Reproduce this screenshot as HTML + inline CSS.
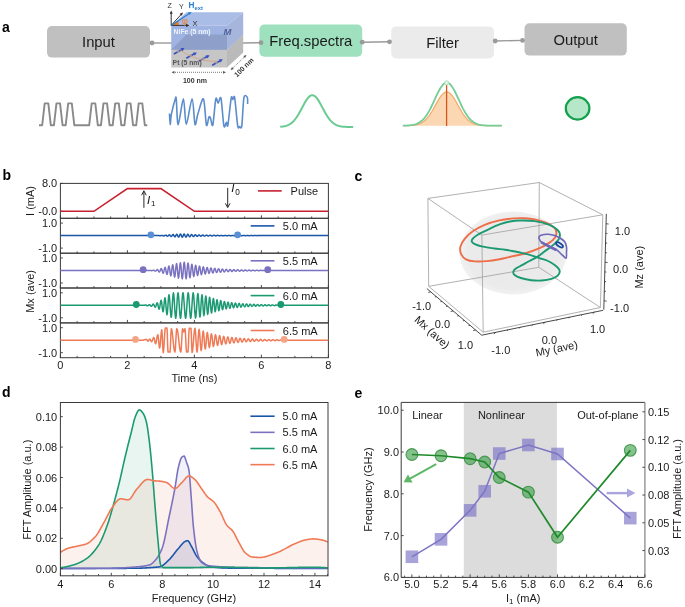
<!DOCTYPE html>
<html><head><meta charset="utf-8"><style>
html,body{margin:0;padding:0;background:#fff;}
svg{display:block;will-change:transform;}
text{font-family:"Liberation Sans", sans-serif;}
</style></head><body>
<svg width="685" height="607" viewBox="0 0 685 607" font-family="Liberation Sans, sans-serif">
<rect width="685" height="607" fill="#fff"/>
<text x="2" y="31.6" font-size="14" text-anchor="start" fill="#000" font-weight="bold" font-style="normal" >a</text>
<text x="2.4" y="180.4" font-size="14" text-anchor="start" fill="#000" font-weight="bold" font-style="normal" >b</text>
<text x="354.4" y="180.6" font-size="14" text-anchor="start" fill="#000" font-weight="bold" font-style="normal" >c</text>
<text x="2" y="397.4" font-size="14" text-anchor="start" fill="#000" font-weight="bold" font-style="normal" >d</text>
<text x="354.4" y="397.6" font-size="14" text-anchor="start" fill="#000" font-weight="bold" font-style="normal" >e</text>
<rect x="47" y="26" width="103" height="31.6" rx="5" ry="5" fill="#c0c0c0"/>
<text x="98.5" y="47.3" font-size="14.8" text-anchor="middle" fill="#1a1a1a" font-weight="normal" font-style="normal" >Input</text>
<rect x="259.4" y="24.5" width="102.8" height="32.2" rx="5" ry="5" fill="#9fe0bf"/>
<text x="310.8" y="46.1" font-size="14.8" text-anchor="middle" fill="#1a1a1a" font-weight="normal" font-style="normal" >Freq.spectra</text>
<rect x="391.2" y="26.4" width="102.8" height="32" rx="5" ry="5" fill="#ebebeb"/>
<text x="442.6" y="47.9" font-size="14.8" text-anchor="middle" fill="#1a1a1a" font-weight="normal" font-style="normal" >Filter</text>
<rect x="524.5" y="23.3" width="102.3" height="32.3" rx="5" ry="5" fill="#c0c0c0"/>
<text x="575.65" y="44.95" font-size="14.8" text-anchor="middle" fill="#1a1a1a" font-weight="normal" font-style="normal" >Output</text>
<g stroke="#9a9a9a" stroke-width="1.4" fill="none">
<line x1="152" y1="43" x2="172" y2="43"/>
<line x1="243" y1="43" x2="261" y2="42.7"/>
<line x1="362.2" y1="42.2" x2="389.5" y2="41.8"/>
<line x1="495.2" y1="41" x2="522.5" y2="40.4"/>
</g>
<circle cx="152" cy="43" r="2.4" fill="#9a9a9a"/>
<circle cx="261" cy="42.7" r="2.4" fill="#9a9a9a"/>
<circle cx="362.2" cy="42.2" r="2.4" fill="#9a9a9a"/>
<circle cx="389.5" cy="41.8" r="2.4" fill="#9a9a9a"/>
<circle cx="495.2" cy="41" r="2.4" fill="#9a9a9a"/>
<circle cx="522.5" cy="40.4" r="2.4" fill="#9a9a9a"/>
<g>
<polygon points="171.2,49.7 186.5,34.5 243.2,34.5 227,49.7" fill="#b9b9b9"/>
<polygon points="171.2,49.7 227,49.7 227,67.4 171.2,67.4" fill="#c6c6c6"/>
<polygon points="227,49.7 243.2,34.5 243.2,52.5 227,67.4" fill="#bababa"/>
<polygon points="171.2,25.4 186.5,12.3 243.2,12.3 227,25.4" fill="#aabde6"/>
<polygon points="171.2,25.4 227,25.4 227,49.7 171.2,49.7" fill="#9fb4e2"/>
<polygon points="171.2,49.7 186.5,34.5 227,34.5 227,49.7" fill="#8e9fca"/>
<polygon points="227,25.4 243.2,12.3 243.2,34.5 227,49.7" fill="#a6b5dc"/>
</g>
<line x1="173.84" y1="54.03" x2="181.96" y2="49.49" stroke="#3a50c0" stroke-width="1.7"/>
<polygon points="184.49,48.08 182.45,51.39 180.59,48.08" fill="#3a50c0"/>
<circle cx="178.3" cy="51.5" r="1.3" fill="#9a9aa8"/>
<line x1="186.24" y1="58.33" x2="194.36" y2="53.79" stroke="#3a50c0" stroke-width="1.7"/>
<polygon points="196.89,52.38 194.85,55.69 192.99,52.38" fill="#3a50c0"/>
<circle cx="190.7" cy="55.8" r="1.3" fill="#9a9aa8"/>
<line x1="198.94" y1="61.13" x2="207.06" y2="56.59" stroke="#3a50c0" stroke-width="1.7"/>
<polygon points="209.59,55.18 207.55,58.49 205.69,55.18" fill="#3a50c0"/>
<circle cx="203.4" cy="58.6" r="1.3" fill="#9a9aa8"/>
<line x1="212.14" y1="65.23" x2="220.26" y2="60.69" stroke="#3a50c0" stroke-width="1.7"/>
<polygon points="222.79,59.28 220.75,62.59 218.89,59.28" fill="#3a50c0"/>
<circle cx="216.6" cy="62.7" r="1.3" fill="#9a9aa8"/>
<path d="M179.2,48.9 Q189,57.5 205.5,60.6 Q211,61.4 216.4,61.3" stroke="#d99a6a" stroke-width="0.7" fill="none"/>
<text x="173.6" y="34.4" font-size="6.8" text-anchor="start" fill="#eef2fb" font-weight="bold" font-style="normal" >NiFe (5 nm)</text>
<text x="223.5" y="35.2" font-size="9.5" text-anchor="start" fill="#52639a" font-weight="bold" font-style="italic" >M</text>
<text x="172.6" y="65.4" font-size="6.8" text-anchor="start" fill="#555" font-weight="bold" font-style="normal" >Pt (5 nm)</text>
<polygon points="171.2,25.4 178.6,25.4 178.6,20.6" fill="#f07a20"/>
<g stroke="#333" stroke-width="1" fill="none">
<line x1="171.2" y1="25.4" x2="171.2" y2="12"/>
<line x1="171.2" y1="25.4" x2="188" y2="25.4"/>
<line x1="171.2" y1="25.4" x2="182" y2="13.5"/>
</g>
<polygon points="171.2,10.6 169.7,13.8 172.7,13.8" fill="#333"/>
<polygon points="189.5,25.4 186,23.8 186,27" fill="#333"/>
<polygon points="183,12.5 179.5,13.7 181.8,15.8" fill="#333"/>
<line x1="171.2" y1="25.4" x2="190" y2="13" stroke="#2a7fd4" stroke-width="1.2"/>
<polygon points="191.7,12 187.8,12.6 189.4,15" fill="#2a7fd4"/>
<text x="181.8" y="23.8" font-size="9.5" text-anchor="start" fill="#f07a20" font-weight="normal" font-style="normal" >φ</text>
<text x="192.4" y="26.2" font-size="7.5" text-anchor="start" fill="#333" font-weight="normal" font-style="normal" >X</text>
<text x="167.5" y="8.1" font-size="7" text-anchor="start" fill="#333" font-weight="normal" font-style="normal" >Z</text>
<text x="179.1" y="8.9" font-size="7" text-anchor="start" fill="#333" font-weight="normal" font-style="normal" >Y</text>
<text x="188.6" y="8.1" font-size="8.2" fill="#2a7fd4" font-weight="bold">H<tspan font-size="5.8" dy="1.6">ext</tspan></text>
<line x1="173" y1="72.3" x2="224.5" y2="72.3" stroke="#555" stroke-width="0.8" stroke-dasharray="1,1"/>
<polygon points="171.5,72.3 174.5,70.9 174.5,73.7" fill="#555"/>
<polygon points="226,72.3 223,70.9 223,73.7" fill="#555"/>
<text x="195" y="82.5" font-size="7" text-anchor="middle" fill="#333" font-weight="bold" font-style="normal" >100 nm</text>
<line x1="231.5" y1="69.2" x2="245.5" y2="56" stroke="#555" stroke-width="0.8" stroke-dasharray="1,1"/>
<polygon points="230.6,70 232,67 233.8,69" fill="#555"/>
<polygon points="246.5,55 245,58 243.3,56" fill="#555"/>
<text x="0" y="0" font-size="7" fill="#333" font-weight="bold" text-anchor="middle" transform="translate(245.5,69.1) rotate(-44.5)">100 nm</text>
<path d="M39,125.2 L42.2,125.2 L44.7,103.4 L48.3,103.4 L50.8,125.2 L53.95,125.2 L56.45,103.4 L60.05,103.4 L62.55,125.2 L65.7,125.2 L68.2,103.4 L71.8,103.4 L74.3,125.2 L89.2,125.2 L91.7,103.4 L95.3,103.4 L97.8,125.2 L100.95,125.2 L103.45,103.4 L107.05,103.4 L109.55,125.2 L112.7,125.2 L115.2,103.4 L118.8,103.4 L121.3,125.2 L124.45,125.2 L126.95,103.4 L130.55,103.4 L133.05,125.2 L136.2,125.2 L138.7,103.4 L142.3,103.4 L144.8,125.2 L147.3,125.2" stroke="#8a8a8a" stroke-width="1.9" fill="none" stroke-linejoin="round"/>
<path d="M169.5,113.5 C169.6,115.14 169.91,124.3 170.2,124.4 C170.48,124.51 170.63,118.03 171.4,114.2 C172.17,110.38 174.56,101.09 175.3,98.9 C176.04,96.71 175.87,95.73 176.3,99.6 C176.74,103.47 177.13,124.81 178.2,124.7 C179.26,124.59 182.19,98.95 183.4,98.9 C184.62,98.86 185,124.4 186.3,124.4 C187.61,124.4 190.79,98.9 192.1,98.9 C193.41,98.9 194.12,122.21 195,124.4 C195.88,126.59 196.72,117.33 198,113.5 C199.28,109.67 202.24,97.16 203.5,98.9 C204.76,100.64 205.59,122.37 206.4,125.1 C207.21,127.83 208.3,118.19 208.9,117.1 C209.5,116 209.81,116.6 210.4,117.8 C210.99,119 211.99,127.93 212.8,125.1 C213.61,122.27 215.01,102.19 215.8,98.9 C216.59,95.62 217.32,103.28 218.1,103.2 C218.88,103.12 220.13,95 221,98.4 C221.87,101.81 223.09,122.33 223.9,125.9 C224.71,129.47 225.8,122.32 226.4,122.2 C227,122.08 227.18,128.72 227.9,125.1 C228.62,121.48 230.45,101.92 231.2,98.1 C231.95,94.27 232.38,99.64 232.9,99.6 C233.43,99.55 233.98,93.85 234.7,97.8 C235.42,101.75 236.96,121.58 237.7,125.9 C238.44,130.22 238.98,126.6 239.6,126.6 C240.22,126.6 241.16,130.22 241.8,125.9 C242.45,121.58 243.08,102.08 243.9,97.8 C244.72,93.52 246.75,96.47 247.3,97.4 C247.86,98.33 247.56,103.01 247.6,104" stroke="#5b8ccb" stroke-width="1.6" fill="none" stroke-linejoin="round"/>
<path d="M280.2,126.78 L281.12,126.7 L282.05,126.61 L282.97,126.49 L283.9,126.34 L284.82,126.16 L285.74,125.93 L286.67,125.65 L287.59,125.31 L288.52,124.9 L289.44,124.42 L290.36,123.85 L291.29,123.19 L292.21,122.43 L293.14,121.56 L294.06,120.57 L294.98,119.47 L295.91,118.26 L296.83,116.93 L297.76,115.49 L298.68,113.96 L299.61,112.34 L300.53,110.66 L301.45,108.93 L302.38,107.19 L303.3,105.45 L304.23,103.75 L305.15,102.13 L306.07,100.61 L307,99.22 L307.92,98 L308.85,96.97 L309.77,96.16 L310.69,95.59 L311.62,95.27 L312.54,95.21 L313.47,95.41 L314.39,95.86 L315.31,96.56 L316.24,97.48 L317.16,98.62 L318.09,99.93 L319.01,101.39 L319.93,102.97 L320.86,104.64 L321.78,106.36 L322.71,108.1 L323.63,109.84 L324.55,111.55 L325.48,113.2 L326.4,114.77 L327.33,116.26 L328.25,117.64 L329.17,118.91 L330.1,120.06 L331.02,121.1 L331.95,122.03 L332.87,122.84 L333.79,123.55 L334.72,124.16 L335.64,124.68 L336.57,125.12 L337.49,125.49 L338.42,125.8 L339.34,126.05 L340.26,126.26 L341.19,126.42 L342.11,126.56 L343.04,126.66 L343.96,126.74 L344.88,126.81 L345.81,126.86 L346.73,126.89 L347.66,126.92 L348.58,126.94 L349.5,126.96 L350.43,126.97 L351.35,126.98 L352.28,126.99 L353.2,126.99" stroke="#6acb92" stroke-width="2" fill="none"/>
<path d="M402.9,125.68 L404.15,125.67 L405.4,125.66 L406.66,125.64 L407.91,125.61 L409.16,125.56 L410.41,125.51 L411.66,125.42 L412.92,125.31 L414.17,125.16 L415.42,124.97 L416.67,124.71 L417.92,124.38 L419.17,123.96 L420.43,123.44 L421.68,122.79 L422.93,122 L424.18,121.06 L425.43,119.95 L426.69,118.66 L427.94,117.18 L429.19,115.53 L430.44,113.69 L431.69,111.71 L432.95,109.59 L434.2,107.37 L435.45,105.11 L436.7,102.85 L437.95,100.65 L439.21,98.57 L440.46,96.68 L441.71,95.04 L442.96,93.7 L444.21,92.71 L445.46,92.1 L446.72,91.9 L447.97,92.11 L449.22,92.73 L450.47,93.73 L451.72,95.08 L452.98,96.73 L454.23,98.63 L455.48,100.71 L456.73,102.91 L457.98,105.17 L459.24,107.43 L460.49,109.64 L461.74,111.76 L462.99,113.74 L464.24,115.57 L465.49,117.22 L466.75,118.69 L468,119.98 L469.25,121.09 L470.5,122.02 L471.75,122.81 L473.01,123.45 L474.26,123.97 L475.51,124.39 L476.76,124.72 L478.01,124.97 L479.27,125.17 L480.52,125.32 L481.77,125.43 L483.02,125.51 L484.27,125.57 L485.53,125.61 L486.78,125.64 L488.03,125.66 L489.28,125.67 L490.53,125.68 L491.78,125.69 L493.04,125.69 L494.29,125.7 L495.54,125.7 L496.79,125.7 L498.04,125.7 L499.3,125.7 L500.55,125.7 L501.8,125.7 L501.8,125.7 L402.9,125.7 Z" fill="#fcd7b4" stroke="none"/>
<path d="M402.9,125.68 L404.15,125.67 L405.4,125.66 L406.66,125.64 L407.91,125.61 L409.16,125.56 L410.41,125.51 L411.66,125.42 L412.92,125.31 L414.17,125.16 L415.42,124.97 L416.67,124.71 L417.92,124.38 L419.17,123.96 L420.43,123.44 L421.68,122.79 L422.93,122 L424.18,121.06 L425.43,119.95 L426.69,118.66 L427.94,117.18 L429.19,115.53 L430.44,113.69 L431.69,111.71 L432.95,109.59 L434.2,107.37 L435.45,105.11 L436.7,102.85 L437.95,100.65 L439.21,98.57 L440.46,96.68 L441.71,95.04 L442.96,93.7 L444.21,92.71 L445.46,92.1 L446.72,91.9 L447.97,92.11 L449.22,92.73 L450.47,93.73 L451.72,95.08 L452.98,96.73 L454.23,98.63 L455.48,100.71 L456.73,102.91 L457.98,105.17 L459.24,107.43 L460.49,109.64 L461.74,111.76 L462.99,113.74 L464.24,115.57 L465.49,117.22 L466.75,118.69 L468,119.98 L469.25,121.09 L470.5,122.02 L471.75,122.81 L473.01,123.45 L474.26,123.97 L475.51,124.39 L476.76,124.72 L478.01,124.97 L479.27,125.17 L480.52,125.32 L481.77,125.43 L483.02,125.51 L484.27,125.57 L485.53,125.61 L486.78,125.64 L488.03,125.66 L489.28,125.67 L490.53,125.68 L491.78,125.69 L493.04,125.69 L494.29,125.7 L495.54,125.7 L496.79,125.7 L498.04,125.7 L499.3,125.7 L500.55,125.7 L501.8,125.7" stroke="#f2aa66" stroke-width="1.2" fill="none"/>
<path d="M402.9,125.64 L404.15,125.62 L405.4,125.58 L406.66,125.54 L407.91,125.47 L409.16,125.38 L410.41,125.25 L411.66,125.09 L412.92,124.88 L414.17,124.61 L415.42,124.26 L416.67,123.82 L417.92,123.27 L419.17,122.6 L420.43,121.78 L421.68,120.8 L422.93,119.64 L424.18,118.29 L425.43,116.74 L426.69,114.97 L427.94,113 L429.19,110.84 L430.44,108.49 L431.69,105.98 L432.95,103.35 L434.2,100.65 L435.45,97.93 L436.7,95.24 L437.95,92.65 L439.21,90.24 L440.46,88.06 L441.71,86.17 L442.96,84.64 L444.21,83.52 L445.46,82.83 L446.72,82.6 L447.97,82.84 L449.22,83.54 L450.47,84.68 L451.72,86.22 L452.98,88.11 L454.23,90.3 L455.48,92.72 L456.73,95.31 L457.98,98 L459.24,100.72 L460.49,103.42 L461.74,106.05 L462.99,108.55 L464.24,110.9 L465.49,113.06 L466.75,115.02 L468,116.78 L469.25,118.33 L470.5,119.67 L471.75,120.83 L473.01,121.8 L474.26,122.62 L475.51,123.29 L476.76,123.83 L478.01,124.27 L479.27,124.62 L480.52,124.89 L481.77,125.1 L483.02,125.26 L484.27,125.38 L485.53,125.47 L486.78,125.54 L488.03,125.59 L489.28,125.62 L490.53,125.65 L491.78,125.66 L493.04,125.68 L494.29,125.68 L495.54,125.69 L496.79,125.69 L498.04,125.7 L499.3,125.7 L500.55,125.7 L501.8,125.7" stroke="#74cc96" stroke-width="1.8" fill="none"/>
<line x1="446.6" y1="84" x2="446.6" y2="126" stroke="#d4561c" stroke-width="1.3"/>
<circle cx="446.7" cy="82.8" r="2.2" fill="#dff2e6" stroke="#9ad9b0" stroke-width="0.6"/>
<ellipse cx="577.6" cy="108.4" rx="11.8" ry="11.2" fill="#b5e7c8" stroke="#12a04c" stroke-width="2.2"/>
<rect x="60.4" y="183.4" width="268" height="34.9" fill="none" stroke="#3a3a3a" stroke-width="1"/>
<line x1="60.4" y1="218.3" x2="60.4" y2="215.3" stroke="#3a3a3a" stroke-width="0.9"/>
<line x1="77.15" y1="218.3" x2="77.15" y2="216.5" stroke="#3a3a3a" stroke-width="0.9"/>
<line x1="93.9" y1="218.3" x2="93.9" y2="216.5" stroke="#3a3a3a" stroke-width="0.9"/>
<line x1="110.65" y1="218.3" x2="110.65" y2="216.5" stroke="#3a3a3a" stroke-width="0.9"/>
<line x1="127.4" y1="218.3" x2="127.4" y2="215.3" stroke="#3a3a3a" stroke-width="0.9"/>
<line x1="144.15" y1="218.3" x2="144.15" y2="216.5" stroke="#3a3a3a" stroke-width="0.9"/>
<line x1="160.9" y1="218.3" x2="160.9" y2="216.5" stroke="#3a3a3a" stroke-width="0.9"/>
<line x1="177.65" y1="218.3" x2="177.65" y2="216.5" stroke="#3a3a3a" stroke-width="0.9"/>
<line x1="194.4" y1="218.3" x2="194.4" y2="215.3" stroke="#3a3a3a" stroke-width="0.9"/>
<line x1="211.15" y1="218.3" x2="211.15" y2="216.5" stroke="#3a3a3a" stroke-width="0.9"/>
<line x1="227.9" y1="218.3" x2="227.9" y2="216.5" stroke="#3a3a3a" stroke-width="0.9"/>
<line x1="244.65" y1="218.3" x2="244.65" y2="216.5" stroke="#3a3a3a" stroke-width="0.9"/>
<line x1="261.4" y1="218.3" x2="261.4" y2="215.3" stroke="#3a3a3a" stroke-width="0.9"/>
<line x1="278.15" y1="218.3" x2="278.15" y2="216.5" stroke="#3a3a3a" stroke-width="0.9"/>
<line x1="294.9" y1="218.3" x2="294.9" y2="216.5" stroke="#3a3a3a" stroke-width="0.9"/>
<line x1="311.65" y1="218.3" x2="311.65" y2="216.5" stroke="#3a3a3a" stroke-width="0.9"/>
<line x1="328.4" y1="218.3" x2="328.4" y2="215.3" stroke="#3a3a3a" stroke-width="0.9"/>
<rect x="60.4" y="218.3" width="268" height="34.9" fill="none" stroke="#3a3a3a" stroke-width="1"/>
<line x1="60.4" y1="253.2" x2="60.4" y2="250.2" stroke="#3a3a3a" stroke-width="0.9"/>
<line x1="77.15" y1="253.2" x2="77.15" y2="251.4" stroke="#3a3a3a" stroke-width="0.9"/>
<line x1="93.9" y1="253.2" x2="93.9" y2="251.4" stroke="#3a3a3a" stroke-width="0.9"/>
<line x1="110.65" y1="253.2" x2="110.65" y2="251.4" stroke="#3a3a3a" stroke-width="0.9"/>
<line x1="127.4" y1="253.2" x2="127.4" y2="250.2" stroke="#3a3a3a" stroke-width="0.9"/>
<line x1="144.15" y1="253.2" x2="144.15" y2="251.4" stroke="#3a3a3a" stroke-width="0.9"/>
<line x1="160.9" y1="253.2" x2="160.9" y2="251.4" stroke="#3a3a3a" stroke-width="0.9"/>
<line x1="177.65" y1="253.2" x2="177.65" y2="251.4" stroke="#3a3a3a" stroke-width="0.9"/>
<line x1="194.4" y1="253.2" x2="194.4" y2="250.2" stroke="#3a3a3a" stroke-width="0.9"/>
<line x1="211.15" y1="253.2" x2="211.15" y2="251.4" stroke="#3a3a3a" stroke-width="0.9"/>
<line x1="227.9" y1="253.2" x2="227.9" y2="251.4" stroke="#3a3a3a" stroke-width="0.9"/>
<line x1="244.65" y1="253.2" x2="244.65" y2="251.4" stroke="#3a3a3a" stroke-width="0.9"/>
<line x1="261.4" y1="253.2" x2="261.4" y2="250.2" stroke="#3a3a3a" stroke-width="0.9"/>
<line x1="278.15" y1="253.2" x2="278.15" y2="251.4" stroke="#3a3a3a" stroke-width="0.9"/>
<line x1="294.9" y1="253.2" x2="294.9" y2="251.4" stroke="#3a3a3a" stroke-width="0.9"/>
<line x1="311.65" y1="253.2" x2="311.65" y2="251.4" stroke="#3a3a3a" stroke-width="0.9"/>
<line x1="328.4" y1="253.2" x2="328.4" y2="250.2" stroke="#3a3a3a" stroke-width="0.9"/>
<rect x="60.4" y="253.2" width="268" height="34.8" fill="none" stroke="#3a3a3a" stroke-width="1"/>
<line x1="60.4" y1="288" x2="60.4" y2="285" stroke="#3a3a3a" stroke-width="0.9"/>
<line x1="77.15" y1="288" x2="77.15" y2="286.2" stroke="#3a3a3a" stroke-width="0.9"/>
<line x1="93.9" y1="288" x2="93.9" y2="286.2" stroke="#3a3a3a" stroke-width="0.9"/>
<line x1="110.65" y1="288" x2="110.65" y2="286.2" stroke="#3a3a3a" stroke-width="0.9"/>
<line x1="127.4" y1="288" x2="127.4" y2="285" stroke="#3a3a3a" stroke-width="0.9"/>
<line x1="144.15" y1="288" x2="144.15" y2="286.2" stroke="#3a3a3a" stroke-width="0.9"/>
<line x1="160.9" y1="288" x2="160.9" y2="286.2" stroke="#3a3a3a" stroke-width="0.9"/>
<line x1="177.65" y1="288" x2="177.65" y2="286.2" stroke="#3a3a3a" stroke-width="0.9"/>
<line x1="194.4" y1="288" x2="194.4" y2="285" stroke="#3a3a3a" stroke-width="0.9"/>
<line x1="211.15" y1="288" x2="211.15" y2="286.2" stroke="#3a3a3a" stroke-width="0.9"/>
<line x1="227.9" y1="288" x2="227.9" y2="286.2" stroke="#3a3a3a" stroke-width="0.9"/>
<line x1="244.65" y1="288" x2="244.65" y2="286.2" stroke="#3a3a3a" stroke-width="0.9"/>
<line x1="261.4" y1="288" x2="261.4" y2="285" stroke="#3a3a3a" stroke-width="0.9"/>
<line x1="278.15" y1="288" x2="278.15" y2="286.2" stroke="#3a3a3a" stroke-width="0.9"/>
<line x1="294.9" y1="288" x2="294.9" y2="286.2" stroke="#3a3a3a" stroke-width="0.9"/>
<line x1="311.65" y1="288" x2="311.65" y2="286.2" stroke="#3a3a3a" stroke-width="0.9"/>
<line x1="328.4" y1="288" x2="328.4" y2="285" stroke="#3a3a3a" stroke-width="0.9"/>
<rect x="60.4" y="288" width="268" height="34.9" fill="none" stroke="#3a3a3a" stroke-width="1"/>
<line x1="60.4" y1="322.9" x2="60.4" y2="319.9" stroke="#3a3a3a" stroke-width="0.9"/>
<line x1="77.15" y1="322.9" x2="77.15" y2="321.1" stroke="#3a3a3a" stroke-width="0.9"/>
<line x1="93.9" y1="322.9" x2="93.9" y2="321.1" stroke="#3a3a3a" stroke-width="0.9"/>
<line x1="110.65" y1="322.9" x2="110.65" y2="321.1" stroke="#3a3a3a" stroke-width="0.9"/>
<line x1="127.4" y1="322.9" x2="127.4" y2="319.9" stroke="#3a3a3a" stroke-width="0.9"/>
<line x1="144.15" y1="322.9" x2="144.15" y2="321.1" stroke="#3a3a3a" stroke-width="0.9"/>
<line x1="160.9" y1="322.9" x2="160.9" y2="321.1" stroke="#3a3a3a" stroke-width="0.9"/>
<line x1="177.65" y1="322.9" x2="177.65" y2="321.1" stroke="#3a3a3a" stroke-width="0.9"/>
<line x1="194.4" y1="322.9" x2="194.4" y2="319.9" stroke="#3a3a3a" stroke-width="0.9"/>
<line x1="211.15" y1="322.9" x2="211.15" y2="321.1" stroke="#3a3a3a" stroke-width="0.9"/>
<line x1="227.9" y1="322.9" x2="227.9" y2="321.1" stroke="#3a3a3a" stroke-width="0.9"/>
<line x1="244.65" y1="322.9" x2="244.65" y2="321.1" stroke="#3a3a3a" stroke-width="0.9"/>
<line x1="261.4" y1="322.9" x2="261.4" y2="319.9" stroke="#3a3a3a" stroke-width="0.9"/>
<line x1="278.15" y1="322.9" x2="278.15" y2="321.1" stroke="#3a3a3a" stroke-width="0.9"/>
<line x1="294.9" y1="322.9" x2="294.9" y2="321.1" stroke="#3a3a3a" stroke-width="0.9"/>
<line x1="311.65" y1="322.9" x2="311.65" y2="321.1" stroke="#3a3a3a" stroke-width="0.9"/>
<line x1="328.4" y1="322.9" x2="328.4" y2="319.9" stroke="#3a3a3a" stroke-width="0.9"/>
<rect x="60.4" y="322.9" width="268" height="34.8" fill="none" stroke="#3a3a3a" stroke-width="1"/>
<line x1="60.4" y1="357.7" x2="60.4" y2="354.7" stroke="#3a3a3a" stroke-width="0.9"/>
<line x1="77.15" y1="357.7" x2="77.15" y2="355.9" stroke="#3a3a3a" stroke-width="0.9"/>
<line x1="93.9" y1="357.7" x2="93.9" y2="355.9" stroke="#3a3a3a" stroke-width="0.9"/>
<line x1="110.65" y1="357.7" x2="110.65" y2="355.9" stroke="#3a3a3a" stroke-width="0.9"/>
<line x1="127.4" y1="357.7" x2="127.4" y2="354.7" stroke="#3a3a3a" stroke-width="0.9"/>
<line x1="144.15" y1="357.7" x2="144.15" y2="355.9" stroke="#3a3a3a" stroke-width="0.9"/>
<line x1="160.9" y1="357.7" x2="160.9" y2="355.9" stroke="#3a3a3a" stroke-width="0.9"/>
<line x1="177.65" y1="357.7" x2="177.65" y2="355.9" stroke="#3a3a3a" stroke-width="0.9"/>
<line x1="194.4" y1="357.7" x2="194.4" y2="354.7" stroke="#3a3a3a" stroke-width="0.9"/>
<line x1="211.15" y1="357.7" x2="211.15" y2="355.9" stroke="#3a3a3a" stroke-width="0.9"/>
<line x1="227.9" y1="357.7" x2="227.9" y2="355.9" stroke="#3a3a3a" stroke-width="0.9"/>
<line x1="244.65" y1="357.7" x2="244.65" y2="355.9" stroke="#3a3a3a" stroke-width="0.9"/>
<line x1="261.4" y1="357.7" x2="261.4" y2="354.7" stroke="#3a3a3a" stroke-width="0.9"/>
<line x1="278.15" y1="357.7" x2="278.15" y2="355.9" stroke="#3a3a3a" stroke-width="0.9"/>
<line x1="294.9" y1="357.7" x2="294.9" y2="355.9" stroke="#3a3a3a" stroke-width="0.9"/>
<line x1="311.65" y1="357.7" x2="311.65" y2="355.9" stroke="#3a3a3a" stroke-width="0.9"/>
<line x1="328.4" y1="357.7" x2="328.4" y2="354.7" stroke="#3a3a3a" stroke-width="0.9"/>
<line x1="60.4" y1="183.38" x2="62.9" y2="183.38" stroke="#3a3a3a" stroke-width="0.9"/>
<text x="57.2" y="187.38" font-size="11" text-anchor="end" fill="#1a1a1a" font-weight="normal" font-style="normal" >8.0</text>
<line x1="60.4" y1="211.3" x2="62.9" y2="211.3" stroke="#3a3a3a" stroke-width="0.9"/>
<text x="57.2" y="215.3" font-size="11" text-anchor="end" fill="#1a1a1a" font-weight="normal" font-style="normal" >-0.0</text>
<path d="M60.4,211.3 L93.9,211.3 L127.4,188.62 L160.9,188.62 L194.4,211.3 L328.4,211.3" stroke="#c8202e" stroke-width="1.6" fill="none"/>
<line x1="143.9" y1="207.8" x2="143.9" y2="192" stroke="#111" stroke-width="0.9"/>
<path d="M141.6,195.2 L143.9,190.8 L146.2,195.2" stroke="#111" stroke-width="0.9" fill="none"/>
<text x="147" y="204.4" font-size="11.5" fill="#111" font-style="italic">I<tspan font-size="8" font-style="normal" dx="0.8" dy="1.6">1</tspan></text>
<line x1="227.7" y1="187.8" x2="227.7" y2="206.5" stroke="#111" stroke-width="0.9"/>
<path d="M225.4,203.4 L227.7,207.6 L230,203.4" stroke="#111" stroke-width="0.9" fill="none"/>
<text x="231.2" y="192.2" font-size="11.5" fill="#111" font-style="italic">I<tspan font-size="8.2" font-style="normal" dx="0.9" dy="2.3">0</tspan></text>
<line x1="258" y1="190.9" x2="281.7" y2="190.9" stroke="#c8202e" stroke-width="1.6"/>
<text x="290.6" y="194.9" font-size="11" text-anchor="start" fill="#1a1a1a" font-weight="normal" font-style="normal" >Pulse</text>
<line x1="60.4" y1="223.1" x2="62.9" y2="223.1" stroke="#3a3a3a" stroke-width="0.9"/>
<text x="57.2" y="227.1" font-size="11" text-anchor="end" fill="#1a1a1a" font-weight="normal" font-style="normal" >1.0</text>
<line x1="60.4" y1="248.1" x2="62.9" y2="248.1" stroke="#3a3a3a" stroke-width="0.9"/>
<text x="57.2" y="252.1" font-size="11" text-anchor="end" fill="#1a1a1a" font-weight="normal" font-style="normal" >-1.0</text>
<path d="M60.4,235.6 L60.67,235.6 L60.94,235.6 L61.2,235.6 L61.47,235.6 L61.74,235.6 L62.01,235.6 L62.28,235.6 L62.54,235.6 L62.81,235.6 L63.08,235.6 L63.35,235.6 L63.62,235.6 L63.88,235.6 L64.15,235.6 L64.42,235.6 L64.69,235.6 L64.96,235.6 L65.22,235.6 L65.49,235.6 L65.76,235.6 L66.03,235.6 L66.3,235.6 L66.56,235.6 L66.83,235.6 L67.1,235.6 L67.37,235.6 L67.64,235.6 L67.9,235.6 L68.17,235.6 L68.44,235.6 L68.71,235.6 L68.98,235.6 L69.24,235.6 L69.51,235.6 L69.78,235.6 L70.05,235.6 L70.32,235.6 L70.58,235.6 L70.85,235.6 L71.12,235.6 L71.39,235.6 L71.66,235.6 L71.92,235.6 L72.19,235.6 L72.46,235.6 L72.73,235.6 L73,235.6 L73.26,235.6 L73.53,235.6 L73.8,235.6 L74.07,235.6 L74.34,235.6 L74.6,235.6 L74.87,235.6 L75.14,235.6 L75.41,235.6 L75.68,235.6 L75.94,235.6 L76.21,235.6 L76.48,235.6 L76.75,235.6 L77.02,235.6 L77.28,235.6 L77.55,235.6 L77.82,235.6 L78.09,235.6 L78.36,235.6 L78.62,235.6 L78.89,235.6 L79.16,235.6 L79.43,235.6 L79.7,235.6 L79.96,235.6 L80.23,235.6 L80.5,235.6 L80.77,235.6 L81.04,235.6 L81.3,235.6 L81.57,235.6 L81.84,235.6 L82.11,235.6 L82.38,235.6 L82.64,235.6 L82.91,235.6 L83.18,235.6 L83.45,235.6 L83.72,235.6 L83.98,235.6 L84.25,235.6 L84.52,235.6 L84.79,235.6 L85.06,235.6 L85.32,235.6 L85.59,235.6 L85.86,235.6 L86.13,235.6 L86.4,235.6 L86.66,235.6 L86.93,235.6 L87.2,235.6 L87.47,235.6 L87.74,235.6 L88,235.6 L88.27,235.6 L88.54,235.6 L88.81,235.6 L89.08,235.6 L89.34,235.6 L89.61,235.6 L89.88,235.6 L90.15,235.6 L90.42,235.6 L90.68,235.6 L90.95,235.6 L91.22,235.6 L91.49,235.6 L91.76,235.6 L92.02,235.6 L92.29,235.6 L92.56,235.6 L92.83,235.6 L93.1,235.6 L93.36,235.6 L93.63,235.6 L93.9,235.6 L94.17,235.6 L94.44,235.6 L94.7,235.6 L94.97,235.6 L95.24,235.6 L95.51,235.6 L95.78,235.6 L96.04,235.6 L96.31,235.6 L96.58,235.6 L96.85,235.6 L97.12,235.6 L97.38,235.6 L97.65,235.6 L97.92,235.6 L98.19,235.6 L98.46,235.6 L98.72,235.6 L98.99,235.6 L99.26,235.6 L99.53,235.6 L99.8,235.6 L100.06,235.6 L100.33,235.6 L100.6,235.6 L100.87,235.6 L101.14,235.6 L101.4,235.6 L101.67,235.6 L101.94,235.6 L102.21,235.6 L102.48,235.6 L102.74,235.6 L103.01,235.6 L103.28,235.6 L103.55,235.6 L103.82,235.6 L104.08,235.6 L104.35,235.6 L104.62,235.6 L104.89,235.6 L105.16,235.6 L105.42,235.6 L105.69,235.6 L105.96,235.6 L106.23,235.6 L106.5,235.6 L106.76,235.6 L107.03,235.6 L107.3,235.6 L107.57,235.6 L107.84,235.6 L108.1,235.6 L108.37,235.6 L108.64,235.6 L108.91,235.6 L109.18,235.6 L109.44,235.6 L109.71,235.6 L109.98,235.6 L110.25,235.6 L110.52,235.6 L110.78,235.6 L111.05,235.6 L111.32,235.6 L111.59,235.6 L111.86,235.6 L112.12,235.6 L112.39,235.6 L112.66,235.6 L112.93,235.6 L113.2,235.6 L113.46,235.6 L113.73,235.6 L114,235.6 L114.27,235.6 L114.54,235.6 L114.8,235.6 L115.07,235.6 L115.34,235.6 L115.61,235.6 L115.88,235.6 L116.14,235.6 L116.41,235.6 L116.68,235.6 L116.95,235.6 L117.22,235.6 L117.48,235.6 L117.75,235.6 L118.02,235.6 L118.29,235.6 L118.56,235.6 L118.82,235.6 L119.09,235.6 L119.36,235.6 L119.63,235.6 L119.9,235.6 L120.16,235.6 L120.43,235.6 L120.7,235.6 L120.97,235.6 L121.24,235.6 L121.5,235.6 L121.77,235.6 L122.04,235.6 L122.31,235.6 L122.58,235.6 L122.84,235.6 L123.11,235.6 L123.38,235.6 L123.65,235.6 L123.92,235.6 L124.18,235.6 L124.45,235.6 L124.72,235.6 L124.99,235.6 L125.26,235.6 L125.52,235.6 L125.79,235.6 L126.06,235.6 L126.33,235.6 L126.6,235.6 L126.86,235.6 L127.13,235.6 L127.4,235.6 L127.67,235.6 L127.94,235.6 L128.2,235.6 L128.47,235.6 L128.74,235.6 L129.01,235.6 L129.28,235.6 L129.54,235.6 L129.81,235.6 L130.08,235.6 L130.35,235.6 L130.62,235.6 L130.88,235.6 L131.15,235.6 L131.42,235.6 L131.69,235.6 L131.96,235.6 L132.22,235.6 L132.49,235.6 L132.76,235.6 L133.03,235.6 L133.3,235.6 L133.56,235.6 L133.83,235.6 L134.1,235.6 L134.37,235.6 L134.64,235.6 L134.9,235.6 L135.17,235.6 L135.44,235.6 L135.71,235.6 L135.98,235.6 L136.24,235.6 L136.51,235.6 L136.78,235.6 L137.05,235.6 L137.32,235.6 L137.58,235.6 L137.85,235.6 L138.12,235.6 L138.39,235.6 L138.66,235.6 L138.92,235.6 L139.19,235.6 L139.46,235.6 L139.73,235.6 L140,235.6 L140.26,235.6 L140.53,235.6 L140.8,235.6 L141.07,235.6 L141.34,235.6 L141.6,235.6 L141.87,235.6 L142.14,235.6 L142.41,235.6 L142.68,235.6 L142.94,235.6 L143.21,235.6 L143.48,235.6 L143.75,235.6 L144.02,235.6 L144.28,235.6 L144.55,235.6 L144.82,235.6 L145.09,235.6 L145.36,235.6 L145.62,235.6 L145.89,235.6 L146.16,235.6 L146.43,235.6 L146.7,235.6 L146.96,235.6 L147.23,235.6 L147.5,235.6 L147.77,235.6 L148.04,235.6 L148.3,235.6 L148.57,235.6 L148.84,235.6 L149.11,235.6 L149.38,235.6 L149.64,235.6 L149.91,235.6 L150.18,235.6 L150.45,235.6 L150.72,235.6 L150.98,235.6 L151.25,235.6 L151.52,235.6 L151.79,235.6 L152.06,235.6 L152.32,235.6 L152.59,235.6 L152.86,235.6 L153.13,235.6 L153.4,235.6 L153.66,235.6 L153.93,235.6 L154.2,235.6 L154.47,235.6 L154.74,235.6 L155,235.6 L155.27,235.6 L155.54,235.6 L155.81,235.6 L156.08,235.6 L156.34,235.6 L156.61,235.6 L156.88,235.6 L157.15,235.6 L157.42,235.59 L157.68,235.59 L157.95,235.58 L158.22,235.57 L158.49,235.57 L158.76,235.58 L159.02,235.6 L159.29,235.63 L159.56,235.66 L159.83,235.68 L160.1,235.7 L160.36,235.69 L160.63,235.65 L160.9,235.6 L161.17,235.53 L161.44,235.47 L161.7,235.42 L161.97,235.41 L162.24,235.44 L162.51,235.51 L162.78,235.61 L163.04,235.72 L163.31,235.82 L163.58,235.89 L163.85,235.91 L164.12,235.85 L164.38,235.74 L164.65,235.58 L164.92,235.41 L165.19,235.26 L165.46,235.17 L165.72,235.16 L165.99,235.25 L166.26,235.42 L166.53,235.64 L166.8,235.87 L167.06,236.07 L167.33,236.18 L167.6,236.18 L167.87,236.06 L168.14,235.83 L168.4,235.53 L168.67,235.23 L168.94,234.99 L169.21,234.86 L169.48,234.87 L169.74,235.04 L170.01,235.34 L170.28,235.71 L170.55,236.07 L170.82,236.36 L171.08,236.51 L171.35,236.47 L171.62,236.26 L171.89,235.89 L172.16,235.45 L172.42,235.02 L172.69,234.69 L172.96,234.53 L173.23,234.59 L173.5,234.86 L173.76,235.29 L174.03,235.8 L174.3,236.29 L174.57,236.66 L174.84,236.82 L175.1,236.73 L175.37,236.41 L175.64,235.92 L175.91,235.34 L176.18,234.8 L176.44,234.41 L176.71,234.25 L176.98,234.36 L177.25,234.73 L177.52,235.28 L177.78,235.92 L178.05,236.5 L178.32,236.91 L178.59,237.07 L178.86,236.92 L179.12,236.51 L179.39,235.9 L179.66,235.22 L179.93,234.61 L180.2,234.19 L180.46,234.05 L180.73,234.22 L181,234.68 L181.27,235.32 L181.54,236.03 L181.8,236.66 L182.07,237.08 L182.34,237.21 L182.61,237 L182.88,236.52 L183.14,235.84 L183.41,235.12 L183.68,234.49 L183.95,234.08 L184.22,234 L184.48,234.24 L184.75,234.75 L185.02,235.41 L185.29,236.09 L185.56,236.65 L185.82,236.99 L186.09,237.04 L186.36,236.81 L186.63,236.34 L186.9,235.74 L187.16,235.13 L187.43,234.63 L187.7,234.33 L187.97,234.3 L188.24,234.53 L188.5,234.96 L188.77,235.51 L189.04,236.06 L189.31,236.5 L189.58,236.75 L189.84,236.77 L190.11,236.55 L190.38,236.15 L190.65,235.66 L190.92,235.16 L191.18,234.77 L191.45,234.55 L191.72,234.55 L191.99,234.75 L192.26,235.12 L192.52,235.57 L192.79,236.02 L193.06,236.37 L193.33,236.55 L193.6,236.54 L193.86,236.35 L194.13,236.01 L194.4,235.6 L194.67,235.2 L194.94,234.89 L195.2,234.73 L195.47,234.75 L195.74,234.94 L196.01,235.25 L196.28,235.62 L196.54,235.98 L196.81,236.25 L197.08,236.39 L197.35,236.36 L197.62,236.19 L197.88,235.9 L198.15,235.56 L198.42,235.24 L198.69,235 L198.96,234.89 L199.22,234.92 L199.49,235.08 L199.76,235.35 L200.03,235.65 L200.3,235.94 L200.56,236.15 L200.83,236.25 L201.1,236.21 L201.37,236.06 L201.64,235.82 L201.9,235.54 L202.17,235.28 L202.44,235.1 L202.71,235.01 L202.98,235.05 L203.24,235.2 L203.51,235.42 L203.78,235.67 L204.05,235.9 L204.32,236.06 L204.58,236.13 L204.85,236.09 L205.12,235.95 L205.39,235.75 L205.66,235.52 L205.92,235.32 L206.19,235.18 L206.46,235.12 L206.73,235.16 L207,235.29 L207.26,235.47 L207.53,235.68 L207.8,235.86 L208.07,235.99 L208.34,236.03 L208.6,235.99 L208.87,235.87 L209.14,235.7 L209.41,235.52 L209.68,235.35 L209.94,235.24 L210.21,235.21 L210.48,235.25 L210.75,235.36 L211.02,235.52 L211.28,235.68 L211.55,235.83 L211.82,235.93 L212.09,235.95 L212.36,235.91 L212.62,235.81 L212.89,235.67 L213.16,235.52 L213.43,235.39 L213.7,235.3 L213.96,235.28 L214.23,235.32 L214.5,235.42 L214.77,235.55 L215.04,235.68 L215.3,235.8 L215.57,235.87 L215.84,235.89 L216.11,235.85 L216.38,235.76 L216.64,235.64 L216.91,235.52 L217.18,235.42 L217.45,235.35 L217.72,235.34 L217.98,235.38 L218.25,235.46 L218.52,235.57 L218.79,235.68 L219.06,235.77 L219.32,235.83 L219.59,235.83 L219.86,235.8 L220.13,235.72 L220.4,235.62 L220.66,235.52 L220.93,235.44 L221.2,235.39 L221.47,235.39 L221.74,235.43 L222,235.5 L222.27,235.58 L222.54,235.67 L222.81,235.75 L223.08,235.79 L223.34,235.79 L223.61,235.75 L223.88,235.69 L224.15,235.61 L224.42,235.53 L224.68,235.47 L224.95,235.43 L225.22,235.43 L225.49,235.46 L225.76,235.52 L226.02,235.6 L226.29,235.67 L226.56,235.72 L226.83,235.75 L227.1,235.75 L227.36,235.72 L227.63,235.67 L227.9,235.6 L228.17,235.54 L228.44,235.49 L228.7,235.46 L228.97,235.46 L229.24,235.49 L229.51,235.54 L229.78,235.6 L230.04,235.66 L230.31,235.71 L230.58,235.73 L230.85,235.72 L231.12,235.7 L231.38,235.65 L231.65,235.59 L231.92,235.54 L232.19,235.5 L232.46,235.48 L232.72,235.49 L232.99,235.52 L233.26,235.56 L233.53,235.61 L233.8,235.65 L234.06,235.69 L234.33,235.7 L234.6,235.7 L234.87,235.67 L235.14,235.63 L235.4,235.59 L235.67,235.55 L235.94,235.52 L236.21,235.5 L236.48,235.51 L236.74,235.53 L237.01,235.57 L237.28,235.61 L237.55,235.65 L237.82,235.68 L238.08,235.69 L238.35,235.68 L238.62,235.66 L238.89,235.62 L239.16,235.59 L239.42,235.55 L239.69,235.53 L239.96,235.52 L240.23,235.53 L240.5,235.55 L240.76,235.58 L241.03,235.61 L241.3,235.64 L241.57,235.66 L241.84,235.67 L242.1,235.66 L242.37,235.64 L242.64,235.62 L242.91,235.59 L243.18,235.56 L243.44,235.54 L243.71,235.54 L243.98,235.54 L244.25,235.56 L244.52,235.59 L244.78,235.61 L245.05,235.64 L245.32,235.65 L245.59,235.66 L245.86,235.65 L246.12,235.63 L246.39,235.61 L246.66,235.59 L246.93,235.57 L247.2,235.55 L247.46,235.55 L247.73,235.55 L248,235.57 L248.27,235.59 L248.54,235.61 L248.8,235.63 L249.07,235.64 L249.34,235.65 L249.61,235.64 L249.88,235.63 L250.14,235.61 L250.41,235.59 L250.68,235.57 L250.95,235.56 L251.22,235.56 L251.48,235.56 L251.75,235.58 L252.02,235.59 L252.29,235.61 L252.56,235.63 L252.82,235.64 L253.09,235.64 L253.36,235.63 L253.63,235.62 L253.9,235.6 L254.16,235.59 L254.43,235.57 L254.7,235.57 L254.97,235.57 L255.24,235.57 L255.5,235.58 L255.77,235.6 L256.04,235.61 L256.31,235.62 L256.58,235.63 L256.84,235.63 L257.11,235.63 L257.38,235.61 L257.65,235.6 L257.92,235.59 L258.18,235.58 L258.45,235.57 L258.72,235.57 L258.99,235.58 L259.26,235.59 L259.52,235.6 L259.79,235.61 L260.06,235.62 L260.33,235.63 L260.6,235.62 L260.86,235.62 L261.13,235.61 L261.4,235.6 L261.67,235.59 L261.94,235.58 L262.2,235.58 L262.47,235.58 L262.74,235.58 L263.01,235.59 L263.28,235.6 L263.54,235.61 L263.81,235.62 L264.08,235.62 L264.35,235.62 L264.62,235.62 L264.88,235.61 L265.15,235.6 L265.42,235.59 L265.69,235.58 L265.96,235.58 L266.22,235.58 L266.49,235.59 L266.76,235.59 L267.03,235.6 L267.3,235.61 L267.56,235.61 L267.83,235.62 L268.1,235.62 L268.37,235.61 L268.64,235.61 L268.9,235.6 L269.17,235.59 L269.44,235.59 L269.71,235.58 L269.98,235.59 L270.24,235.59 L270.51,235.6 L270.78,235.6 L271.05,235.61 L271.32,235.61 L271.58,235.61 L271.85,235.61 L272.12,235.61 L272.39,235.6 L272.66,235.6 L272.92,235.59 L273.19,235.59 L273.46,235.59 L273.73,235.59 L274,235.59 L274.26,235.6 L274.53,235.6 L274.8,235.61 L275.07,235.61 L275.34,235.61 L275.6,235.61 L275.87,235.61 L276.14,235.6 L276.41,235.6 L276.68,235.59 L276.94,235.59 L277.21,235.59 L277.48,235.59 L277.75,235.59 L278.02,235.6 L278.28,235.6 L278.55,235.61 L278.82,235.61 L279.09,235.61 L279.36,235.61 L279.62,235.61 L279.89,235.6 L280.16,235.6 L280.43,235.59 L280.7,235.59 L280.96,235.59 L281.23,235.59 L281.5,235.6 L281.77,235.6 L282.04,235.6 L282.3,235.61 L282.57,235.61 L282.84,235.61 L283.11,235.61 L283.38,235.6 L283.64,235.6 L283.91,235.6 L284.18,235.6 L284.45,235.59 L284.72,235.59 L284.98,235.59 L285.25,235.6 L285.52,235.6 L285.79,235.6 L286.06,235.6 L286.32,235.61 L286.59,235.61 L286.86,235.61 L287.13,235.6 L287.4,235.6 L287.66,235.6 L287.93,235.6 L288.2,235.59 L288.47,235.59 L288.74,235.6 L289,235.6 L289.27,235.6 L289.54,235.6 L289.81,235.6 L290.08,235.6 L290.34,235.6 L290.61,235.6 L290.88,235.6 L291.15,235.6 L291.42,235.6 L291.68,235.6 L291.95,235.6 L292.22,235.6 L292.49,235.6 L292.76,235.6 L293.02,235.6 L293.29,235.6 L293.56,235.6 L293.83,235.6 L294.1,235.6 L294.36,235.6 L294.63,235.6 L294.9,235.6 L295.17,235.6 L295.44,235.6 L295.7,235.6 L295.97,235.6 L296.24,235.6 L296.51,235.6 L296.78,235.6 L297.04,235.6 L297.31,235.6 L297.58,235.6 L297.85,235.6 L298.12,235.6 L298.38,235.6 L298.65,235.6 L298.92,235.6 L299.19,235.6 L299.46,235.6 L299.72,235.6 L299.99,235.6 L300.26,235.6 L300.53,235.6 L300.8,235.6 L301.06,235.6 L301.33,235.6 L301.6,235.6 L301.87,235.6 L302.14,235.6 L302.4,235.6 L302.67,235.6 L302.94,235.6 L303.21,235.6 L303.48,235.6 L303.74,235.6 L304.01,235.6 L304.28,235.6 L304.55,235.6 L304.82,235.6 L305.08,235.6 L305.35,235.6 L305.62,235.6 L305.89,235.6 L306.16,235.6 L306.42,235.6 L306.69,235.6 L306.96,235.6 L307.23,235.6 L307.5,235.6 L307.76,235.6 L308.03,235.6 L308.3,235.6 L308.57,235.6 L308.84,235.6 L309.1,235.6 L309.37,235.6 L309.64,235.6 L309.91,235.6 L310.18,235.6 L310.44,235.6 L310.71,235.6 L310.98,235.6 L311.25,235.6 L311.52,235.6 L311.78,235.6 L312.05,235.6 L312.32,235.6 L312.59,235.6 L312.86,235.6 L313.12,235.6 L313.39,235.6 L313.66,235.6 L313.93,235.6 L314.2,235.6 L314.46,235.6 L314.73,235.6 L315,235.6 L315.27,235.6 L315.54,235.6 L315.8,235.6 L316.07,235.6 L316.34,235.6 L316.61,235.6 L316.88,235.6 L317.14,235.6 L317.41,235.6 L317.68,235.6 L317.95,235.6 L318.22,235.6 L318.48,235.6 L318.75,235.6 L319.02,235.6 L319.29,235.6 L319.56,235.6 L319.82,235.6 L320.09,235.6 L320.36,235.6 L320.63,235.6 L320.9,235.6 L321.16,235.6 L321.43,235.6 L321.7,235.6 L321.97,235.6 L322.24,235.6 L322.5,235.6 L322.77,235.6 L323.04,235.6 L323.31,235.6 L323.58,235.6 L323.84,235.6 L324.11,235.6 L324.38,235.6 L324.65,235.6 L324.92,235.6 L325.18,235.6 L325.45,235.6 L325.72,235.6 L325.99,235.6 L326.26,235.6 L326.52,235.6 L326.79,235.6 L327.06,235.6 L327.33,235.6 L327.6,235.6 L327.86,235.6 L328.13,235.6 L328.4,235.6" stroke="#1a56a8" stroke-width="1.5" fill="none" stroke-linejoin="round"/>
<circle cx="150.85" cy="234.8" r="3.4" fill="#5a8fd6"/>
<circle cx="237.62" cy="234.8" r="3.4" fill="#5a8fd6"/>
<line x1="250.7" y1="225.9" x2="274.4" y2="225.9" stroke="#1a56a8" stroke-width="1.6"/>
<text x="282.8" y="230.1" font-size="11" text-anchor="start" fill="#1a1a1a" font-weight="normal" font-style="normal" >5.0 mA</text>
<line x1="60.4" y1="258" x2="62.9" y2="258" stroke="#3a3a3a" stroke-width="0.9"/>
<text x="57.2" y="262" font-size="11" text-anchor="end" fill="#1a1a1a" font-weight="normal" font-style="normal" >1.0</text>
<line x1="60.4" y1="283" x2="62.9" y2="283" stroke="#3a3a3a" stroke-width="0.9"/>
<text x="57.2" y="287" font-size="11" text-anchor="end" fill="#1a1a1a" font-weight="normal" font-style="normal" >-1.0</text>
<path d="M60.4,270.5 L145,270.5 L145.33,270.49 L145.67,270.46 L146,270.45 L146.38,270.46 L146.76,270.49 L147.15,270.52 L147.53,270.54 L147.91,270.55 L148.29,270.54 L148.67,270.52 L149.06,270.49 L149.44,270.46 L149.82,270.45 L150.2,270.47 L150.58,270.52 L150.97,270.58 L151.35,270.63 L151.73,270.65 L152.11,270.61 L152.49,270.52 L152.88,270.4 L153.26,270.3 L153.64,270.26 L154.02,270.34 L154.4,270.55 L154.79,270.82 L155.17,271.03 L155.55,271.11 L155.93,270.96 L156.31,270.58 L156.7,270.1 L157.08,269.72 L157.46,269.57 L157.84,269.8 L158.22,270.41 L158.61,271.16 L158.99,271.77 L159.37,272 L159.75,271.67 L160.13,270.81 L160.52,269.74 L160.9,268.88 L161.28,268.55 L161.66,268.99 L162.04,270.15 L162.43,271.57 L162.81,272.73 L163.19,273.17 L163.57,272.61 L163.95,271.15 L164.34,269.34 L164.72,267.87 L165.1,267.32 L165.48,268 L165.86,269.8 L166.25,272.02 L166.63,273.81 L167.01,274.5 L167.39,273.69 L167.77,271.56 L168.16,268.93 L168.54,266.8 L168.92,265.99 L169.3,266.93 L169.68,269.4 L170.07,272.45 L170.45,274.92 L170.83,275.86 L171.21,274.8 L171.59,272 L171.98,268.55 L172.36,265.76 L172.74,264.7 L173.12,265.88 L173.5,268.99 L173.89,272.84 L174.27,275.94 L174.65,277.13 L175.03,275.83 L175.41,272.44 L175.8,268.24 L176.18,264.85 L176.56,263.55 L176.94,264.95 L177.32,268.61 L177.71,273.13 L178.09,276.79 L178.47,278.18 L178.85,276.7 L179.23,272.82 L179.62,268.03 L180,264.15 L180.38,262.67 L180.76,264.22 L181.14,268.28 L181.53,273.29 L181.91,277.34 L182.29,278.89 L182.67,277.3 L183.05,273.12 L183.44,267.96 L183.82,263.78 L184.2,262.19 L184.58,263.77 L184.96,267.92 L185.35,273.05 L185.73,277.19 L186.11,278.78 L186.49,277.26 L186.87,273.29 L187.26,268.38 L187.64,264.41 L188.02,262.89 L188.4,264.31 L188.78,268.03 L189.17,272.62 L189.55,276.33 L189.93,277.75 L190.31,276.46 L190.69,273.06 L191.08,268.86 L191.46,265.46 L191.84,264.16 L192.22,265.34 L192.6,268.44 L192.99,272.27 L193.37,275.36 L193.75,276.55 L194.13,275.46 L194.51,272.63 L194.9,269.13 L195.28,266.3 L195.66,265.21 L196.04,266.2 L196.42,268.78 L196.81,271.97 L197.19,274.55 L197.57,275.54 L197.95,274.64 L198.33,272.28 L198.72,269.36 L199.1,266.99 L199.48,266.09 L199.86,266.91 L200.24,269.07 L200.63,271.73 L201.01,273.88 L201.39,274.7 L201.77,273.95 L202.15,271.98 L202.54,269.55 L202.92,267.58 L203.3,266.83 L203.68,267.51 L204.06,269.31 L204.45,271.52 L204.83,273.32 L205.21,274 L205.59,273.38 L205.97,271.73 L206.36,269.71 L206.74,268.06 L207.12,267.44 L207.5,268.01 L207.88,269.5 L208.27,271.35 L208.65,272.85 L209.03,273.42 L209.41,272.9 L209.79,271.53 L210.18,269.84 L210.56,268.47 L210.94,267.95 L211.32,268.42 L211.7,269.67 L212.09,271.21 L212.47,272.46 L212.85,272.94 L213.23,272.5 L213.61,271.36 L214,269.95 L214.38,268.81 L214.76,268.37 L215.14,268.77 L215.52,269.81 L215.91,271.09 L216.29,272.13 L216.67,272.53 L217.05,272.17 L217.43,271.22 L217.82,270.04 L218.2,269.09 L218.58,268.72 L218.96,269.06 L219.34,269.92 L219.73,270.99 L220.11,271.86 L220.49,272.19 L220.87,271.89 L221.25,271.1 L221.64,270.12 L222.02,269.32 L222.4,269.02 L222.78,269.3 L223.16,270.02 L223.55,270.91 L223.93,271.63 L224.31,271.91 L224.69,271.66 L225.07,271 L225.46,270.18 L225.84,269.52 L226.22,269.27 L226.6,269.5 L226.98,270.1 L227.37,270.84 L227.75,271.45 L228.13,271.68 L228.51,271.47 L228.89,270.91 L229.28,270.23 L229.66,269.68 L230.04,269.47 L230.42,269.66 L230.8,270.17 L231.19,270.79 L231.57,271.29 L231.95,271.48 L232.33,271.31 L232.71,270.85 L233.1,270.28 L233.48,269.82 L233.86,269.64 L234.24,269.8 L234.62,270.22 L235.01,270.74 L235.39,271.16 L235.77,271.32 L236.15,271.17 L236.53,270.79 L236.92,270.31 L237.3,269.93 L237.68,269.79 L238.06,269.92 L238.44,270.27 L238.83,270.7 L239.21,271.05 L239.59,271.18 L239.97,271.06 L240.35,270.74 L240.74,270.35 L241.12,270.03 L241.5,269.9 L241.88,270.02 L242.26,270.31 L242.65,270.67 L243.03,270.96 L243.41,271.07 L243.79,270.97 L244.17,270.7 L244.56,270.37 L244.94,270.1 L245.32,270 L245.7,270.1 L246.08,270.34 L246.47,270.64 L246.85,270.88 L247.23,270.97 L247.61,270.89 L247.99,270.67 L248.38,270.39 L248.76,270.17 L249.14,270.09 L249.52,270.16 L249.9,270.37 L250.29,270.62 L250.67,270.82 L251.05,270.89 L251.43,270.82 L251.81,270.64 L252.2,270.41 L252.58,270.23 L252.96,270.15 L253.34,270.22 L253.72,270.39 L254.11,270.6 L254.49,270.76 L254.87,270.83 L255.25,270.77 L255.63,270.62 L256.02,270.43 L256.4,270.27 L256.78,270.21 L257.16,270.27 L257.54,270.41 L257.93,270.58 L258.31,270.72 L258.69,270.77 L259.07,270.73 L259.45,270.6 L259.84,270.44 L260.22,270.31 L260.6,270.26 L260.8,270.28 L261,270.34 L261.2,270.42 L261.4,270.48 L261.6,270.5 L328.4,270.5" stroke="#7a72c0" stroke-width="1.5" fill="none" stroke-linejoin="round"/>
<circle cx="143.15" cy="269.7" r="3.4" fill="#7a72c0"/>
<circle cx="267.76" cy="269.7" r="3.4" fill="#7a72c0"/>
<line x1="250.7" y1="260.8" x2="274.4" y2="260.8" stroke="#7a72c0" stroke-width="1.6"/>
<text x="282.8" y="265" font-size="11" text-anchor="start" fill="#1a1a1a" font-weight="normal" font-style="normal" >5.5 mA</text>
<line x1="60.4" y1="292.8" x2="62.9" y2="292.8" stroke="#3a3a3a" stroke-width="0.9"/>
<text x="57.2" y="296.8" font-size="11" text-anchor="end" fill="#1a1a1a" font-weight="normal" font-style="normal" >1.0</text>
<line x1="60.4" y1="317.8" x2="62.9" y2="317.8" stroke="#3a3a3a" stroke-width="0.9"/>
<text x="57.2" y="321.8" font-size="11" text-anchor="end" fill="#1a1a1a" font-weight="normal" font-style="normal" >-1.0</text>
<path d="M60.4,305.3 L144.5,305.3 L144.83,305.21 L145.17,305.02 L145.5,304.93 L145.89,305.01 L146.28,305.23 L146.67,305.51 L147.06,305.73 L147.45,305.82 L147.84,305.71 L148.23,305.42 L148.62,305.07 L149.01,304.78 L149.4,304.68 L149.79,304.83 L150.18,305.23 L150.57,305.72 L150.96,306.12 L151.35,306.28 L151.74,306.06 L152.13,305.51 L152.52,304.82 L152.91,304.26 L153.3,304.05 L153.69,304.36 L154.08,305.16 L154.47,306.14 L154.86,306.94 L155.25,307.25 L155.64,306.83 L156.03,305.71 L156.42,304.34 L156.81,303.22 L157.2,302.8 L157.59,303.41 L157.98,305.01 L158.37,306.99 L158.76,308.59 L159.15,309.2 L159.54,308.35 L159.93,306.13 L160.32,303.37 L160.71,301.15 L161.1,300.3 L161.49,301.4 L161.88,304.27 L162.27,307.83 L162.66,310.7 L163.05,311.8 L163.44,310.46 L163.83,306.96 L164.22,302.64 L164.61,299.14 L165,297.8 L165.4,299.42 L165.8,303.65 L166.2,308.88 L166.6,313.11 L167,314.73 L167.4,312.81 L167.8,307.8 L168.2,301.6 L168.6,296.59 L169,294.68 L169.37,296.19 L169.73,300.34 L170.1,306 L170.47,311.66 L170.83,315.81 L171.2,317.32 L171.57,315.68 L171.93,311.19 L172.3,305.06 L172.67,298.93 L173.03,294.44 L173.4,292.8 L173.78,294.51 L174.17,299.18 L174.55,305.55 L174.93,311.93 L175.32,316.59 L175.7,318.3 L176.08,316.59 L176.47,311.93 L176.85,305.55 L177.23,299.18 L177.62,294.51 L178,292.8 L178.36,294.06 L178.71,297.6 L179.07,302.71 L179.43,308.39 L179.79,313.5 L180.14,317.04 L180.5,318.3 L180.86,317.04 L181.21,313.5 L181.57,308.39 L181.93,302.71 L182.29,297.6 L182.64,294.06 L183,292.8 L183.37,294.06 L183.74,297.6 L184.11,302.71 L184.49,308.39 L184.86,313.5 L185.23,317.04 L185.6,318.3 L185.97,317.04 L186.34,313.5 L186.71,308.39 L187.09,302.71 L187.46,297.6 L187.83,294.06 L188.2,292.8 L188.56,294.06 L188.91,297.6 L189.27,302.71 L189.63,308.39 L189.99,313.5 L190.34,317.04 L190.7,318.3 L191.06,317.04 L191.41,313.5 L191.77,308.39 L192.13,302.71 L192.49,297.6 L192.84,294.06 L193.2,292.8 L193.59,294.49 L193.98,299.09 L194.38,305.39 L194.77,311.68 L195.16,316.29 L195.55,317.98 L195.94,316.33 L196.33,311.84 L196.73,305.7 L197.12,299.56 L197.51,295.07 L197.9,293.43 L198.31,295.68 L198.72,301.57 L199.13,308.86 L199.54,314.75 L199.95,317 L200.36,314.87 L200.77,309.29 L201.18,302.39 L201.59,296.81 L202,294.68 L202.38,296.68 L202.76,301.94 L203.14,308.44 L203.52,313.69 L203.9,315.7 L204.28,313.81 L204.66,308.87 L205.04,302.76 L205.42,297.81 L205.8,295.93 L206.18,297.69 L206.56,302.31 L206.94,308.02 L207.32,312.64 L207.7,314.4 L208.08,312.76 L208.46,308.45 L208.84,303.13 L209.22,298.82 L209.6,297.18 L209.98,298.7 L210.36,302.68 L210.74,307.6 L211.12,311.58 L211.5,313.1 L211.88,311.7 L212.26,308.03 L212.64,303.5 L213.02,299.83 L213.4,298.43 L213.76,299.7 L214.12,303.05 L214.48,307.18 L214.84,310.52 L215.2,311.8 L215.56,310.64 L215.92,307.61 L216.28,303.86 L216.64,300.83 L217,299.68 L217.37,300.73 L217.74,303.48 L218.11,306.89 L218.48,309.64 L218.85,310.69 L219.22,309.73 L219.59,307.19 L219.96,304.06 L220.33,301.52 L220.7,300.55 L221.07,301.43 L221.44,303.72 L221.81,306.55 L222.18,308.84 L222.55,309.72 L222.92,308.94 L223.29,306.9 L223.66,304.37 L224.03,302.33 L224.4,301.55 L224.76,302.25 L225.12,304.08 L225.48,306.34 L225.84,308.18 L226.2,308.88 L226.56,308.24 L226.92,306.56 L227.28,304.49 L227.64,302.81 L228,302.18 L228.37,302.76 L228.74,304.29 L229.11,306.18 L229.48,307.71 L229.85,308.3 L230.22,307.76 L230.59,306.35 L230.96,304.61 L231.33,303.2 L231.7,302.66 L232.07,303.15 L232.44,304.45 L232.81,306.05 L233.18,307.34 L233.55,307.83 L233.92,307.38 L234.29,306.19 L234.66,304.71 L235.03,303.52 L235.4,303.07 L235.77,303.49 L236.14,304.58 L236.51,305.93 L236.88,307.02 L237.25,307.44 L237.62,307.06 L237.99,306.05 L238.36,304.81 L238.73,303.8 L239.1,303.41 L239.47,303.77 L239.84,304.69 L240.21,305.83 L240.58,306.76 L240.95,307.11 L241.32,306.79 L241.69,305.93 L242.06,304.88 L242.43,304.03 L242.8,303.71 L243.17,304 L243.54,304.78 L243.91,305.75 L244.28,306.53 L244.65,306.83 L245.02,306.56 L245.39,305.84 L245.76,304.95 L246.13,304.23 L246.5,303.95 L246.87,304.2 L247.24,304.86 L247.61,305.68 L247.98,306.34 L248.35,306.59 L248.72,306.36 L249.09,305.75 L249.46,305 L249.83,304.39 L250.2,304.16 L250.57,304.37 L250.94,304.93 L251.31,305.62 L251.68,306.18 L252.05,306.39 L252.42,306.2 L252.79,305.68 L253.16,305.05 L253.53,304.53 L253.9,304.34 L254.27,304.52 L254.64,304.99 L255.01,305.57 L255.38,306.04 L255.75,306.22 L256.12,306.06 L256.49,305.62 L256.86,305.09 L257.23,304.65 L257.6,304.49 L257.97,304.64 L258.34,305.04 L258.71,305.53 L259.08,305.93 L259.45,306.08 L259.82,305.94 L260.19,305.57 L260.56,305.12 L260.93,304.75 L261.3,304.61 L261.67,304.74 L262.04,305.08 L262.41,305.49 L262.78,305.83 L263.15,305.96 L263.52,305.84 L263.89,305.53 L264.26,305.15 L264.63,304.84 L265,304.72 L265.37,304.83 L265.74,305.11 L266.11,305.46 L266.48,305.75 L266.85,305.86 L267.22,305.76 L267.59,305.5 L267.96,305.17 L268.33,304.91 L268.7,304.81 L269.07,304.9 L269.44,305.14 L269.81,305.44 L270.18,305.68 L270.55,305.77 L270.92,305.69 L271.29,305.47 L271.66,305.19 L272.03,304.97 L272.4,304.88 L272.77,304.96 L273.14,305.17 L273.51,305.42 L273.88,305.62 L274.25,305.7 L274.62,305.63 L274.99,305.44 L275.36,305.21 L275.73,305.02 L276.1,304.95 L276.3,304.98 L276.5,305.07 L276.7,305.18 L276.9,305.27 L277.1,305.3 L328.4,305.3" stroke="#1b9a72" stroke-width="1.5" fill="none" stroke-linejoin="round"/>
<circle cx="136.28" cy="304.5" r="3.4" fill="#1b9a72"/>
<circle cx="280.83" cy="304.5" r="3.4" fill="#1b9a72"/>
<line x1="250.7" y1="295.6" x2="274.4" y2="295.6" stroke="#1b9a72" stroke-width="1.6"/>
<text x="282.8" y="299.8" font-size="11" text-anchor="start" fill="#1a1a1a" font-weight="normal" font-style="normal" >6.0 mA</text>
<line x1="60.4" y1="327.7" x2="62.9" y2="327.7" stroke="#3a3a3a" stroke-width="0.9"/>
<text x="57.2" y="331.7" font-size="11" text-anchor="end" fill="#1a1a1a" font-weight="normal" font-style="normal" >1.0</text>
<line x1="60.4" y1="352.7" x2="62.9" y2="352.7" stroke="#3a3a3a" stroke-width="0.9"/>
<text x="57.2" y="356.7" font-size="11" text-anchor="end" fill="#1a1a1a" font-weight="normal" font-style="normal" >-1.0</text>
<path d="M60.4,340.2 L143,340.2 L143.33,340.11 L143.67,339.92 L144,339.82 L144.36,339.8 L144.71,339.73 L145.07,339.63 L145.43,339.52 L145.79,339.42 L146.14,339.35 L146.5,339.32 L146.85,339.6 L147.2,340.26 L147.55,340.93 L147.9,341.2 L148.26,341 L148.62,340.47 L148.98,339.81 L149.34,339.28 L149.7,339.07 L150.08,339.33 L150.46,339.98 L150.84,340.79 L151.22,341.45 L151.6,341.7 L151.97,341.42 L152.33,340.64 L152.7,339.57 L153.07,338.51 L153.43,337.73 L153.8,337.45 L154.16,338.06 L154.52,339.65 L154.88,341.62 L155.24,343.22 L155.6,343.82 L155.97,343.21 L156.33,341.54 L156.7,339.26 L157.07,336.98 L157.43,335.31 L157.8,334.7 L158.16,335.98 L158.52,339.32 L158.88,343.45 L159.24,346.8 L159.6,348.07 L159.97,346.84 L160.33,343.48 L160.7,338.89 L161.07,334.29 L161.43,330.93 L161.8,329.7 L162.27,335.45 L162.73,346.95 L163.2,352.7 L163.57,351.04 L163.93,346.51 L164.3,340.32 L164.67,334.14 L165.03,329.61 L165.4,327.95 L165.8,327.95 L166.2,327.95 L166.6,327.95 L167,327.95 L167.33,333.98 L167.67,346.04 L168,352.07 L168.4,352.07 L168.8,352.07 L169.2,352.07 L169.6,352.07 L170,352.07 L170.43,346.23 L170.87,334.54 L171.3,328.7 L171.66,329.27 L172.02,330.93 L172.38,333.52 L172.74,336.78 L173.1,340.39 L173.46,344 L173.82,347.26 L174.18,349.84 L174.54,351.5 L174.9,352.07 L175.28,349.84 L175.66,344 L176.04,336.78 L176.42,330.93 L176.8,328.7 L177.16,329.17 L177.53,330.56 L177.89,332.73 L178.25,335.53 L178.62,338.72 L178.98,342.05 L179.35,345.24 L179.71,348.04 L180.07,350.22 L180.44,351.6 L180.8,352.07 L181.16,349.84 L181.52,344 L181.88,336.78 L182.24,330.93 L182.6,328.7 L182.97,329.51 L183.33,331.14 L183.7,331.95 L184.13,331.14 L184.57,329.51 L185,328.7 L185.4,332.12 L185.8,340.39 L186.2,348.65 L186.6,352.07 L186.95,352.07 L187.3,352.07 L187.65,352.07 L188,352.07 L188.4,346.14 L188.8,334.26 L189.2,328.32 L189.56,328.32 L189.92,328.32 L190.28,328.32 L190.64,328.32 L191,328.32 L191.35,334.38 L191.7,346.49 L192.05,352.55 L192.42,351.63 L192.79,349 L193.16,345.07 L193.53,340.44 L193.89,335.8 L194.26,331.87 L194.63,329.25 L195,328.32 L195.41,330.59 L195.82,336.52 L196.23,343.84 L196.64,349.77 L197.05,352.03 L197.46,349.86 L197.87,344.19 L198.28,337.17 L198.69,331.49 L199.1,329.32 L199.51,331.35 L199.92,336.68 L200.33,343.27 L200.74,348.59 L201.15,350.63 L201.56,348.76 L201.97,343.86 L202.38,337.8 L202.79,332.9 L203.2,331.03 L203.61,332.74 L204.02,337.23 L204.43,342.78 L204.84,347.27 L205.25,348.99 L205.66,347.41 L206.07,343.28 L206.48,338.18 L206.89,334.05 L207.3,332.47 L207.71,333.91 L208.12,337.7 L208.53,342.38 L208.94,346.16 L209.35,347.61 L209.76,346.28 L210.17,342.8 L210.58,338.49 L210.99,335.01 L211.4,333.68 L211.81,334.9 L212.22,338.09 L212.63,342.04 L213.04,345.23 L213.45,346.45 L213.86,345.32 L214.27,342.39 L214.68,338.76 L215.09,335.83 L215.5,334.71 L215.91,335.73 L216.32,338.42 L216.73,341.75 L217.14,344.44 L217.55,345.46 L217.96,344.52 L218.37,342.05 L218.78,338.99 L219.19,336.51 L219.6,335.57 L220.01,336.44 L220.42,338.7 L220.83,341.5 L221.24,343.77 L221.65,344.64 L222.06,343.84 L222.47,341.76 L222.88,339.18 L223.29,337.09 L223.7,336.3 L224.11,337.03 L224.52,338.94 L224.93,341.3 L225.34,343.21 L225.75,343.94 L226.16,343.27 L226.57,341.51 L226.98,339.34 L227.39,337.58 L227.8,336.91 L228.21,337.52 L228.62,339.14 L229.03,341.13 L229.44,342.74 L229.85,343.35 L230.26,342.79 L230.67,341.31 L231.08,339.47 L231.49,337.99 L231.9,337.43 L232.31,337.94 L232.72,339.3 L233.13,340.98 L233.54,342.34 L233.95,342.86 L234.36,342.38 L234.77,341.13 L235.18,339.59 L235.59,338.34 L236,337.86 L236.41,338.3 L236.82,339.44 L237.23,340.86 L237.64,342 L238.05,342.44 L238.46,342.04 L238.87,340.99 L239.28,339.68 L239.69,338.63 L240.1,338.23 L240.51,338.6 L240.92,339.56 L241.33,340.76 L241.74,341.72 L242.15,342.09 L242.56,341.75 L242.97,340.86 L243.38,339.77 L243.79,338.88 L244.2,338.54 L244.61,338.85 L245.02,339.66 L245.43,340.67 L245.84,341.48 L246.25,341.79 L246.66,341.51 L247.07,340.76 L247.48,339.83 L247.89,339.09 L248.3,338.8 L248.71,339.06 L249.12,339.75 L249.53,340.59 L249.94,341.28 L250.35,341.54 L250.76,341.3 L251.17,340.67 L251.58,339.89 L251.99,339.26 L252.4,339.02 L252.81,339.24 L253.22,339.82 L253.63,340.53 L254.04,341.11 L254.45,341.33 L254.86,341.13 L255.27,340.6 L255.68,339.94 L256.09,339.41 L256.5,339.2 L256.91,339.39 L257.32,339.88 L257.73,340.48 L258.14,340.97 L258.55,341.15 L258.96,340.98 L259.37,340.53 L259.78,339.98 L260.19,339.53 L260.6,339.36 L261.01,339.52 L261.42,339.93 L261.83,340.44 L262.24,340.85 L262.65,341 L263.06,340.86 L263.47,340.48 L263.88,340.01 L264.29,339.64 L264.7,339.49 L265.11,339.63 L265.52,339.97 L265.93,340.4 L266.34,340.75 L266.75,340.88 L267.16,340.76 L267.57,340.44 L267.98,340.04 L268.39,339.73 L268.8,339.6 L269.21,339.72 L269.62,340.01 L270.03,340.37 L270.44,340.66 L270.85,340.77 L271.26,340.67 L271.67,340.4 L272.08,340.07 L272.49,339.8 L272.9,339.7 L273.31,339.79 L273.72,340.04 L274.13,340.34 L274.54,340.59 L274.95,340.68 L275.36,340.6 L275.77,340.37 L276.18,340.09 L276.59,339.86 L277,339.78 L277.41,339.86 L277.82,340.06 L278.23,340.32 L278.64,340.53 L279.05,340.61 L279.46,340.53 L279.87,340.34 L280.28,340.11 L280.69,339.92 L281.1,339.84 L281.3,339.88 L281.5,339.97 L281.7,340.08 L281.9,340.17 L282.1,340.2 L328.4,340.2" stroke="#f07a55" stroke-width="1.5" fill="none" stroke-linejoin="round"/>
<circle cx="135.44" cy="339.4" r="3.4" fill="#f5a587"/>
<circle cx="284.18" cy="339.4" r="3.4" fill="#f5a587"/>
<line x1="250.7" y1="330.5" x2="274.4" y2="330.5" stroke="#f07a55" stroke-width="1.6"/>
<text x="282.8" y="334.7" font-size="11" text-anchor="start" fill="#1a1a1a" font-weight="normal" font-style="normal" >6.5 mA</text>
<text x="60.4" y="369.3" font-size="11" text-anchor="middle" fill="#1a1a1a" font-weight="normal" font-style="normal" >0</text>
<text x="127.4" y="369.3" font-size="11" text-anchor="middle" fill="#1a1a1a" font-weight="normal" font-style="normal" >2</text>
<text x="194.4" y="369.3" font-size="11" text-anchor="middle" fill="#1a1a1a" font-weight="normal" font-style="normal" >4</text>
<text x="261.4" y="369.3" font-size="11" text-anchor="middle" fill="#1a1a1a" font-weight="normal" font-style="normal" >6</text>
<text x="328.4" y="369.3" font-size="11" text-anchor="middle" fill="#1a1a1a" font-weight="normal" font-style="normal" >8</text>
<text x="194.4" y="382.4" font-size="11" text-anchor="middle" fill="#1a1a1a" font-weight="normal" font-style="normal" >Time (ns)</text>
<text x="0" y="0" font-size="11" fill="#1a1a1a" text-anchor="middle" transform="translate(34.2,201) rotate(-90)">I (mA)</text>
<text x="0" y="0" font-size="11" fill="#1a1a1a" text-anchor="middle" transform="translate(34,291.4) rotate(-90)">Mx (ave)</text>
<defs><radialGradient id="sph" cx="0.5" cy="0.5" r="0.5"><stop offset="0" stop-color="#e9e9e9"/><stop offset="0.85" stop-color="#ebebeb"/><stop offset="1" stop-color="#f1f1f1"/></radialGradient></defs>
<ellipse cx="513.1" cy="253" rx="53.6" ry="41.5" fill="url(#sph)"/>
<g stroke="#a8a8a8" stroke-width="0.9" fill="none">
<line x1="427.9" y1="198.4" x2="539.3" y2="182.5"/>
<line x1="539.3" y1="182.5" x2="602.8" y2="214.8"/>
<line x1="602.8" y1="214.8" x2="481.9" y2="235.1"/>
<line x1="481.9" y1="235.1" x2="427.9" y2="198.4"/>
<line x1="428.7" y1="286.3" x2="538.8" y2="267.3"/>
<line x1="538.8" y1="267.3" x2="600.4" y2="307.5"/>
<line x1="600.4" y1="307.5" x2="483.2" y2="332.2"/>
<line x1="483.2" y1="332.2" x2="428.7" y2="286.3"/>
<line x1="427.9" y1="198.4" x2="428.7" y2="286.3"/>
<line x1="539.3" y1="182.5" x2="538.8" y2="267.3"/>
<line x1="602.8" y1="214.8" x2="600.4" y2="307.5"/>
<line x1="481.9" y1="235.1" x2="483.2" y2="332.2"/>
</g>
<path d="M426.9,288.6 L481.7,335.2 L603.1,310.3" stroke="#333" stroke-width="0.9" fill="none"/>
<line x1="606.3" y1="213.8" x2="603.8" y2="309.7" stroke="#333" stroke-width="0.9"/>
<line x1="430.74" y1="291.86" x2="428.21" y2="292.38" stroke="#333" stroke-width="0.8"/>
<line x1="436.35" y1="296.64" x2="434.8" y2="296.96" stroke="#333" stroke-width="0.8"/>
<line x1="441.97" y1="301.42" x2="440.42" y2="301.74" stroke="#333" stroke-width="0.8"/>
<line x1="447.59" y1="306.19" x2="446.03" y2="306.51" stroke="#333" stroke-width="0.8"/>
<line x1="453.2" y1="310.97" x2="450.68" y2="311.49" stroke="#333" stroke-width="0.8"/>
<line x1="458.82" y1="315.74" x2="457.27" y2="316.06" stroke="#333" stroke-width="0.8"/>
<line x1="464.44" y1="320.52" x2="462.89" y2="320.84" stroke="#333" stroke-width="0.8"/>
<line x1="470.05" y1="325.3" x2="468.5" y2="325.62" stroke="#333" stroke-width="0.8"/>
<line x1="475.67" y1="330.07" x2="473.15" y2="330.59" stroke="#333" stroke-width="0.8"/>
<line x1="495.86" y1="332.28" x2="493.88" y2="333.97" stroke="#333" stroke-width="0.8"/>
<line x1="508.21" y1="329.75" x2="506.99" y2="330.79" stroke="#333" stroke-width="0.8"/>
<line x1="520.56" y1="327.22" x2="519.34" y2="328.26" stroke="#333" stroke-width="0.8"/>
<line x1="532.91" y1="324.69" x2="531.69" y2="325.73" stroke="#333" stroke-width="0.8"/>
<line x1="545.26" y1="322.16" x2="543.28" y2="323.85" stroke="#333" stroke-width="0.8"/>
<line x1="557.61" y1="319.62" x2="556.4" y2="320.66" stroke="#333" stroke-width="0.8"/>
<line x1="569.96" y1="317.09" x2="568.75" y2="318.13" stroke="#333" stroke-width="0.8"/>
<line x1="582.31" y1="314.56" x2="581.1" y2="315.6" stroke="#333" stroke-width="0.8"/>
<line x1="594.66" y1="312.03" x2="592.69" y2="313.72" stroke="#333" stroke-width="0.8"/>
<line x1="606.04" y1="223.68" x2="608.64" y2="224.07" stroke="#333" stroke-width="0.8"/>
<line x1="605.79" y1="233.32" x2="607.39" y2="233.56" stroke="#333" stroke-width="0.8"/>
<line x1="605.54" y1="242.95" x2="607.14" y2="243.19" stroke="#333" stroke-width="0.8"/>
<line x1="605.29" y1="252.59" x2="606.89" y2="252.83" stroke="#333" stroke-width="0.8"/>
<line x1="605.04" y1="262.23" x2="607.64" y2="262.62" stroke="#333" stroke-width="0.8"/>
<line x1="604.79" y1="271.87" x2="606.39" y2="272.11" stroke="#333" stroke-width="0.8"/>
<line x1="604.53" y1="281.51" x2="606.13" y2="281.75" stroke="#333" stroke-width="0.8"/>
<line x1="604.28" y1="291.14" x2="605.88" y2="291.38" stroke="#333" stroke-width="0.8"/>
<line x1="604.03" y1="300.78" x2="606.63" y2="301.17" stroke="#333" stroke-width="0.8"/>
<text x="421.7" y="309.9" font-size="11" text-anchor="middle" fill="#1a1a1a" font-weight="normal" font-style="normal" >-1.0</text>
<text x="442.4" y="328.4" font-size="11" text-anchor="middle" fill="#1a1a1a" font-weight="normal" font-style="normal" >0.0</text>
<text x="465.4" y="349.1" font-size="11" text-anchor="middle" fill="#1a1a1a" font-weight="normal" font-style="normal" >1.0</text>
<text x="500.8" y="353.6" font-size="11" text-anchor="middle" fill="#1a1a1a" font-weight="normal" font-style="normal" >-1.0</text>
<text x="549.4" y="343.8" font-size="11" text-anchor="middle" fill="#1a1a1a" font-weight="normal" font-style="normal" >0.0</text>
<text x="597.6" y="332.8" font-size="11" text-anchor="middle" fill="#1a1a1a" font-weight="normal" font-style="normal" >1.0</text>
<text x="622.5" y="234.5" font-size="11" text-anchor="middle" fill="#1a1a1a" font-weight="normal" font-style="normal" >1.0</text>
<text x="620.6" y="273.1" font-size="11" text-anchor="middle" fill="#1a1a1a" font-weight="normal" font-style="normal" >0.0</text>
<text x="619.6" y="311.6" font-size="11" text-anchor="middle" fill="#1a1a1a" font-weight="normal" font-style="normal" >-1.0</text>
<text x="0" y="0" font-size="11" fill="#1a1a1a" text-anchor="middle" transform="translate(429.6,335.0) rotate(42)">Mx (ave)</text>
<text x="0" y="0" font-size="11" fill="#1a1a1a" text-anchor="middle" transform="translate(557.4,352.2) rotate(-11.5)">My (ave)</text>
<text x="0" y="0" font-size="11" fill="#1a1a1a" text-anchor="middle" transform="translate(643.2,267.2) rotate(-90)">Mz (ave)</text>
<path d="M460.4,246.6 C461.02,244.02 462.83,241.25 464.9,238.7 C466.97,236.15 469.5,233.62 472.8,231.3 C476.1,228.98 480.25,226.62 484.7,224.8 C489.15,222.98 494.57,221.47 499.5,220.4 C504.43,219.33 510.05,218.75 514.3,218.4 C518.55,218.05 521.6,218.13 525,218.3 C528.4,218.47 531.12,218.65 534.7,219.4 C538.28,220.15 543.22,221.4 546.5,222.8 C549.78,224.2 552.75,226.15 554.4,227.8 C556.05,229.45 556.32,231.05 556.4,232.7 C556.48,234.35 556.05,236.05 554.9,237.7 C553.75,239.35 552.05,240.87 549.5,242.6 C546.95,244.33 543.72,246.28 539.6,248.1 C535.48,249.92 529.4,252.12 524.8,253.5 C520.2,254.88 516.22,255.45 512,256.4 C507.78,257.35 503.72,258.42 499.5,259.2 C495.28,259.98 490.82,260.73 486.7,261.1 C482.58,261.47 478.25,261.7 474.8,261.4 C471.35,261.1 468.27,260.5 466,259.3 C463.73,258.1 462.13,256.32 461.2,254.2 C460.27,252.08 459.78,249.18 460.4,246.6 Z" fill="none" stroke="#ee6e4a" stroke-width="1.9"/>
<path d="M471.8,241.6 C471.47,240.7 471.82,239.85 472.8,238.7 C473.78,237.55 475.23,236.18 477.7,234.7 C480.17,233.22 483.97,231.52 487.6,229.8 C491.23,228.08 495.77,225.78 499.5,224.4 C503.23,223.02 506.62,222.15 510,221.5 C513.38,220.85 515.68,220.57 519.8,220.5 C523.92,220.43 529.75,220.38 534.7,221.1 C539.65,221.82 545.72,223.35 549.5,224.8 C553.28,226.25 555.67,228.15 557.4,229.8 C559.13,231.45 559.73,233.05 559.9,234.7 C560.07,236.35 559.65,237.88 558.4,239.7 C557.15,241.52 554.72,243.63 552.4,245.6 C550.08,247.57 547.15,249.53 544.5,251.5 C541.85,253.47 539,255.82 536.5,257.4 C534,258.98 531.83,259.75 529.5,261 C527.17,262.25 524.83,263.6 522.5,264.9 C520.17,266.2 517.03,267.63 515.5,268.8 C513.97,269.97 513.45,270.87 513.3,271.9 C513.15,272.93 513.35,273.98 514.6,275 C515.85,276.02 518.02,277.13 520.8,278 C523.58,278.87 527.8,279.78 531.3,280.2 C534.8,280.62 538.45,280.72 541.8,280.5 C545.15,280.28 548.77,279.68 551.4,278.9 C554.03,278.12 556.22,276.97 557.6,275.8 C558.98,274.63 559.57,273.13 559.7,271.9 C559.83,270.67 559.35,269.63 558.4,268.4 C557.45,267.17 555.9,265.82 554,264.5 C552.1,263.18 549.33,261.53 547,260.5 C544.67,259.47 542.62,259.17 540,258.3 C537.38,257.43 534.22,256.17 531.3,255.3 C528.38,254.43 525.42,253.77 522.5,253.1 C519.58,252.43 516.72,251.87 513.8,251.3 C510.88,250.73 508.22,250.17 505,249.7 C501.78,249.23 498.22,249.02 494.5,248.5 C490.78,247.98 485.98,247.33 482.7,246.6 C479.42,245.87 476.62,244.93 474.8,244.1 C472.98,243.27 472.13,242.5 471.8,241.6 Z" fill="none" stroke="#1b9a72" stroke-width="1.9"/>
<path d="M539.1,236.7 C539.53,236.1 540.18,235.3 541.7,234.9 C543.22,234.5 546.02,234.18 548.2,234.3 C550.38,234.42 552.72,234.9 554.8,235.6 C556.88,236.3 559.05,237.47 560.7,238.5 C562.35,239.53 563.73,240.4 564.7,241.8 C565.67,243.2 566.2,245.08 566.5,246.9 C566.8,248.72 566.57,250.82 566.5,252.7 C566.43,254.58 566.83,257.83 566.1,258.2 C565.37,258.57 563.73,256.35 562.1,254.9 C560.47,253.45 558.37,250.95 556.3,249.5 C554.23,248.05 551.77,247.25 549.7,246.2 C547.63,245.15 545.35,243.93 543.9,243.2 C542.45,242.47 541.8,242.58 541,241.8 C540.2,241.02 539.42,239.35 539.1,238.5 C538.78,237.65 538.67,237.3 539.1,236.7 Z" fill="none" stroke="#6e66b8" stroke-width="1.6"/>
<path d="M541,242.3 L549.7,246.9 L556.3,250.2" fill="none" stroke="#6e66b8" stroke-width="2.4"/>
<ellipse cx="559.5" cy="244.9" rx="3.9" ry="1.7" transform="rotate(33 559.5 244.9)" fill="none" stroke="#1a4aa0" stroke-width="1.9"/>
<defs><clipPath id="clipd"><rect x="60.4" y="402.5" width="267.6" height="173.29999999999995"/></clipPath></defs>
<g clip-path="url(#clipd)">
<path d="M60.4,568.55 L60.85,568.55 L61.29,568.55 L61.74,568.55 L62.18,568.55 L62.63,568.55 L63.08,568.55 L63.52,568.55 L63.97,568.55 L64.42,568.55 L64.86,568.55 L65.31,568.55 L65.75,568.55 L66.2,568.55 L66.65,568.55 L67.09,568.55 L67.54,568.55 L67.98,568.55 L68.43,568.55 L68.88,568.55 L69.32,568.54 L69.77,568.54 L70.21,568.54 L70.66,568.54 L71.11,568.54 L71.55,568.54 L72,568.54 L72.45,568.54 L72.89,568.54 L73.34,568.54 L73.78,568.54 L74.23,568.54 L74.68,568.54 L75.12,568.54 L75.57,568.54 L76.01,568.54 L76.46,568.54 L76.91,568.54 L77.35,568.54 L77.8,568.54 L78.24,568.54 L78.69,568.53 L79.14,568.53 L79.58,568.53 L80.03,568.53 L80.48,568.53 L80.92,568.53 L81.37,568.53 L81.81,568.53 L82.26,568.53 L82.71,568.53 L83.15,568.53 L83.6,568.53 L84.04,568.52 L84.49,568.52 L84.94,568.52 L85.38,568.52 L85.83,568.52 L86.27,568.52 L86.72,568.52 L87.17,568.52 L87.61,568.52 L88.06,568.52 L88.51,568.51 L88.95,568.51 L89.4,568.51 L89.84,568.51 L90.29,568.51 L90.74,568.51 L91.18,568.51 L91.63,568.51 L92.07,568.5 L92.52,568.5 L92.97,568.5 L93.41,568.5 L93.86,568.5 L94.31,568.5 L94.75,568.5 L95.2,568.49 L95.64,568.49 L96.09,568.49 L96.54,568.49 L96.98,568.49 L97.43,568.49 L97.87,568.49 L98.32,568.48 L98.77,568.48 L99.21,568.48 L99.66,568.48 L100.1,568.48 L100.55,568.48 L101,568.47 L101.44,568.47 L101.89,568.47 L102.34,568.47 L102.78,568.47 L103.23,568.46 L103.67,568.46 L104.12,568.46 L104.57,568.46 L105.01,568.46 L105.46,568.45 L105.9,568.45 L106.35,568.45 L106.8,568.45 L107.24,568.45 L107.69,568.44 L108.13,568.44 L108.58,568.44 L109.03,568.44 L109.47,568.44 L109.92,568.43 L110.37,568.43 L110.81,568.43 L111.26,568.43 L111.7,568.42 L112.15,568.42 L112.6,568.42 L113.04,568.42 L113.49,568.41 L113.93,568.41 L114.38,568.41 L114.83,568.41 L115.27,568.4 L115.72,568.4 L116.16,568.4 L116.61,568.4 L117.06,568.39 L117.5,568.39 L117.95,568.39 L118.4,568.38 L118.84,568.38 L119.29,568.38 L119.73,568.38 L120.18,568.37 L120.63,568.37 L121.07,568.37 L121.52,568.36 L121.96,568.36 L122.41,568.36 L122.86,568.36 L123.3,568.35 L123.75,568.35 L124.19,568.35 L124.64,568.34 L125.09,568.34 L125.53,568.34 L125.98,568.33 L126.43,568.33 L126.87,568.33 L127.32,568.32 L127.76,568.32 L128.21,568.32 L128.66,568.31 L129.1,568.31 L129.55,568.31 L129.99,568.3 L130.44,568.3 L130.89,568.29 L131.33,568.29 L131.78,568.29 L132.23,568.28 L132.67,568.28 L133.12,568.28 L133.56,568.27 L134.01,568.27 L134.46,568.26 L134.9,568.26 L135.35,568.26 L135.79,568.25 L136.24,568.25 L136.69,568.24 L137.13,568.24 L137.58,568.23 L138.02,568.23 L138.47,568.22 L138.92,568.21 L139.36,568.19 L139.81,568.18 L140.26,568.17 L140.7,568.15 L141.15,568.13 L141.59,568.11 L142.04,568.09 L142.49,568.07 L142.93,568.05 L143.38,568.03 L143.82,568.01 L144.27,567.98 L144.72,567.96 L145.16,567.93 L145.61,567.91 L146.05,567.88 L146.5,567.85 L146.95,567.82 L147.39,567.79 L147.84,567.77 L148.29,567.74 L148.73,567.71 L149.18,567.68 L149.62,567.65 L150.07,567.62 L150.52,567.59 L150.96,567.56 L151.41,567.53 L151.85,567.5 L152.3,567.47 L152.75,567.44 L153.19,567.41 L153.64,567.38 L154.08,567.35 L154.53,567.31 L154.98,567.28 L155.42,567.25 L155.87,567.21 L156.32,567.17 L156.76,567.13 L157.21,567.09 L157.65,567.04 L158.1,566.98 L158.55,566.93 L158.99,566.87 L159.44,566.8 L159.88,566.73 L160.33,566.63 L160.78,566.5 L161.22,566.32 L161.67,566.11 L162.12,565.87 L162.56,565.59 L163.01,565.29 L163.45,564.96 L163.9,564.6 L164.35,564.23 L164.79,563.84 L165.24,563.44 L165.68,563.02 L166.13,562.59 L166.58,562.16 L167.02,561.72 L167.47,561.28 L167.91,560.84 L168.36,560.41 L168.81,559.98 L169.25,559.56 L169.7,559.12 L170.15,558.65 L170.59,558.16 L171.04,557.66 L171.48,557.13 L171.93,556.59 L172.38,556.03 L172.82,555.47 L173.27,554.89 L173.71,554.31 L174.16,553.73 L174.61,553.14 L175.05,552.56 L175.5,551.98 L175.94,551.4 L176.39,550.83 L176.84,550.27 L177.28,549.73 L177.73,549.2 L178.18,548.68 L178.62,548.18 L179.07,547.67 L179.51,547.14 L179.96,546.6 L180.41,546.05 L180.85,545.5 L181.3,544.96 L181.74,544.43 L182.19,543.92 L182.64,543.43 L183.08,542.97 L183.53,542.55 L183.97,542.17 L184.42,541.84 L184.87,541.57 L185.31,541.36 L185.76,541.19 L186.21,541.02 L186.65,540.88 L187.1,540.78 L187.54,540.73 L187.99,540.82 L188.44,541.16 L188.88,541.71 L189.33,542.41 L189.77,543.22 L190.22,544.08 L190.67,544.94 L191.11,545.73 L191.56,546.48 L192,547.29 L192.45,548.15 L192.9,549.04 L193.34,549.96 L193.79,550.89 L194.24,551.82 L194.68,552.73 L195.13,553.6 L195.57,554.44 L196.02,555.21 L196.47,555.91 L196.91,556.52 L197.36,557.09 L197.8,557.65 L198.25,558.18 L198.7,558.7 L199.14,559.2 L199.59,559.68 L200.04,560.14 L200.48,560.59 L200.93,561.01 L201.37,561.42 L201.82,561.81 L202.27,562.18 L202.71,562.53 L203.16,562.86 L203.6,563.17 L204.05,563.48 L204.5,563.78 L204.94,564.08 L205.39,564.37 L205.83,564.66 L206.28,564.94 L206.73,565.2 L207.17,565.46 L207.62,565.7 L208.07,565.92 L208.51,566.12 L208.96,566.3 L209.4,566.45 L209.85,566.58 L210.3,566.68 L210.74,566.75 L211.19,566.81 L211.63,566.88 L212.08,566.94 L212.53,566.99 L212.97,567.05 L213.42,567.11 L213.86,567.16 L214.31,567.21 L214.76,567.26 L215.2,567.31 L215.65,567.36 L216.1,567.4 L216.54,567.45 L216.99,567.49 L217.43,567.53 L217.88,567.57 L218.33,567.61 L218.77,567.65 L219.22,567.68 L219.66,567.71 L220.11,567.75 L220.56,567.78 L221,567.81 L221.45,567.83 L221.89,567.86 L222.34,567.89 L222.79,567.91 L223.23,567.93 L223.68,567.95 L224.13,567.97 L224.57,567.99 L225.02,568 L225.46,568.02 L225.91,568.03 L226.36,568.05 L226.8,568.06 L227.25,568.07 L227.69,568.07 L228.14,568.08 L228.59,568.09 L229.03,568.09 L229.48,568.09 L229.93,568.1 L230.37,568.1 L230.82,568.1 L231.26,568.11 L231.71,568.11 L232.16,568.11 L232.6,568.12 L233.05,568.12 L233.49,568.12 L233.94,568.13 L234.39,568.13 L234.83,568.13 L235.28,568.14 L235.72,568.14 L236.17,568.14 L236.62,568.14 L237.06,568.15 L237.51,568.15 L237.96,568.15 L238.4,568.16 L238.85,568.16 L239.29,568.16 L239.74,568.17 L240.19,568.17 L240.63,568.17 L241.08,568.17 L241.52,568.18 L241.97,568.18 L242.42,568.18 L242.86,568.18 L243.31,568.19 L243.75,568.19 L244.2,568.19 L244.65,568.19 L245.09,568.2 L245.54,568.2 L245.99,568.2 L246.43,568.2 L246.88,568.21 L247.32,568.21 L247.77,568.21 L248.22,568.21 L248.66,568.22 L249.11,568.22 L249.55,568.22 L250,568.22 L250.45,568.23 L250.89,568.23 L251.34,568.23 L251.78,568.23 L252.23,568.24 L252.68,568.24 L253.12,568.24 L253.57,568.24 L254.02,568.24 L254.46,568.25 L254.91,568.25 L255.35,568.25 L255.8,568.25 L256.25,568.26 L256.69,568.26 L257.14,568.26 L257.58,568.26 L258.03,568.26 L258.48,568.27 L258.92,568.27 L259.37,568.27 L259.81,568.27 L260.26,568.27 L260.71,568.27 L261.15,568.28 L261.6,568.28 L262.05,568.28 L262.49,568.28 L262.94,568.28 L263.38,568.29 L263.83,568.29 L264.28,568.29 L264.72,568.29 L265.17,568.29 L265.61,568.29 L266.06,568.3 L266.51,568.3 L266.95,568.3 L267.4,568.3 L267.85,568.3 L268.29,568.3 L268.74,568.31 L269.18,568.31 L269.63,568.31 L270.08,568.31 L270.52,568.31 L270.97,568.31 L271.41,568.32 L271.86,568.32 L272.31,568.32 L272.75,568.32 L273.2,568.32 L273.64,568.32 L274.09,568.32 L274.54,568.33 L274.98,568.33 L275.43,568.33 L275.88,568.33 L276.32,568.33 L276.77,568.33 L277.21,568.33 L277.66,568.33 L278.11,568.34 L278.55,568.34 L279,568.34 L279.44,568.34 L279.89,568.34 L280.34,568.34 L280.78,568.34 L281.23,568.34 L281.67,568.34 L282.12,568.35 L282.57,568.35 L283.01,568.35 L283.46,568.35 L283.91,568.35 L284.35,568.35 L284.8,568.35 L285.24,568.35 L285.69,568.35 L286.14,568.36 L286.58,568.36 L287.03,568.36 L287.47,568.36 L287.92,568.36 L288.37,568.36 L288.81,568.36 L289.26,568.36 L289.7,568.36 L290.15,568.36 L290.6,568.36 L291.04,568.37 L291.49,568.37 L291.94,568.37 L292.38,568.37 L292.83,568.37 L293.27,568.37 L293.72,568.37 L294.17,568.37 L294.61,568.37 L295.06,568.37 L295.5,568.37 L295.95,568.37 L296.4,568.37 L296.84,568.38 L297.29,568.38 L297.74,568.38 L298.18,568.38 L298.63,568.38 L299.07,568.38 L299.52,568.38 L299.97,568.38 L300.41,568.38 L300.86,568.38 L301.3,568.38 L301.75,568.38 L302.2,568.38 L302.64,568.38 L303.09,568.38 L303.53,568.38 L303.98,568.38 L304.43,568.38 L304.87,568.39 L305.32,568.39 L305.77,568.39 L306.21,568.39 L306.66,568.39 L307.1,568.39 L307.55,568.39 L308,568.39 L308.44,568.39 L308.89,568.39 L309.33,568.39 L309.78,568.39 L310.23,568.39 L310.67,568.39 L311.12,568.39 L311.56,568.39 L312.01,568.39 L312.46,568.39 L312.9,568.39 L313.35,568.39 L313.8,568.39 L314.24,568.39 L314.69,568.39 L315.13,568.39 L315.58,568.39 L316.03,568.39 L316.47,568.39 L316.92,568.39 L317.36,568.39 L317.81,568.39 L318.26,568.39 L318.7,568.39 L319.15,568.39 L319.59,568.39 L320.04,568.39 L320.49,568.4 L320.93,568.4 L321.38,568.4 L321.83,568.4 L322.27,568.4 L322.72,568.4 L323.16,568.4 L323.61,568.4 L324.06,568.4 L324.5,568.4 L324.95,568.4 L325.39,568.4 L325.84,568.4 L326.29,568.4 L326.73,568.4 L327.18,568.4 L327.62,568.4 L327.62,568.7 L60.4,568.7 Z" fill="#1a56a8" fill-opacity="0.1" stroke="none"/>
<path d="M60.4,568.4 L60.85,568.4 L61.29,568.4 L61.74,568.4 L62.18,568.4 L62.63,568.4 L63.08,568.4 L63.52,568.4 L63.97,568.4 L64.42,568.4 L64.86,568.39 L65.31,568.39 L65.75,568.39 L66.2,568.39 L66.65,568.39 L67.09,568.39 L67.54,568.39 L67.98,568.39 L68.43,568.39 L68.88,568.39 L69.32,568.39 L69.77,568.39 L70.21,568.39 L70.66,568.39 L71.11,568.39 L71.55,568.39 L72,568.39 L72.45,568.39 L72.89,568.39 L73.34,568.39 L73.78,568.39 L74.23,568.39 L74.68,568.38 L75.12,568.38 L75.57,568.38 L76.01,568.38 L76.46,568.38 L76.91,568.38 L77.35,568.38 L77.8,568.38 L78.24,568.38 L78.69,568.38 L79.14,568.38 L79.58,568.38 L80.03,568.37 L80.48,568.37 L80.92,568.37 L81.37,568.37 L81.81,568.37 L82.26,568.37 L82.71,568.37 L83.15,568.37 L83.6,568.37 L84.04,568.37 L84.49,568.36 L84.94,568.36 L85.38,568.36 L85.83,568.36 L86.27,568.36 L86.72,568.36 L87.17,568.36 L87.61,568.35 L88.06,568.35 L88.51,568.35 L88.95,568.35 L89.4,568.35 L89.84,568.35 L90.29,568.35 L90.74,568.34 L91.18,568.34 L91.63,568.34 L92.07,568.34 L92.52,568.34 L92.97,568.34 L93.41,568.33 L93.86,568.33 L94.31,568.33 L94.75,568.33 L95.2,568.33 L95.64,568.33 L96.09,568.32 L96.54,568.32 L96.98,568.32 L97.43,568.32 L97.87,568.32 L98.32,568.31 L98.77,568.31 L99.21,568.31 L99.66,568.31 L100.1,568.31 L100.55,568.3 L101,568.3 L101.44,568.3 L101.89,568.3 L102.34,568.29 L102.78,568.29 L103.23,568.29 L103.67,568.29 L104.12,568.29 L104.57,568.28 L105.01,568.28 L105.46,568.28 L105.9,568.28 L106.35,568.27 L106.8,568.27 L107.24,568.27 L107.69,568.27 L108.13,568.26 L108.58,568.26 L109.03,568.26 L109.47,568.26 L109.92,568.25 L110.37,568.25 L110.81,568.25 L111.26,568.24 L111.7,568.24 L112.15,568.24 L112.6,568.23 L113.04,568.23 L113.49,568.22 L113.93,568.21 L114.38,568.2 L114.83,568.19 L115.27,568.18 L115.72,568.17 L116.16,568.16 L116.61,568.14 L117.06,568.13 L117.5,568.11 L117.95,568.1 L118.4,568.08 L118.84,568.06 L119.29,568.05 L119.73,568.03 L120.18,568.01 L120.63,567.99 L121.07,567.97 L121.52,567.94 L121.96,567.92 L122.41,567.9 L122.86,567.87 L123.3,567.85 L123.75,567.82 L124.19,567.8 L124.64,567.77 L125.09,567.75 L125.53,567.72 L125.98,567.69 L126.43,567.66 L126.87,567.63 L127.32,567.6 L127.76,567.57 L128.21,567.54 L128.66,567.51 L129.1,567.48 L129.55,567.45 L129.99,567.41 L130.44,567.38 L130.89,567.35 L131.33,567.31 L131.78,567.28 L132.23,567.24 L132.67,567.21 L133.12,567.17 L133.56,567.14 L134.01,567.1 L134.46,567.07 L134.9,567.03 L135.35,566.99 L135.79,566.96 L136.24,566.92 L136.69,566.88 L137.13,566.84 L137.58,566.81 L138.02,566.77 L138.47,566.73 L138.92,566.68 L139.36,566.64 L139.81,566.6 L140.26,566.55 L140.7,566.5 L141.15,566.45 L141.59,566.4 L142.04,566.35 L142.49,566.29 L142.93,566.23 L143.38,566.17 L143.82,566.1 L144.27,566.03 L144.72,565.96 L145.16,565.88 L145.61,565.8 L146.05,565.71 L146.5,565.62 L146.95,565.53 L147.39,565.43 L147.84,565.33 L148.29,565.22 L148.73,565.1 L149.18,564.98 L149.62,564.86 L150.07,564.69 L150.52,564.48 L150.96,564.22 L151.41,563.93 L151.85,563.6 L152.3,563.24 L152.75,562.84 L153.19,562.43 L153.64,561.98 L154.08,561.52 L154.53,561.05 L154.98,560.55 L155.42,560.05 L155.87,559.54 L156.32,559.01 L156.76,558.44 L157.21,557.83 L157.65,557.19 L158.1,556.5 L158.55,555.76 L158.99,554.99 L159.44,554.17 L159.88,553.3 L160.33,552.39 L160.78,551.43 L161.22,550.42 L161.67,549.36 L162.12,548.25 L162.56,547.03 L163.01,545.62 L163.45,544.03 L163.9,542.29 L164.35,540.41 L164.79,538.41 L165.24,536.31 L165.68,534.13 L166.13,531.89 L166.58,529.61 L167.02,527.31 L167.47,525 L167.91,522.72 L168.36,520.47 L168.81,518.28 L169.25,516.16 L169.7,514.06 L170.15,511.96 L170.59,509.85 L171.04,507.73 L171.48,505.6 L171.93,503.44 L172.38,501.27 L172.82,499.06 L173.27,496.82 L173.71,494.55 L174.16,492.23 L174.61,489.86 L175.05,487.43 L175.5,484.77 L175.94,481.89 L176.39,478.91 L176.84,475.94 L177.28,473.1 L177.73,470.48 L178.18,468.2 L178.62,466.34 L179.07,464.62 L179.51,462.96 L179.96,461.41 L180.41,460.02 L180.85,458.85 L181.3,457.93 L181.74,457.33 L182.19,456.96 L182.64,456.62 L183.08,456.35 L183.53,456.16 L183.97,456.07 L184.42,456.28 L184.87,457.13 L185.31,458.4 L185.76,459.88 L186.21,461.34 L186.65,462.59 L187.1,463.74 L187.54,464.91 L187.99,466.24 L188.44,467.84 L188.88,469.85 L189.33,473.01 L189.77,477.87 L190.22,483.8 L190.67,490.15 L191.11,496.28 L191.56,502.13 L192,508.47 L192.45,514.87 L192.9,520.9 L193.34,526.09 L193.79,530.27 L194.24,534.16 L194.68,537.81 L195.13,541.18 L195.57,544.22 L196.02,546.89 L196.47,549.16 L196.91,550.99 L197.36,552.62 L197.8,554.17 L198.25,555.61 L198.7,556.95 L199.14,558.17 L199.59,559.26 L200.04,560.21 L200.48,561.02 L200.93,561.67 L201.37,562.15 L201.82,562.52 L202.27,562.87 L202.71,563.2 L203.16,563.51 L203.6,563.8 L204.05,564.06 L204.5,564.3 L204.94,564.53 L205.39,564.73 L205.83,564.92 L206.28,565.08 L206.73,565.23 L207.17,565.36 L207.62,565.48 L208.07,565.58 L208.51,565.66 L208.96,565.73 L209.4,565.8 L209.85,565.86 L210.3,565.92 L210.74,565.98 L211.19,566.04 L211.63,566.09 L212.08,566.14 L212.53,566.19 L212.97,566.23 L213.42,566.27 L213.86,566.31 L214.31,566.35 L214.76,566.39 L215.2,566.42 L215.65,566.45 L216.1,566.48 L216.54,566.51 L216.99,566.54 L217.43,566.57 L217.88,566.6 L218.33,566.63 L218.77,566.65 L219.22,566.68 L219.66,566.71 L220.11,566.73 L220.56,566.76 L221,566.78 L221.45,566.81 L221.89,566.84 L222.34,566.86 L222.79,566.89 L223.23,566.91 L223.68,566.94 L224.13,566.96 L224.57,566.98 L225.02,567.01 L225.46,567.03 L225.91,567.05 L226.36,567.08 L226.8,567.1 L227.25,567.12 L227.69,567.14 L228.14,567.16 L228.59,567.18 L229.03,567.2 L229.48,567.22 L229.93,567.24 L230.37,567.26 L230.82,567.28 L231.26,567.3 L231.71,567.31 L232.16,567.33 L232.6,567.35 L233.05,567.36 L233.49,567.38 L233.94,567.39 L234.39,567.4 L234.83,567.41 L235.28,567.43 L235.72,567.44 L236.17,567.45 L236.62,567.45 L237.06,567.46 L237.51,567.47 L237.96,567.48 L238.4,567.48 L238.85,567.49 L239.29,567.49 L239.74,567.5 L240.19,567.5 L240.63,567.51 L241.08,567.51 L241.52,567.52 L241.97,567.52 L242.42,567.53 L242.86,567.53 L243.31,567.53 L243.75,567.54 L244.2,567.54 L244.65,567.55 L245.09,567.55 L245.54,567.56 L245.99,567.56 L246.43,567.57 L246.88,567.57 L247.32,567.57 L247.77,567.58 L248.22,567.58 L248.66,567.59 L249.11,567.59 L249.55,567.6 L250,567.6 L250.45,567.6 L250.89,567.61 L251.34,567.61 L251.78,567.62 L252.23,567.62 L252.68,567.62 L253.12,567.63 L253.57,567.63 L254.02,567.64 L254.46,567.64 L254.91,567.64 L255.35,567.65 L255.8,567.65 L256.25,567.66 L256.69,567.66 L257.14,567.66 L257.58,567.67 L258.03,567.67 L258.48,567.67 L258.92,567.68 L259.37,567.68 L259.81,567.68 L260.26,567.69 L260.71,567.69 L261.15,567.7 L261.6,567.7 L262.05,567.7 L262.49,567.71 L262.94,567.71 L263.38,567.71 L263.83,567.72 L264.28,567.72 L264.72,567.72 L265.17,567.73 L265.61,567.73 L266.06,567.73 L266.51,567.73 L266.95,567.74 L267.4,567.74 L267.85,567.74 L268.29,567.75 L268.74,567.75 L269.18,567.75 L269.63,567.76 L270.08,567.76 L270.52,567.76 L270.97,567.76 L271.41,567.77 L271.86,567.77 L272.31,567.77 L272.75,567.78 L273.2,567.78 L273.64,567.78 L274.09,567.78 L274.54,567.79 L274.98,567.79 L275.43,567.79 L275.88,567.8 L276.32,567.8 L276.77,567.8 L277.21,567.8 L277.66,567.81 L278.11,567.81 L278.55,567.81 L279,567.81 L279.44,567.82 L279.89,567.82 L280.34,567.82 L280.78,567.82 L281.23,567.82 L281.67,567.83 L282.12,567.83 L282.57,567.83 L283.01,567.83 L283.46,567.84 L283.91,567.84 L284.35,567.84 L284.8,567.84 L285.24,567.84 L285.69,567.85 L286.14,567.85 L286.58,567.85 L287.03,567.85 L287.47,567.85 L287.92,567.86 L288.37,567.86 L288.81,567.86 L289.26,567.86 L289.7,567.86 L290.15,567.87 L290.6,567.87 L291.04,567.87 L291.49,567.87 L291.94,567.87 L292.38,567.87 L292.83,567.88 L293.27,567.88 L293.72,567.88 L294.17,567.88 L294.61,567.88 L295.06,567.88 L295.5,567.89 L295.95,567.89 L296.4,567.89 L296.84,567.89 L297.29,567.89 L297.74,567.89 L298.18,567.89 L298.63,567.9 L299.07,567.9 L299.52,567.9 L299.97,567.9 L300.41,567.9 L300.86,567.9 L301.3,567.9 L301.75,567.91 L302.2,567.91 L302.64,567.91 L303.09,567.91 L303.53,567.91 L303.98,567.91 L304.43,567.91 L304.87,567.91 L305.32,567.91 L305.77,567.92 L306.21,567.92 L306.66,567.92 L307.1,567.92 L307.55,567.92 L308,567.92 L308.44,567.92 L308.89,567.92 L309.33,567.92 L309.78,567.92 L310.23,567.92 L310.67,567.93 L311.12,567.93 L311.56,567.93 L312.01,567.93 L312.46,567.93 L312.9,567.93 L313.35,567.93 L313.8,567.93 L314.24,567.93 L314.69,567.93 L315.13,567.93 L315.58,567.93 L316.03,567.93 L316.47,567.93 L316.92,567.93 L317.36,567.93 L317.81,567.94 L318.26,567.94 L318.7,567.94 L319.15,567.94 L319.59,567.94 L320.04,567.94 L320.49,567.94 L320.93,567.94 L321.38,567.94 L321.83,567.94 L322.27,567.94 L322.72,567.94 L323.16,567.94 L323.61,567.94 L324.06,567.94 L324.5,567.94 L324.95,567.94 L325.39,567.94 L325.84,567.94 L326.29,567.94 L326.73,567.94 L327.18,567.94 L327.62,567.94 L327.62,568.7 L60.4,568.7 Z" fill="#7a72c0" fill-opacity="0.1" stroke="none"/>
<path d="M60.4,567.64 L60.85,567.59 L61.29,567.54 L61.74,567.49 L62.18,567.44 L62.63,567.38 L63.08,567.31 L63.52,567.24 L63.97,567.17 L64.42,567.1 L64.86,567.02 L65.31,566.93 L65.75,566.85 L66.2,566.76 L66.65,566.67 L67.09,566.58 L67.54,566.48 L67.98,566.38 L68.43,566.27 L68.88,566.17 L69.32,566.06 L69.77,565.94 L70.21,565.83 L70.66,565.71 L71.11,565.59 L71.55,565.47 L72,565.34 L72.45,565.21 L72.89,565.08 L73.34,564.94 L73.78,564.8 L74.23,564.66 L74.68,564.52 L75.12,564.37 L75.57,564.22 L76.01,564.06 L76.46,563.9 L76.91,563.73 L77.35,563.56 L77.8,563.38 L78.24,563.19 L78.69,563 L79.14,562.8 L79.58,562.59 L80.03,562.38 L80.48,562.16 L80.92,561.94 L81.37,561.71 L81.81,561.47 L82.26,561.23 L82.71,560.98 L83.15,560.72 L83.6,560.46 L84.04,560.19 L84.49,559.92 L84.94,559.64 L85.38,559.35 L85.83,559.05 L86.27,558.75 L86.72,558.44 L87.17,558.12 L87.61,557.78 L88.06,557.43 L88.51,557.07 L88.95,556.69 L89.4,556.3 L89.84,555.89 L90.29,555.47 L90.74,555.04 L91.18,554.59 L91.63,554.13 L92.07,553.65 L92.52,553.16 L92.97,552.65 L93.41,552.14 L93.86,551.6 L94.31,551.06 L94.75,550.5 L95.2,549.92 L95.64,549.34 L96.09,548.74 L96.54,548.12 L96.98,547.49 L97.43,546.85 L97.87,546.2 L98.32,545.53 L98.77,544.84 L99.21,544.12 L99.66,543.34 L100.1,542.53 L100.55,541.67 L101,540.77 L101.44,539.83 L101.89,538.86 L102.34,537.86 L102.78,536.83 L103.23,535.77 L103.67,534.68 L104.12,533.57 L104.57,532.43 L105.01,531.28 L105.46,530.1 L105.9,528.92 L106.35,527.72 L106.8,526.5 L107.24,525.28 L107.69,524.05 L108.13,522.76 L108.58,521.42 L109.03,520.03 L109.47,518.59 L109.92,517.12 L110.37,515.62 L110.81,514.09 L111.26,512.53 L111.7,510.96 L112.15,509.38 L112.6,507.79 L113.04,506.21 L113.49,504.62 L113.93,503.03 L114.38,501.42 L114.83,499.8 L115.27,498.15 L115.72,496.5 L116.16,494.82 L116.61,493.12 L117.06,491.41 L117.5,489.68 L117.95,487.93 L118.4,486.17 L118.84,484.38 L119.29,482.57 L119.73,480.72 L120.18,478.83 L120.63,476.9 L121.07,474.94 L121.52,472.95 L121.96,470.95 L122.41,468.94 L122.86,466.93 L123.3,464.93 L123.75,462.94 L124.19,460.96 L124.64,459.02 L125.09,457.11 L125.53,455.23 L125.98,453.38 L126.43,451.53 L126.87,449.7 L127.32,447.89 L127.76,446.08 L128.21,444.28 L128.66,442.5 L129.1,440.72 L129.55,438.95 L129.99,437.19 L130.44,435.44 L130.89,433.69 L131.33,431.94 L131.78,430.11 L132.23,428.22 L132.67,426.31 L133.12,424.41 L133.56,422.57 L134.01,420.82 L134.46,419.21 L134.9,417.78 L135.35,416.55 L135.79,415.51 L136.24,414.46 L136.69,413.43 L137.13,412.46 L137.58,411.59 L138.02,410.86 L138.47,410.3 L138.92,409.96 L139.36,409.86 L139.81,409.95 L140.26,410.16 L140.7,410.48 L141.15,410.89 L141.59,411.38 L142.04,411.92 L142.49,412.5 L142.93,413.11 L143.38,413.75 L143.82,414.55 L144.27,415.51 L144.72,416.62 L145.16,417.87 L145.61,419.28 L146.05,420.81 L146.5,422.49 L146.95,424.58 L147.39,427.14 L147.84,430.08 L148.29,433.28 L148.73,436.64 L149.18,440.1 L149.62,443.84 L150.07,447.89 L150.52,452.2 L150.96,456.72 L151.41,461.42 L151.85,466.25 L152.3,471.27 L152.75,476.71 L153.19,482.46 L153.64,488.36 L154.08,494.28 L154.53,500.05 L154.98,505.57 L155.42,511.04 L155.87,516.49 L156.32,521.88 L156.76,527.14 L157.21,532.23 L157.65,537.08 L158.1,541.77 L158.55,546.85 L158.99,552.02 L159.44,556.86 L159.88,560.92 L160.33,563.79 L160.78,565.07 L161.22,565.74 L161.67,566.33 L162.12,566.82 L162.56,567.2 L163.01,567.47 L163.45,567.61 L163.9,567.64 L164.35,567.64 L164.79,567.64 L165.24,567.64 L165.68,567.64 L166.13,567.64 L166.58,567.64 L167.02,567.64 L167.47,567.64 L167.91,567.64 L168.36,567.64 L168.81,567.64 L169.25,567.64 L169.7,567.64 L170.15,567.64 L170.59,567.64 L171.04,567.64 L171.48,567.64 L171.93,567.64 L172.38,567.64 L172.82,567.64 L173.27,567.64 L173.71,567.64 L174.16,567.64 L174.61,567.64 L175.05,567.64 L175.5,567.64 L175.94,567.64 L176.39,567.64 L176.84,567.64 L177.28,567.64 L177.73,567.64 L178.18,567.64 L178.62,567.64 L179.07,567.64 L179.51,567.64 L179.96,567.64 L180.41,567.64 L180.85,567.64 L181.3,567.64 L181.74,567.64 L182.19,567.64 L182.64,567.64 L183.08,567.64 L183.53,567.64 L183.97,567.64 L184.42,567.64 L184.87,567.64 L185.31,567.64 L185.76,567.64 L186.21,567.64 L186.65,567.64 L187.1,567.64 L187.54,567.64 L187.99,567.64 L188.44,567.63 L188.88,567.63 L189.33,567.63 L189.77,567.63 L190.22,567.62 L190.67,567.62 L191.11,567.61 L191.56,567.61 L192,567.6 L192.45,567.59 L192.9,567.59 L193.34,567.58 L193.79,567.57 L194.24,567.56 L194.68,567.55 L195.13,567.54 L195.57,567.53 L196.02,567.52 L196.47,567.51 L196.91,567.5 L197.36,567.49 L197.8,567.48 L198.25,567.46 L198.7,567.45 L199.14,567.44 L199.59,567.43 L200.04,567.42 L200.48,567.41 L200.93,567.39 L201.37,567.38 L201.82,567.37 L202.27,567.36 L202.71,567.35 L203.16,567.33 L203.6,567.32 L204.05,567.31 L204.5,567.3 L204.94,567.29 L205.39,567.28 L205.83,567.27 L206.28,567.26 L206.73,567.25 L207.17,567.24 L207.62,567.23 L208.07,567.23 L208.51,567.22 L208.96,567.21 L209.4,567.21 L209.85,567.2 L210.3,567.2 L210.74,567.19 L211.19,567.19 L211.63,567.18 L212.08,567.18 L212.53,567.18 L212.97,567.18 L213.42,567.18 L213.86,567.18 L214.31,567.18 L214.76,567.18 L215.2,567.18 L215.65,567.19 L216.1,567.19 L216.54,567.19 L216.99,567.19 L217.43,567.19 L217.88,567.2 L218.33,567.2 L218.77,567.2 L219.22,567.21 L219.66,567.21 L220.11,567.22 L220.56,567.22 L221,567.23 L221.45,567.23 L221.89,567.24 L222.34,567.24 L222.79,567.25 L223.23,567.25 L223.68,567.26 L224.13,567.26 L224.57,567.27 L225.02,567.28 L225.46,567.28 L225.91,567.29 L226.36,567.29 L226.8,567.3 L227.25,567.31 L227.69,567.31 L228.14,567.32 L228.59,567.33 L229.03,567.33 L229.48,567.34 L229.93,567.35 L230.37,567.36 L230.82,567.36 L231.26,567.37 L231.71,567.38 L232.16,567.38 L232.6,567.39 L233.05,567.4 L233.49,567.41 L233.94,567.41 L234.39,567.42 L234.83,567.43 L235.28,567.43 L235.72,567.44 L236.17,567.45 L236.62,567.46 L237.06,567.46 L237.51,567.47 L237.96,567.48 L238.4,567.48 L238.85,567.49 L239.29,567.5 L239.74,567.5 L240.19,567.51 L240.63,567.52 L241.08,567.53 L241.52,567.53 L241.97,567.54 L242.42,567.55 L242.86,567.56 L243.31,567.57 L243.75,567.58 L244.2,567.59 L244.65,567.6 L245.09,567.61 L245.54,567.62 L245.99,567.63 L246.43,567.64 L246.88,567.65 L247.32,567.66 L247.77,567.67 L248.22,567.68 L248.66,567.7 L249.11,567.71 L249.55,567.72 L250,567.73 L250.45,567.74 L250.89,567.75 L251.34,567.76 L251.78,567.77 L252.23,567.78 L252.68,567.79 L253.12,567.8 L253.57,567.81 L254.02,567.82 L254.46,567.83 L254.91,567.84 L255.35,567.85 L255.8,567.85 L256.25,567.86 L256.69,567.87 L257.14,567.88 L257.58,567.89 L258.03,567.89 L258.48,567.9 L258.92,567.9 L259.37,567.91 L259.81,567.92 L260.26,567.92 L260.71,567.92 L261.15,567.93 L261.6,567.93 L262.05,567.93 L262.49,567.94 L262.94,567.94 L263.38,567.94 L263.83,567.94 L264.28,567.94 L264.72,567.94 L265.17,567.94 L265.61,567.94 L266.06,567.94 L266.51,567.94 L266.95,567.93 L267.4,567.93 L267.85,567.93 L268.29,567.93 L268.74,567.92 L269.18,567.92 L269.63,567.92 L270.08,567.91 L270.52,567.91 L270.97,567.91 L271.41,567.9 L271.86,567.9 L272.31,567.89 L272.75,567.89 L273.2,567.88 L273.64,567.88 L274.09,567.87 L274.54,567.87 L274.98,567.86 L275.43,567.86 L275.88,567.85 L276.32,567.84 L276.77,567.84 L277.21,567.83 L277.66,567.82 L278.11,567.82 L278.55,567.81 L279,567.8 L279.44,567.8 L279.89,567.79 L280.34,567.78 L280.78,567.78 L281.23,567.77 L281.67,567.76 L282.12,567.76 L282.57,567.75 L283.01,567.74 L283.46,567.73 L283.91,567.73 L284.35,567.72 L284.8,567.71 L285.24,567.7 L285.69,567.7 L286.14,567.69 L286.58,567.68 L287.03,567.67 L287.47,567.67 L287.92,567.66 L288.37,567.65 L288.81,567.65 L289.26,567.64 L289.7,567.63 L290.15,567.62 L290.6,567.62 L291.04,567.61 L291.49,567.6 L291.94,567.59 L292.38,567.58 L292.83,567.57 L293.27,567.55 L293.72,567.54 L294.17,567.53 L294.61,567.52 L295.06,567.5 L295.5,567.49 L295.95,567.48 L296.4,567.47 L296.84,567.45 L297.29,567.44 L297.74,567.43 L298.18,567.41 L298.63,567.4 L299.07,567.38 L299.52,567.37 L299.97,567.36 L300.41,567.34 L300.86,567.33 L301.3,567.32 L301.75,567.31 L302.2,567.3 L302.64,567.28 L303.09,567.27 L303.53,567.26 L303.98,567.25 L304.43,567.24 L304.87,567.23 L305.32,567.22 L305.77,567.22 L306.21,567.21 L306.66,567.2 L307.1,567.2 L307.55,567.19 L308,567.19 L308.44,567.18 L308.89,567.18 L309.33,567.18 L309.78,567.18 L310.23,567.18 L310.67,567.18 L311.12,567.18 L311.56,567.19 L312.01,567.19 L312.46,567.2 L312.9,567.2 L313.35,567.21 L313.8,567.22 L314.24,567.22 L314.69,567.23 L315.13,567.24 L315.58,567.25 L316.03,567.26 L316.47,567.28 L316.92,567.29 L317.36,567.3 L317.81,567.32 L318.26,567.33 L318.7,567.35 L319.15,567.37 L319.59,567.38 L320.04,567.4 L320.49,567.42 L320.93,567.44 L321.38,567.46 L321.83,567.48 L322.27,567.5 L322.72,567.52 L323.16,567.54 L323.61,567.56 L324.06,567.59 L324.5,567.61 L324.95,567.63 L325.39,567.66 L325.84,567.68 L326.29,567.71 L326.73,567.73 L327.18,567.76 L327.62,567.79 L327.62,568.7 L60.4,568.7 Z" fill="#1b9a72" fill-opacity="0.1" stroke="none"/>
<path d="M60.4,552.44 L60.85,552.09 L61.29,551.76 L61.74,551.48 L62.18,551.2 L62.63,550.93 L63.08,550.67 L63.52,550.41 L63.97,550.16 L64.42,549.92 L64.86,549.69 L65.31,549.46 L65.75,549.24 L66.2,549.03 L66.65,548.83 L67.09,548.65 L67.54,548.47 L67.98,548.3 L68.43,548.15 L68.88,548 L69.32,547.87 L69.77,547.75 L70.21,547.63 L70.66,547.52 L71.11,547.41 L71.55,547.31 L72,547.21 L72.45,547.12 L72.89,547.03 L73.34,546.94 L73.78,546.86 L74.23,546.77 L74.68,546.69 L75.12,546.6 L75.57,546.51 L76.01,546.42 L76.46,546.33 L76.91,546.23 L77.35,546.13 L77.8,546.03 L78.24,545.93 L78.69,545.83 L79.14,545.73 L79.58,545.64 L80.03,545.54 L80.48,545.45 L80.92,545.35 L81.37,545.26 L81.81,545.16 L82.26,545.06 L82.71,544.96 L83.15,544.85 L83.6,544.74 L84.04,544.62 L84.49,544.49 L84.94,544.36 L85.38,544.21 L85.83,544.06 L86.27,543.9 L86.72,543.73 L87.17,543.53 L87.61,543.31 L88.06,543.07 L88.51,542.8 L88.95,542.51 L89.4,542.19 L89.84,541.86 L90.29,541.51 L90.74,541.14 L91.18,540.75 L91.63,540.34 L92.07,539.93 L92.52,539.49 L92.97,539.05 L93.41,538.59 L93.86,538.13 L94.31,537.65 L94.75,537.17 L95.2,536.68 L95.64,536.19 L96.09,535.66 L96.54,535.09 L96.98,534.48 L97.43,533.84 L97.87,533.16 L98.32,532.46 L98.77,531.73 L99.21,530.98 L99.66,530.21 L100.1,529.42 L100.55,528.63 L101,527.82 L101.44,527 L101.89,526.18 L102.34,525.36 L102.78,524.54 L103.23,523.72 L103.67,522.92 L104.12,522.12 L104.57,521.34 L105.01,520.53 L105.46,519.7 L105.9,518.84 L106.35,517.97 L106.8,517.08 L107.24,516.19 L107.69,515.3 L108.13,514.41 L108.58,513.54 L109.03,512.68 L109.47,511.84 L109.92,511.03 L110.37,510.26 L110.81,509.52 L111.26,508.83 L111.7,508.19 L112.15,507.59 L112.6,506.97 L113.04,506.34 L113.49,505.71 L113.93,505.07 L114.38,504.44 L114.83,503.81 L115.27,503.2 L115.72,502.61 L116.16,502.05 L116.61,501.51 L117.06,501 L117.5,500.54 L117.95,500.11 L118.4,499.74 L118.84,499.42 L119.29,499.16 L119.73,498.96 L120.18,498.84 L120.63,498.78 L121.07,498.79 L121.52,498.81 L121.96,498.86 L122.41,498.92 L122.86,499 L123.3,499.08 L123.75,499.17 L124.19,499.27 L124.64,499.36 L125.09,499.46 L125.53,499.55 L125.98,499.63 L126.43,499.71 L126.87,499.77 L127.32,499.81 L127.76,499.84 L128.21,499.84 L128.66,499.75 L129.1,499.56 L129.55,499.27 L129.99,498.9 L130.44,498.44 L130.89,497.92 L131.33,497.34 L131.78,496.71 L132.23,496.04 L132.67,495.34 L133.12,494.62 L133.56,493.89 L134.01,493.16 L134.46,492.43 L134.9,491.72 L135.35,491.04 L135.79,490.4 L136.24,489.8 L136.69,489.25 L137.13,488.77 L137.58,488.28 L138.02,487.78 L138.47,487.26 L138.92,486.73 L139.36,486.2 L139.81,485.66 L140.26,485.12 L140.7,484.58 L141.15,484.05 L141.59,483.53 L142.04,483.03 L142.49,482.54 L142.93,482.08 L143.38,481.64 L143.82,481.23 L144.27,480.86 L144.72,480.52 L145.16,480.22 L145.61,479.97 L146.05,479.76 L146.5,479.61 L146.95,479.51 L147.39,479.48 L147.84,479.49 L148.29,479.52 L148.73,479.57 L149.18,479.64 L149.62,479.72 L150.07,479.82 L150.52,479.93 L150.96,480.04 L151.41,480.15 L151.85,480.27 L152.3,480.38 L152.75,480.49 L153.19,480.59 L153.64,480.68 L154.08,480.75 L154.53,480.81 L154.98,480.86 L155.42,480.89 L155.87,480.92 L156.32,480.94 L156.76,480.97 L157.21,480.99 L157.65,481.01 L158.1,481.03 L158.55,481.05 L158.99,481.08 L159.44,481.11 L159.88,481.15 L160.33,481.19 L160.78,481.24 L161.22,481.3 L161.67,481.37 L162.12,481.45 L162.56,481.53 L163.01,481.63 L163.45,481.73 L163.9,481.83 L164.35,481.94 L164.79,482.06 L165.24,482.19 L165.68,482.32 L166.13,482.46 L166.58,482.6 L167.02,482.76 L167.47,482.98 L167.91,483.25 L168.36,483.58 L168.81,483.94 L169.25,484.34 L169.7,484.76 L170.15,485.2 L170.59,485.64 L171.04,486.07 L171.48,486.5 L171.93,486.91 L172.38,487.28 L172.82,487.62 L173.27,487.91 L173.71,488.15 L174.16,488.32 L174.61,488.42 L175.05,488.44 L175.5,488.37 L175.94,488.21 L176.39,487.99 L176.84,487.69 L177.28,487.34 L177.73,486.94 L178.18,486.51 L178.62,486.04 L179.07,485.56 L179.51,485.06 L179.96,484.56 L180.41,484.07 L180.85,483.59 L181.3,483.13 L181.74,482.71 L182.19,482.3 L182.64,481.83 L183.08,481.33 L183.53,480.79 L183.97,480.24 L184.42,479.69 L184.87,479.13 L185.31,478.59 L185.76,478.07 L186.21,477.59 L186.65,477.15 L187.1,476.76 L187.54,476.44 L187.99,476.2 L188.44,476.04 L188.88,475.98 L189.33,476.01 L189.77,476.09 L190.22,476.23 L190.67,476.42 L191.11,476.65 L191.56,476.92 L192,477.21 L192.45,477.54 L192.9,477.87 L193.34,478.23 L193.79,478.59 L194.24,478.94 L194.68,479.3 L195.13,479.71 L195.57,480.17 L196.02,480.68 L196.47,481.23 L196.91,481.82 L197.36,482.44 L197.8,483.09 L198.25,483.76 L198.7,484.43 L199.14,485.12 L199.59,485.8 L200.04,486.48 L200.48,487.15 L200.93,487.79 L201.37,488.42 L201.82,489.04 L202.27,489.67 L202.71,490.32 L203.16,490.98 L203.6,491.64 L204.05,492.31 L204.5,492.96 L204.94,493.6 L205.39,494.22 L205.83,494.82 L206.28,495.39 L206.73,495.92 L207.17,496.42 L207.62,496.88 L208.07,497.3 L208.51,497.69 L208.96,498.06 L209.4,498.41 L209.85,498.74 L210.3,499.07 L210.74,499.39 L211.19,499.71 L211.63,500.04 L212.08,500.39 L212.53,500.75 L212.97,501.14 L213.42,501.55 L213.86,502 L214.31,502.49 L214.76,503.03 L215.2,503.61 L215.65,504.22 L216.1,504.88 L216.54,505.56 L216.99,506.27 L217.43,507 L217.88,507.75 L218.33,508.52 L218.77,509.29 L219.22,510.07 L219.66,510.86 L220.11,511.64 L220.56,512.48 L221,513.37 L221.45,514.31 L221.89,515.28 L222.34,516.27 L222.79,517.28 L223.23,518.3 L223.68,519.3 L224.13,520.28 L224.57,521.24 L225.02,522.15 L225.46,523.01 L225.91,523.81 L226.36,524.53 L226.8,525.17 L227.25,525.73 L227.69,526.24 L228.14,526.7 L228.59,527.12 L229.03,527.51 L229.48,527.89 L229.93,528.26 L230.37,528.64 L230.82,529.02 L231.26,529.43 L231.71,529.87 L232.16,530.35 L232.6,530.88 L233.05,531.48 L233.49,532.16 L233.94,532.91 L234.39,533.71 L234.83,534.55 L235.28,535.43 L235.72,536.32 L236.17,537.23 L236.62,538.14 L237.06,539.03 L237.51,539.9 L237.96,540.74 L238.4,541.52 L238.85,542.32 L239.29,543.13 L239.74,543.96 L240.19,544.79 L240.63,545.63 L241.08,546.46 L241.52,547.28 L241.97,548.08 L242.42,548.86 L242.86,549.6 L243.31,550.3 L243.75,550.96 L244.2,551.56 L244.65,552.11 L245.09,552.59 L245.54,552.99 L245.99,553.38 L246.43,553.76 L246.88,554.13 L247.32,554.49 L247.77,554.83 L248.22,555.16 L248.66,555.47 L249.11,555.76 L249.55,556.02 L250,556.26 L250.45,556.47 L250.89,556.65 L251.34,556.8 L251.78,556.91 L252.23,556.99 L252.68,557.04 L253.12,557.08 L253.57,557.13 L254.02,557.17 L254.46,557.21 L254.91,557.24 L255.35,557.28 L255.8,557.31 L256.25,557.34 L256.69,557.36 L257.14,557.39 L257.58,557.4 L258.03,557.42 L258.48,557.43 L258.92,557.44 L259.37,557.45 L259.81,557.45 L260.26,557.45 L260.71,557.43 L261.15,557.41 L261.6,557.37 L262.05,557.33 L262.49,557.27 L262.94,557.21 L263.38,557.14 L263.83,557.06 L264.28,556.97 L264.72,556.87 L265.17,556.76 L265.61,556.65 L266.06,556.53 L266.51,556.41 L266.95,556.28 L267.4,556.14 L267.85,556 L268.29,555.86 L268.74,555.71 L269.18,555.55 L269.63,555.4 L270.08,555.24 L270.52,555.08 L270.97,554.91 L271.41,554.74 L271.86,554.57 L272.31,554.4 L272.75,554.23 L273.2,554.06 L273.64,553.89 L274.09,553.72 L274.54,553.55 L274.98,553.38 L275.43,553.21 L275.88,553.05 L276.32,552.89 L276.77,552.72 L277.21,552.56 L277.66,552.39 L278.11,552.21 L278.55,552.02 L279,551.83 L279.44,551.63 L279.89,551.43 L280.34,551.22 L280.78,551.01 L281.23,550.79 L281.67,550.56 L282.12,550.34 L282.57,550.1 L283.01,549.87 L283.46,549.63 L283.91,549.39 L284.35,549.15 L284.8,548.91 L285.24,548.66 L285.69,548.41 L286.14,548.17 L286.58,547.92 L287.03,547.67 L287.47,547.42 L287.92,547.18 L288.37,546.93 L288.81,546.69 L289.26,546.45 L289.7,546.21 L290.15,545.97 L290.6,545.73 L291.04,545.5 L291.49,545.27 L291.94,545.05 L292.38,544.83 L292.83,544.61 L293.27,544.4 L293.72,544.2 L294.17,544 L294.61,543.8 L295.06,543.62 L295.5,543.43 L295.95,543.24 L296.4,543.06 L296.84,542.87 L297.29,542.68 L297.74,542.49 L298.18,542.31 L298.63,542.12 L299.07,541.94 L299.52,541.76 L299.97,541.59 L300.41,541.41 L300.86,541.25 L301.3,541.09 L301.75,540.94 L302.2,540.79 L302.64,540.65 L303.09,540.52 L303.53,540.4 L303.98,540.29 L304.43,540.19 L304.87,540.09 L305.32,540 L305.77,539.91 L306.21,539.82 L306.66,539.73 L307.1,539.65 L307.55,539.56 L308,539.48 L308.44,539.4 L308.89,539.32 L309.33,539.25 L309.78,539.19 L310.23,539.13 L310.67,539.07 L311.12,539.03 L311.56,538.99 L312.01,538.95 L312.46,538.93 L312.9,538.91 L313.35,538.91 L313.8,538.91 L314.24,538.92 L314.69,538.94 L315.13,538.97 L315.58,539 L316.03,539.04 L316.47,539.09 L316.92,539.14 L317.36,539.2 L317.81,539.26 L318.26,539.32 L318.7,539.39 L319.15,539.46 L319.59,539.53 L320.04,539.61 L320.49,539.69 L320.93,539.76 L321.38,539.84 L321.83,539.93 L322.27,540.03 L322.72,540.14 L323.16,540.27 L323.61,540.4 L324.06,540.55 L324.5,540.7 L324.95,540.86 L325.39,541.03 L325.84,541.2 L326.29,541.38 L326.73,541.57 L327.18,541.76 L327.62,541.95 L327.62,568.7 L60.4,568.7 Z" fill="#f07a55" fill-opacity="0.1" stroke="none"/>
<path d="M60.4,568.55 L60.85,568.55 L61.29,568.55 L61.74,568.55 L62.18,568.55 L62.63,568.55 L63.08,568.55 L63.52,568.55 L63.97,568.55 L64.42,568.55 L64.86,568.55 L65.31,568.55 L65.75,568.55 L66.2,568.55 L66.65,568.55 L67.09,568.55 L67.54,568.55 L67.98,568.55 L68.43,568.55 L68.88,568.55 L69.32,568.54 L69.77,568.54 L70.21,568.54 L70.66,568.54 L71.11,568.54 L71.55,568.54 L72,568.54 L72.45,568.54 L72.89,568.54 L73.34,568.54 L73.78,568.54 L74.23,568.54 L74.68,568.54 L75.12,568.54 L75.57,568.54 L76.01,568.54 L76.46,568.54 L76.91,568.54 L77.35,568.54 L77.8,568.54 L78.24,568.54 L78.69,568.53 L79.14,568.53 L79.58,568.53 L80.03,568.53 L80.48,568.53 L80.92,568.53 L81.37,568.53 L81.81,568.53 L82.26,568.53 L82.71,568.53 L83.15,568.53 L83.6,568.53 L84.04,568.52 L84.49,568.52 L84.94,568.52 L85.38,568.52 L85.83,568.52 L86.27,568.52 L86.72,568.52 L87.17,568.52 L87.61,568.52 L88.06,568.52 L88.51,568.51 L88.95,568.51 L89.4,568.51 L89.84,568.51 L90.29,568.51 L90.74,568.51 L91.18,568.51 L91.63,568.51 L92.07,568.5 L92.52,568.5 L92.97,568.5 L93.41,568.5 L93.86,568.5 L94.31,568.5 L94.75,568.5 L95.2,568.49 L95.64,568.49 L96.09,568.49 L96.54,568.49 L96.98,568.49 L97.43,568.49 L97.87,568.49 L98.32,568.48 L98.77,568.48 L99.21,568.48 L99.66,568.48 L100.1,568.48 L100.55,568.48 L101,568.47 L101.44,568.47 L101.89,568.47 L102.34,568.47 L102.78,568.47 L103.23,568.46 L103.67,568.46 L104.12,568.46 L104.57,568.46 L105.01,568.46 L105.46,568.45 L105.9,568.45 L106.35,568.45 L106.8,568.45 L107.24,568.45 L107.69,568.44 L108.13,568.44 L108.58,568.44 L109.03,568.44 L109.47,568.44 L109.92,568.43 L110.37,568.43 L110.81,568.43 L111.26,568.43 L111.7,568.42 L112.15,568.42 L112.6,568.42 L113.04,568.42 L113.49,568.41 L113.93,568.41 L114.38,568.41 L114.83,568.41 L115.27,568.4 L115.72,568.4 L116.16,568.4 L116.61,568.4 L117.06,568.39 L117.5,568.39 L117.95,568.39 L118.4,568.38 L118.84,568.38 L119.29,568.38 L119.73,568.38 L120.18,568.37 L120.63,568.37 L121.07,568.37 L121.52,568.36 L121.96,568.36 L122.41,568.36 L122.86,568.36 L123.3,568.35 L123.75,568.35 L124.19,568.35 L124.64,568.34 L125.09,568.34 L125.53,568.34 L125.98,568.33 L126.43,568.33 L126.87,568.33 L127.32,568.32 L127.76,568.32 L128.21,568.32 L128.66,568.31 L129.1,568.31 L129.55,568.31 L129.99,568.3 L130.44,568.3 L130.89,568.29 L131.33,568.29 L131.78,568.29 L132.23,568.28 L132.67,568.28 L133.12,568.28 L133.56,568.27 L134.01,568.27 L134.46,568.26 L134.9,568.26 L135.35,568.26 L135.79,568.25 L136.24,568.25 L136.69,568.24 L137.13,568.24 L137.58,568.23 L138.02,568.23 L138.47,568.22 L138.92,568.21 L139.36,568.19 L139.81,568.18 L140.26,568.17 L140.7,568.15 L141.15,568.13 L141.59,568.11 L142.04,568.09 L142.49,568.07 L142.93,568.05 L143.38,568.03 L143.82,568.01 L144.27,567.98 L144.72,567.96 L145.16,567.93 L145.61,567.91 L146.05,567.88 L146.5,567.85 L146.95,567.82 L147.39,567.79 L147.84,567.77 L148.29,567.74 L148.73,567.71 L149.18,567.68 L149.62,567.65 L150.07,567.62 L150.52,567.59 L150.96,567.56 L151.41,567.53 L151.85,567.5 L152.3,567.47 L152.75,567.44 L153.19,567.41 L153.64,567.38 L154.08,567.35 L154.53,567.31 L154.98,567.28 L155.42,567.25 L155.87,567.21 L156.32,567.17 L156.76,567.13 L157.21,567.09 L157.65,567.04 L158.1,566.98 L158.55,566.93 L158.99,566.87 L159.44,566.8 L159.88,566.73 L160.33,566.63 L160.78,566.5 L161.22,566.32 L161.67,566.11 L162.12,565.87 L162.56,565.59 L163.01,565.29 L163.45,564.96 L163.9,564.6 L164.35,564.23 L164.79,563.84 L165.24,563.44 L165.68,563.02 L166.13,562.59 L166.58,562.16 L167.02,561.72 L167.47,561.28 L167.91,560.84 L168.36,560.41 L168.81,559.98 L169.25,559.56 L169.7,559.12 L170.15,558.65 L170.59,558.16 L171.04,557.66 L171.48,557.13 L171.93,556.59 L172.38,556.03 L172.82,555.47 L173.27,554.89 L173.71,554.31 L174.16,553.73 L174.61,553.14 L175.05,552.56 L175.5,551.98 L175.94,551.4 L176.39,550.83 L176.84,550.27 L177.28,549.73 L177.73,549.2 L178.18,548.68 L178.62,548.18 L179.07,547.67 L179.51,547.14 L179.96,546.6 L180.41,546.05 L180.85,545.5 L181.3,544.96 L181.74,544.43 L182.19,543.92 L182.64,543.43 L183.08,542.97 L183.53,542.55 L183.97,542.17 L184.42,541.84 L184.87,541.57 L185.31,541.36 L185.76,541.19 L186.21,541.02 L186.65,540.88 L187.1,540.78 L187.54,540.73 L187.99,540.82 L188.44,541.16 L188.88,541.71 L189.33,542.41 L189.77,543.22 L190.22,544.08 L190.67,544.94 L191.11,545.73 L191.56,546.48 L192,547.29 L192.45,548.15 L192.9,549.04 L193.34,549.96 L193.79,550.89 L194.24,551.82 L194.68,552.73 L195.13,553.6 L195.57,554.44 L196.02,555.21 L196.47,555.91 L196.91,556.52 L197.36,557.09 L197.8,557.65 L198.25,558.18 L198.7,558.7 L199.14,559.2 L199.59,559.68 L200.04,560.14 L200.48,560.59 L200.93,561.01 L201.37,561.42 L201.82,561.81 L202.27,562.18 L202.71,562.53 L203.16,562.86 L203.6,563.17 L204.05,563.48 L204.5,563.78 L204.94,564.08 L205.39,564.37 L205.83,564.66 L206.28,564.94 L206.73,565.2 L207.17,565.46 L207.62,565.7 L208.07,565.92 L208.51,566.12 L208.96,566.3 L209.4,566.45 L209.85,566.58 L210.3,566.68 L210.74,566.75 L211.19,566.81 L211.63,566.88 L212.08,566.94 L212.53,566.99 L212.97,567.05 L213.42,567.11 L213.86,567.16 L214.31,567.21 L214.76,567.26 L215.2,567.31 L215.65,567.36 L216.1,567.4 L216.54,567.45 L216.99,567.49 L217.43,567.53 L217.88,567.57 L218.33,567.61 L218.77,567.65 L219.22,567.68 L219.66,567.71 L220.11,567.75 L220.56,567.78 L221,567.81 L221.45,567.83 L221.89,567.86 L222.34,567.89 L222.79,567.91 L223.23,567.93 L223.68,567.95 L224.13,567.97 L224.57,567.99 L225.02,568 L225.46,568.02 L225.91,568.03 L226.36,568.05 L226.8,568.06 L227.25,568.07 L227.69,568.07 L228.14,568.08 L228.59,568.09 L229.03,568.09 L229.48,568.09 L229.93,568.1 L230.37,568.1 L230.82,568.1 L231.26,568.11 L231.71,568.11 L232.16,568.11 L232.6,568.12 L233.05,568.12 L233.49,568.12 L233.94,568.13 L234.39,568.13 L234.83,568.13 L235.28,568.14 L235.72,568.14 L236.17,568.14 L236.62,568.14 L237.06,568.15 L237.51,568.15 L237.96,568.15 L238.4,568.16 L238.85,568.16 L239.29,568.16 L239.74,568.17 L240.19,568.17 L240.63,568.17 L241.08,568.17 L241.52,568.18 L241.97,568.18 L242.42,568.18 L242.86,568.18 L243.31,568.19 L243.75,568.19 L244.2,568.19 L244.65,568.19 L245.09,568.2 L245.54,568.2 L245.99,568.2 L246.43,568.2 L246.88,568.21 L247.32,568.21 L247.77,568.21 L248.22,568.21 L248.66,568.22 L249.11,568.22 L249.55,568.22 L250,568.22 L250.45,568.23 L250.89,568.23 L251.34,568.23 L251.78,568.23 L252.23,568.24 L252.68,568.24 L253.12,568.24 L253.57,568.24 L254.02,568.24 L254.46,568.25 L254.91,568.25 L255.35,568.25 L255.8,568.25 L256.25,568.26 L256.69,568.26 L257.14,568.26 L257.58,568.26 L258.03,568.26 L258.48,568.27 L258.92,568.27 L259.37,568.27 L259.81,568.27 L260.26,568.27 L260.71,568.27 L261.15,568.28 L261.6,568.28 L262.05,568.28 L262.49,568.28 L262.94,568.28 L263.38,568.29 L263.83,568.29 L264.28,568.29 L264.72,568.29 L265.17,568.29 L265.61,568.29 L266.06,568.3 L266.51,568.3 L266.95,568.3 L267.4,568.3 L267.85,568.3 L268.29,568.3 L268.74,568.31 L269.18,568.31 L269.63,568.31 L270.08,568.31 L270.52,568.31 L270.97,568.31 L271.41,568.32 L271.86,568.32 L272.31,568.32 L272.75,568.32 L273.2,568.32 L273.64,568.32 L274.09,568.32 L274.54,568.33 L274.98,568.33 L275.43,568.33 L275.88,568.33 L276.32,568.33 L276.77,568.33 L277.21,568.33 L277.66,568.33 L278.11,568.34 L278.55,568.34 L279,568.34 L279.44,568.34 L279.89,568.34 L280.34,568.34 L280.78,568.34 L281.23,568.34 L281.67,568.34 L282.12,568.35 L282.57,568.35 L283.01,568.35 L283.46,568.35 L283.91,568.35 L284.35,568.35 L284.8,568.35 L285.24,568.35 L285.69,568.35 L286.14,568.36 L286.58,568.36 L287.03,568.36 L287.47,568.36 L287.92,568.36 L288.37,568.36 L288.81,568.36 L289.26,568.36 L289.7,568.36 L290.15,568.36 L290.6,568.36 L291.04,568.37 L291.49,568.37 L291.94,568.37 L292.38,568.37 L292.83,568.37 L293.27,568.37 L293.72,568.37 L294.17,568.37 L294.61,568.37 L295.06,568.37 L295.5,568.37 L295.95,568.37 L296.4,568.37 L296.84,568.38 L297.29,568.38 L297.74,568.38 L298.18,568.38 L298.63,568.38 L299.07,568.38 L299.52,568.38 L299.97,568.38 L300.41,568.38 L300.86,568.38 L301.3,568.38 L301.75,568.38 L302.2,568.38 L302.64,568.38 L303.09,568.38 L303.53,568.38 L303.98,568.38 L304.43,568.38 L304.87,568.39 L305.32,568.39 L305.77,568.39 L306.21,568.39 L306.66,568.39 L307.1,568.39 L307.55,568.39 L308,568.39 L308.44,568.39 L308.89,568.39 L309.33,568.39 L309.78,568.39 L310.23,568.39 L310.67,568.39 L311.12,568.39 L311.56,568.39 L312.01,568.39 L312.46,568.39 L312.9,568.39 L313.35,568.39 L313.8,568.39 L314.24,568.39 L314.69,568.39 L315.13,568.39 L315.58,568.39 L316.03,568.39 L316.47,568.39 L316.92,568.39 L317.36,568.39 L317.81,568.39 L318.26,568.39 L318.7,568.39 L319.15,568.39 L319.59,568.39 L320.04,568.39 L320.49,568.4 L320.93,568.4 L321.38,568.4 L321.83,568.4 L322.27,568.4 L322.72,568.4 L323.16,568.4 L323.61,568.4 L324.06,568.4 L324.5,568.4 L324.95,568.4 L325.39,568.4 L325.84,568.4 L326.29,568.4 L326.73,568.4 L327.18,568.4 L327.62,568.4" stroke="#1a56a8" stroke-width="1.6" fill="none" stroke-linejoin="round"/>
<path d="M60.4,568.4 L60.85,568.4 L61.29,568.4 L61.74,568.4 L62.18,568.4 L62.63,568.4 L63.08,568.4 L63.52,568.4 L63.97,568.4 L64.42,568.4 L64.86,568.39 L65.31,568.39 L65.75,568.39 L66.2,568.39 L66.65,568.39 L67.09,568.39 L67.54,568.39 L67.98,568.39 L68.43,568.39 L68.88,568.39 L69.32,568.39 L69.77,568.39 L70.21,568.39 L70.66,568.39 L71.11,568.39 L71.55,568.39 L72,568.39 L72.45,568.39 L72.89,568.39 L73.34,568.39 L73.78,568.39 L74.23,568.39 L74.68,568.38 L75.12,568.38 L75.57,568.38 L76.01,568.38 L76.46,568.38 L76.91,568.38 L77.35,568.38 L77.8,568.38 L78.24,568.38 L78.69,568.38 L79.14,568.38 L79.58,568.38 L80.03,568.37 L80.48,568.37 L80.92,568.37 L81.37,568.37 L81.81,568.37 L82.26,568.37 L82.71,568.37 L83.15,568.37 L83.6,568.37 L84.04,568.37 L84.49,568.36 L84.94,568.36 L85.38,568.36 L85.83,568.36 L86.27,568.36 L86.72,568.36 L87.17,568.36 L87.61,568.35 L88.06,568.35 L88.51,568.35 L88.95,568.35 L89.4,568.35 L89.84,568.35 L90.29,568.35 L90.74,568.34 L91.18,568.34 L91.63,568.34 L92.07,568.34 L92.52,568.34 L92.97,568.34 L93.41,568.33 L93.86,568.33 L94.31,568.33 L94.75,568.33 L95.2,568.33 L95.64,568.33 L96.09,568.32 L96.54,568.32 L96.98,568.32 L97.43,568.32 L97.87,568.32 L98.32,568.31 L98.77,568.31 L99.21,568.31 L99.66,568.31 L100.1,568.31 L100.55,568.3 L101,568.3 L101.44,568.3 L101.89,568.3 L102.34,568.29 L102.78,568.29 L103.23,568.29 L103.67,568.29 L104.12,568.29 L104.57,568.28 L105.01,568.28 L105.46,568.28 L105.9,568.28 L106.35,568.27 L106.8,568.27 L107.24,568.27 L107.69,568.27 L108.13,568.26 L108.58,568.26 L109.03,568.26 L109.47,568.26 L109.92,568.25 L110.37,568.25 L110.81,568.25 L111.26,568.24 L111.7,568.24 L112.15,568.24 L112.6,568.23 L113.04,568.23 L113.49,568.22 L113.93,568.21 L114.38,568.2 L114.83,568.19 L115.27,568.18 L115.72,568.17 L116.16,568.16 L116.61,568.14 L117.06,568.13 L117.5,568.11 L117.95,568.1 L118.4,568.08 L118.84,568.06 L119.29,568.05 L119.73,568.03 L120.18,568.01 L120.63,567.99 L121.07,567.97 L121.52,567.94 L121.96,567.92 L122.41,567.9 L122.86,567.87 L123.3,567.85 L123.75,567.82 L124.19,567.8 L124.64,567.77 L125.09,567.75 L125.53,567.72 L125.98,567.69 L126.43,567.66 L126.87,567.63 L127.32,567.6 L127.76,567.57 L128.21,567.54 L128.66,567.51 L129.1,567.48 L129.55,567.45 L129.99,567.41 L130.44,567.38 L130.89,567.35 L131.33,567.31 L131.78,567.28 L132.23,567.24 L132.67,567.21 L133.12,567.17 L133.56,567.14 L134.01,567.1 L134.46,567.07 L134.9,567.03 L135.35,566.99 L135.79,566.96 L136.24,566.92 L136.69,566.88 L137.13,566.84 L137.58,566.81 L138.02,566.77 L138.47,566.73 L138.92,566.68 L139.36,566.64 L139.81,566.6 L140.26,566.55 L140.7,566.5 L141.15,566.45 L141.59,566.4 L142.04,566.35 L142.49,566.29 L142.93,566.23 L143.38,566.17 L143.82,566.1 L144.27,566.03 L144.72,565.96 L145.16,565.88 L145.61,565.8 L146.05,565.71 L146.5,565.62 L146.95,565.53 L147.39,565.43 L147.84,565.33 L148.29,565.22 L148.73,565.1 L149.18,564.98 L149.62,564.86 L150.07,564.69 L150.52,564.48 L150.96,564.22 L151.41,563.93 L151.85,563.6 L152.3,563.24 L152.75,562.84 L153.19,562.43 L153.64,561.98 L154.08,561.52 L154.53,561.05 L154.98,560.55 L155.42,560.05 L155.87,559.54 L156.32,559.01 L156.76,558.44 L157.21,557.83 L157.65,557.19 L158.1,556.5 L158.55,555.76 L158.99,554.99 L159.44,554.17 L159.88,553.3 L160.33,552.39 L160.78,551.43 L161.22,550.42 L161.67,549.36 L162.12,548.25 L162.56,547.03 L163.01,545.62 L163.45,544.03 L163.9,542.29 L164.35,540.41 L164.79,538.41 L165.24,536.31 L165.68,534.13 L166.13,531.89 L166.58,529.61 L167.02,527.31 L167.47,525 L167.91,522.72 L168.36,520.47 L168.81,518.28 L169.25,516.16 L169.7,514.06 L170.15,511.96 L170.59,509.85 L171.04,507.73 L171.48,505.6 L171.93,503.44 L172.38,501.27 L172.82,499.06 L173.27,496.82 L173.71,494.55 L174.16,492.23 L174.61,489.86 L175.05,487.43 L175.5,484.77 L175.94,481.89 L176.39,478.91 L176.84,475.94 L177.28,473.1 L177.73,470.48 L178.18,468.2 L178.62,466.34 L179.07,464.62 L179.51,462.96 L179.96,461.41 L180.41,460.02 L180.85,458.85 L181.3,457.93 L181.74,457.33 L182.19,456.96 L182.64,456.62 L183.08,456.35 L183.53,456.16 L183.97,456.07 L184.42,456.28 L184.87,457.13 L185.31,458.4 L185.76,459.88 L186.21,461.34 L186.65,462.59 L187.1,463.74 L187.54,464.91 L187.99,466.24 L188.44,467.84 L188.88,469.85 L189.33,473.01 L189.77,477.87 L190.22,483.8 L190.67,490.15 L191.11,496.28 L191.56,502.13 L192,508.47 L192.45,514.87 L192.9,520.9 L193.34,526.09 L193.79,530.27 L194.24,534.16 L194.68,537.81 L195.13,541.18 L195.57,544.22 L196.02,546.89 L196.47,549.16 L196.91,550.99 L197.36,552.62 L197.8,554.17 L198.25,555.61 L198.7,556.95 L199.14,558.17 L199.59,559.26 L200.04,560.21 L200.48,561.02 L200.93,561.67 L201.37,562.15 L201.82,562.52 L202.27,562.87 L202.71,563.2 L203.16,563.51 L203.6,563.8 L204.05,564.06 L204.5,564.3 L204.94,564.53 L205.39,564.73 L205.83,564.92 L206.28,565.08 L206.73,565.23 L207.17,565.36 L207.62,565.48 L208.07,565.58 L208.51,565.66 L208.96,565.73 L209.4,565.8 L209.85,565.86 L210.3,565.92 L210.74,565.98 L211.19,566.04 L211.63,566.09 L212.08,566.14 L212.53,566.19 L212.97,566.23 L213.42,566.27 L213.86,566.31 L214.31,566.35 L214.76,566.39 L215.2,566.42 L215.65,566.45 L216.1,566.48 L216.54,566.51 L216.99,566.54 L217.43,566.57 L217.88,566.6 L218.33,566.63 L218.77,566.65 L219.22,566.68 L219.66,566.71 L220.11,566.73 L220.56,566.76 L221,566.78 L221.45,566.81 L221.89,566.84 L222.34,566.86 L222.79,566.89 L223.23,566.91 L223.68,566.94 L224.13,566.96 L224.57,566.98 L225.02,567.01 L225.46,567.03 L225.91,567.05 L226.36,567.08 L226.8,567.1 L227.25,567.12 L227.69,567.14 L228.14,567.16 L228.59,567.18 L229.03,567.2 L229.48,567.22 L229.93,567.24 L230.37,567.26 L230.82,567.28 L231.26,567.3 L231.71,567.31 L232.16,567.33 L232.6,567.35 L233.05,567.36 L233.49,567.38 L233.94,567.39 L234.39,567.4 L234.83,567.41 L235.28,567.43 L235.72,567.44 L236.17,567.45 L236.62,567.45 L237.06,567.46 L237.51,567.47 L237.96,567.48 L238.4,567.48 L238.85,567.49 L239.29,567.49 L239.74,567.5 L240.19,567.5 L240.63,567.51 L241.08,567.51 L241.52,567.52 L241.97,567.52 L242.42,567.53 L242.86,567.53 L243.31,567.53 L243.75,567.54 L244.2,567.54 L244.65,567.55 L245.09,567.55 L245.54,567.56 L245.99,567.56 L246.43,567.57 L246.88,567.57 L247.32,567.57 L247.77,567.58 L248.22,567.58 L248.66,567.59 L249.11,567.59 L249.55,567.6 L250,567.6 L250.45,567.6 L250.89,567.61 L251.34,567.61 L251.78,567.62 L252.23,567.62 L252.68,567.62 L253.12,567.63 L253.57,567.63 L254.02,567.64 L254.46,567.64 L254.91,567.64 L255.35,567.65 L255.8,567.65 L256.25,567.66 L256.69,567.66 L257.14,567.66 L257.58,567.67 L258.03,567.67 L258.48,567.67 L258.92,567.68 L259.37,567.68 L259.81,567.68 L260.26,567.69 L260.71,567.69 L261.15,567.7 L261.6,567.7 L262.05,567.7 L262.49,567.71 L262.94,567.71 L263.38,567.71 L263.83,567.72 L264.28,567.72 L264.72,567.72 L265.17,567.73 L265.61,567.73 L266.06,567.73 L266.51,567.73 L266.95,567.74 L267.4,567.74 L267.85,567.74 L268.29,567.75 L268.74,567.75 L269.18,567.75 L269.63,567.76 L270.08,567.76 L270.52,567.76 L270.97,567.76 L271.41,567.77 L271.86,567.77 L272.31,567.77 L272.75,567.78 L273.2,567.78 L273.64,567.78 L274.09,567.78 L274.54,567.79 L274.98,567.79 L275.43,567.79 L275.88,567.8 L276.32,567.8 L276.77,567.8 L277.21,567.8 L277.66,567.81 L278.11,567.81 L278.55,567.81 L279,567.81 L279.44,567.82 L279.89,567.82 L280.34,567.82 L280.78,567.82 L281.23,567.82 L281.67,567.83 L282.12,567.83 L282.57,567.83 L283.01,567.83 L283.46,567.84 L283.91,567.84 L284.35,567.84 L284.8,567.84 L285.24,567.84 L285.69,567.85 L286.14,567.85 L286.58,567.85 L287.03,567.85 L287.47,567.85 L287.92,567.86 L288.37,567.86 L288.81,567.86 L289.26,567.86 L289.7,567.86 L290.15,567.87 L290.6,567.87 L291.04,567.87 L291.49,567.87 L291.94,567.87 L292.38,567.87 L292.83,567.88 L293.27,567.88 L293.72,567.88 L294.17,567.88 L294.61,567.88 L295.06,567.88 L295.5,567.89 L295.95,567.89 L296.4,567.89 L296.84,567.89 L297.29,567.89 L297.74,567.89 L298.18,567.89 L298.63,567.9 L299.07,567.9 L299.52,567.9 L299.97,567.9 L300.41,567.9 L300.86,567.9 L301.3,567.9 L301.75,567.91 L302.2,567.91 L302.64,567.91 L303.09,567.91 L303.53,567.91 L303.98,567.91 L304.43,567.91 L304.87,567.91 L305.32,567.91 L305.77,567.92 L306.21,567.92 L306.66,567.92 L307.1,567.92 L307.55,567.92 L308,567.92 L308.44,567.92 L308.89,567.92 L309.33,567.92 L309.78,567.92 L310.23,567.92 L310.67,567.93 L311.12,567.93 L311.56,567.93 L312.01,567.93 L312.46,567.93 L312.9,567.93 L313.35,567.93 L313.8,567.93 L314.24,567.93 L314.69,567.93 L315.13,567.93 L315.58,567.93 L316.03,567.93 L316.47,567.93 L316.92,567.93 L317.36,567.93 L317.81,567.94 L318.26,567.94 L318.7,567.94 L319.15,567.94 L319.59,567.94 L320.04,567.94 L320.49,567.94 L320.93,567.94 L321.38,567.94 L321.83,567.94 L322.27,567.94 L322.72,567.94 L323.16,567.94 L323.61,567.94 L324.06,567.94 L324.5,567.94 L324.95,567.94 L325.39,567.94 L325.84,567.94 L326.29,567.94 L326.73,567.94 L327.18,567.94 L327.62,567.94" stroke="#7a72c0" stroke-width="1.6" fill="none" stroke-linejoin="round"/>
<path d="M60.4,567.64 L60.85,567.59 L61.29,567.54 L61.74,567.49 L62.18,567.44 L62.63,567.38 L63.08,567.31 L63.52,567.24 L63.97,567.17 L64.42,567.1 L64.86,567.02 L65.31,566.93 L65.75,566.85 L66.2,566.76 L66.65,566.67 L67.09,566.58 L67.54,566.48 L67.98,566.38 L68.43,566.27 L68.88,566.17 L69.32,566.06 L69.77,565.94 L70.21,565.83 L70.66,565.71 L71.11,565.59 L71.55,565.47 L72,565.34 L72.45,565.21 L72.89,565.08 L73.34,564.94 L73.78,564.8 L74.23,564.66 L74.68,564.52 L75.12,564.37 L75.57,564.22 L76.01,564.06 L76.46,563.9 L76.91,563.73 L77.35,563.56 L77.8,563.38 L78.24,563.19 L78.69,563 L79.14,562.8 L79.58,562.59 L80.03,562.38 L80.48,562.16 L80.92,561.94 L81.37,561.71 L81.81,561.47 L82.26,561.23 L82.71,560.98 L83.15,560.72 L83.6,560.46 L84.04,560.19 L84.49,559.92 L84.94,559.64 L85.38,559.35 L85.83,559.05 L86.27,558.75 L86.72,558.44 L87.17,558.12 L87.61,557.78 L88.06,557.43 L88.51,557.07 L88.95,556.69 L89.4,556.3 L89.84,555.89 L90.29,555.47 L90.74,555.04 L91.18,554.59 L91.63,554.13 L92.07,553.65 L92.52,553.16 L92.97,552.65 L93.41,552.14 L93.86,551.6 L94.31,551.06 L94.75,550.5 L95.2,549.92 L95.64,549.34 L96.09,548.74 L96.54,548.12 L96.98,547.49 L97.43,546.85 L97.87,546.2 L98.32,545.53 L98.77,544.84 L99.21,544.12 L99.66,543.34 L100.1,542.53 L100.55,541.67 L101,540.77 L101.44,539.83 L101.89,538.86 L102.34,537.86 L102.78,536.83 L103.23,535.77 L103.67,534.68 L104.12,533.57 L104.57,532.43 L105.01,531.28 L105.46,530.1 L105.9,528.92 L106.35,527.72 L106.8,526.5 L107.24,525.28 L107.69,524.05 L108.13,522.76 L108.58,521.42 L109.03,520.03 L109.47,518.59 L109.92,517.12 L110.37,515.62 L110.81,514.09 L111.26,512.53 L111.7,510.96 L112.15,509.38 L112.6,507.79 L113.04,506.21 L113.49,504.62 L113.93,503.03 L114.38,501.42 L114.83,499.8 L115.27,498.15 L115.72,496.5 L116.16,494.82 L116.61,493.12 L117.06,491.41 L117.5,489.68 L117.95,487.93 L118.4,486.17 L118.84,484.38 L119.29,482.57 L119.73,480.72 L120.18,478.83 L120.63,476.9 L121.07,474.94 L121.52,472.95 L121.96,470.95 L122.41,468.94 L122.86,466.93 L123.3,464.93 L123.75,462.94 L124.19,460.96 L124.64,459.02 L125.09,457.11 L125.53,455.23 L125.98,453.38 L126.43,451.53 L126.87,449.7 L127.32,447.89 L127.76,446.08 L128.21,444.28 L128.66,442.5 L129.1,440.72 L129.55,438.95 L129.99,437.19 L130.44,435.44 L130.89,433.69 L131.33,431.94 L131.78,430.11 L132.23,428.22 L132.67,426.31 L133.12,424.41 L133.56,422.57 L134.01,420.82 L134.46,419.21 L134.9,417.78 L135.35,416.55 L135.79,415.51 L136.24,414.46 L136.69,413.43 L137.13,412.46 L137.58,411.59 L138.02,410.86 L138.47,410.3 L138.92,409.96 L139.36,409.86 L139.81,409.95 L140.26,410.16 L140.7,410.48 L141.15,410.89 L141.59,411.38 L142.04,411.92 L142.49,412.5 L142.93,413.11 L143.38,413.75 L143.82,414.55 L144.27,415.51 L144.72,416.62 L145.16,417.87 L145.61,419.28 L146.05,420.81 L146.5,422.49 L146.95,424.58 L147.39,427.14 L147.84,430.08 L148.29,433.28 L148.73,436.64 L149.18,440.1 L149.62,443.84 L150.07,447.89 L150.52,452.2 L150.96,456.72 L151.41,461.42 L151.85,466.25 L152.3,471.27 L152.75,476.71 L153.19,482.46 L153.64,488.36 L154.08,494.28 L154.53,500.05 L154.98,505.57 L155.42,511.04 L155.87,516.49 L156.32,521.88 L156.76,527.14 L157.21,532.23 L157.65,537.08 L158.1,541.77 L158.55,546.85 L158.99,552.02 L159.44,556.86 L159.88,560.92 L160.33,563.79 L160.78,565.07 L161.22,565.74 L161.67,566.33 L162.12,566.82 L162.56,567.2 L163.01,567.47 L163.45,567.61 L163.9,567.64 L164.35,567.64 L164.79,567.64 L165.24,567.64 L165.68,567.64 L166.13,567.64 L166.58,567.64 L167.02,567.64 L167.47,567.64 L167.91,567.64 L168.36,567.64 L168.81,567.64 L169.25,567.64 L169.7,567.64 L170.15,567.64 L170.59,567.64 L171.04,567.64 L171.48,567.64 L171.93,567.64 L172.38,567.64 L172.82,567.64 L173.27,567.64 L173.71,567.64 L174.16,567.64 L174.61,567.64 L175.05,567.64 L175.5,567.64 L175.94,567.64 L176.39,567.64 L176.84,567.64 L177.28,567.64 L177.73,567.64 L178.18,567.64 L178.62,567.64 L179.07,567.64 L179.51,567.64 L179.96,567.64 L180.41,567.64 L180.85,567.64 L181.3,567.64 L181.74,567.64 L182.19,567.64 L182.64,567.64 L183.08,567.64 L183.53,567.64 L183.97,567.64 L184.42,567.64 L184.87,567.64 L185.31,567.64 L185.76,567.64 L186.21,567.64 L186.65,567.64 L187.1,567.64 L187.54,567.64 L187.99,567.64 L188.44,567.63 L188.88,567.63 L189.33,567.63 L189.77,567.63 L190.22,567.62 L190.67,567.62 L191.11,567.61 L191.56,567.61 L192,567.6 L192.45,567.59 L192.9,567.59 L193.34,567.58 L193.79,567.57 L194.24,567.56 L194.68,567.55 L195.13,567.54 L195.57,567.53 L196.02,567.52 L196.47,567.51 L196.91,567.5 L197.36,567.49 L197.8,567.48 L198.25,567.46 L198.7,567.45 L199.14,567.44 L199.59,567.43 L200.04,567.42 L200.48,567.41 L200.93,567.39 L201.37,567.38 L201.82,567.37 L202.27,567.36 L202.71,567.35 L203.16,567.33 L203.6,567.32 L204.05,567.31 L204.5,567.3 L204.94,567.29 L205.39,567.28 L205.83,567.27 L206.28,567.26 L206.73,567.25 L207.17,567.24 L207.62,567.23 L208.07,567.23 L208.51,567.22 L208.96,567.21 L209.4,567.21 L209.85,567.2 L210.3,567.2 L210.74,567.19 L211.19,567.19 L211.63,567.18 L212.08,567.18 L212.53,567.18 L212.97,567.18 L213.42,567.18 L213.86,567.18 L214.31,567.18 L214.76,567.18 L215.2,567.18 L215.65,567.19 L216.1,567.19 L216.54,567.19 L216.99,567.19 L217.43,567.19 L217.88,567.2 L218.33,567.2 L218.77,567.2 L219.22,567.21 L219.66,567.21 L220.11,567.22 L220.56,567.22 L221,567.23 L221.45,567.23 L221.89,567.24 L222.34,567.24 L222.79,567.25 L223.23,567.25 L223.68,567.26 L224.13,567.26 L224.57,567.27 L225.02,567.28 L225.46,567.28 L225.91,567.29 L226.36,567.29 L226.8,567.3 L227.25,567.31 L227.69,567.31 L228.14,567.32 L228.59,567.33 L229.03,567.33 L229.48,567.34 L229.93,567.35 L230.37,567.36 L230.82,567.36 L231.26,567.37 L231.71,567.38 L232.16,567.38 L232.6,567.39 L233.05,567.4 L233.49,567.41 L233.94,567.41 L234.39,567.42 L234.83,567.43 L235.28,567.43 L235.72,567.44 L236.17,567.45 L236.62,567.46 L237.06,567.46 L237.51,567.47 L237.96,567.48 L238.4,567.48 L238.85,567.49 L239.29,567.5 L239.74,567.5 L240.19,567.51 L240.63,567.52 L241.08,567.53 L241.52,567.53 L241.97,567.54 L242.42,567.55 L242.86,567.56 L243.31,567.57 L243.75,567.58 L244.2,567.59 L244.65,567.6 L245.09,567.61 L245.54,567.62 L245.99,567.63 L246.43,567.64 L246.88,567.65 L247.32,567.66 L247.77,567.67 L248.22,567.68 L248.66,567.7 L249.11,567.71 L249.55,567.72 L250,567.73 L250.45,567.74 L250.89,567.75 L251.34,567.76 L251.78,567.77 L252.23,567.78 L252.68,567.79 L253.12,567.8 L253.57,567.81 L254.02,567.82 L254.46,567.83 L254.91,567.84 L255.35,567.85 L255.8,567.85 L256.25,567.86 L256.69,567.87 L257.14,567.88 L257.58,567.89 L258.03,567.89 L258.48,567.9 L258.92,567.9 L259.37,567.91 L259.81,567.92 L260.26,567.92 L260.71,567.92 L261.15,567.93 L261.6,567.93 L262.05,567.93 L262.49,567.94 L262.94,567.94 L263.38,567.94 L263.83,567.94 L264.28,567.94 L264.72,567.94 L265.17,567.94 L265.61,567.94 L266.06,567.94 L266.51,567.94 L266.95,567.93 L267.4,567.93 L267.85,567.93 L268.29,567.93 L268.74,567.92 L269.18,567.92 L269.63,567.92 L270.08,567.91 L270.52,567.91 L270.97,567.91 L271.41,567.9 L271.86,567.9 L272.31,567.89 L272.75,567.89 L273.2,567.88 L273.64,567.88 L274.09,567.87 L274.54,567.87 L274.98,567.86 L275.43,567.86 L275.88,567.85 L276.32,567.84 L276.77,567.84 L277.21,567.83 L277.66,567.82 L278.11,567.82 L278.55,567.81 L279,567.8 L279.44,567.8 L279.89,567.79 L280.34,567.78 L280.78,567.78 L281.23,567.77 L281.67,567.76 L282.12,567.76 L282.57,567.75 L283.01,567.74 L283.46,567.73 L283.91,567.73 L284.35,567.72 L284.8,567.71 L285.24,567.7 L285.69,567.7 L286.14,567.69 L286.58,567.68 L287.03,567.67 L287.47,567.67 L287.92,567.66 L288.37,567.65 L288.81,567.65 L289.26,567.64 L289.7,567.63 L290.15,567.62 L290.6,567.62 L291.04,567.61 L291.49,567.6 L291.94,567.59 L292.38,567.58 L292.83,567.57 L293.27,567.55 L293.72,567.54 L294.17,567.53 L294.61,567.52 L295.06,567.5 L295.5,567.49 L295.95,567.48 L296.4,567.47 L296.84,567.45 L297.29,567.44 L297.74,567.43 L298.18,567.41 L298.63,567.4 L299.07,567.38 L299.52,567.37 L299.97,567.36 L300.41,567.34 L300.86,567.33 L301.3,567.32 L301.75,567.31 L302.2,567.3 L302.64,567.28 L303.09,567.27 L303.53,567.26 L303.98,567.25 L304.43,567.24 L304.87,567.23 L305.32,567.22 L305.77,567.22 L306.21,567.21 L306.66,567.2 L307.1,567.2 L307.55,567.19 L308,567.19 L308.44,567.18 L308.89,567.18 L309.33,567.18 L309.78,567.18 L310.23,567.18 L310.67,567.18 L311.12,567.18 L311.56,567.19 L312.01,567.19 L312.46,567.2 L312.9,567.2 L313.35,567.21 L313.8,567.22 L314.24,567.22 L314.69,567.23 L315.13,567.24 L315.58,567.25 L316.03,567.26 L316.47,567.28 L316.92,567.29 L317.36,567.3 L317.81,567.32 L318.26,567.33 L318.7,567.35 L319.15,567.37 L319.59,567.38 L320.04,567.4 L320.49,567.42 L320.93,567.44 L321.38,567.46 L321.83,567.48 L322.27,567.5 L322.72,567.52 L323.16,567.54 L323.61,567.56 L324.06,567.59 L324.5,567.61 L324.95,567.63 L325.39,567.66 L325.84,567.68 L326.29,567.71 L326.73,567.73 L327.18,567.76 L327.62,567.79" stroke="#1b9a72" stroke-width="1.6" fill="none" stroke-linejoin="round"/>
<path d="M60.4,552.44 L60.85,552.09 L61.29,551.76 L61.74,551.48 L62.18,551.2 L62.63,550.93 L63.08,550.67 L63.52,550.41 L63.97,550.16 L64.42,549.92 L64.86,549.69 L65.31,549.46 L65.75,549.24 L66.2,549.03 L66.65,548.83 L67.09,548.65 L67.54,548.47 L67.98,548.3 L68.43,548.15 L68.88,548 L69.32,547.87 L69.77,547.75 L70.21,547.63 L70.66,547.52 L71.11,547.41 L71.55,547.31 L72,547.21 L72.45,547.12 L72.89,547.03 L73.34,546.94 L73.78,546.86 L74.23,546.77 L74.68,546.69 L75.12,546.6 L75.57,546.51 L76.01,546.42 L76.46,546.33 L76.91,546.23 L77.35,546.13 L77.8,546.03 L78.24,545.93 L78.69,545.83 L79.14,545.73 L79.58,545.64 L80.03,545.54 L80.48,545.45 L80.92,545.35 L81.37,545.26 L81.81,545.16 L82.26,545.06 L82.71,544.96 L83.15,544.85 L83.6,544.74 L84.04,544.62 L84.49,544.49 L84.94,544.36 L85.38,544.21 L85.83,544.06 L86.27,543.9 L86.72,543.73 L87.17,543.53 L87.61,543.31 L88.06,543.07 L88.51,542.8 L88.95,542.51 L89.4,542.19 L89.84,541.86 L90.29,541.51 L90.74,541.14 L91.18,540.75 L91.63,540.34 L92.07,539.93 L92.52,539.49 L92.97,539.05 L93.41,538.59 L93.86,538.13 L94.31,537.65 L94.75,537.17 L95.2,536.68 L95.64,536.19 L96.09,535.66 L96.54,535.09 L96.98,534.48 L97.43,533.84 L97.87,533.16 L98.32,532.46 L98.77,531.73 L99.21,530.98 L99.66,530.21 L100.1,529.42 L100.55,528.63 L101,527.82 L101.44,527 L101.89,526.18 L102.34,525.36 L102.78,524.54 L103.23,523.72 L103.67,522.92 L104.12,522.12 L104.57,521.34 L105.01,520.53 L105.46,519.7 L105.9,518.84 L106.35,517.97 L106.8,517.08 L107.24,516.19 L107.69,515.3 L108.13,514.41 L108.58,513.54 L109.03,512.68 L109.47,511.84 L109.92,511.03 L110.37,510.26 L110.81,509.52 L111.26,508.83 L111.7,508.19 L112.15,507.59 L112.6,506.97 L113.04,506.34 L113.49,505.71 L113.93,505.07 L114.38,504.44 L114.83,503.81 L115.27,503.2 L115.72,502.61 L116.16,502.05 L116.61,501.51 L117.06,501 L117.5,500.54 L117.95,500.11 L118.4,499.74 L118.84,499.42 L119.29,499.16 L119.73,498.96 L120.18,498.84 L120.63,498.78 L121.07,498.79 L121.52,498.81 L121.96,498.86 L122.41,498.92 L122.86,499 L123.3,499.08 L123.75,499.17 L124.19,499.27 L124.64,499.36 L125.09,499.46 L125.53,499.55 L125.98,499.63 L126.43,499.71 L126.87,499.77 L127.32,499.81 L127.76,499.84 L128.21,499.84 L128.66,499.75 L129.1,499.56 L129.55,499.27 L129.99,498.9 L130.44,498.44 L130.89,497.92 L131.33,497.34 L131.78,496.71 L132.23,496.04 L132.67,495.34 L133.12,494.62 L133.56,493.89 L134.01,493.16 L134.46,492.43 L134.9,491.72 L135.35,491.04 L135.79,490.4 L136.24,489.8 L136.69,489.25 L137.13,488.77 L137.58,488.28 L138.02,487.78 L138.47,487.26 L138.92,486.73 L139.36,486.2 L139.81,485.66 L140.26,485.12 L140.7,484.58 L141.15,484.05 L141.59,483.53 L142.04,483.03 L142.49,482.54 L142.93,482.08 L143.38,481.64 L143.82,481.23 L144.27,480.86 L144.72,480.52 L145.16,480.22 L145.61,479.97 L146.05,479.76 L146.5,479.61 L146.95,479.51 L147.39,479.48 L147.84,479.49 L148.29,479.52 L148.73,479.57 L149.18,479.64 L149.62,479.72 L150.07,479.82 L150.52,479.93 L150.96,480.04 L151.41,480.15 L151.85,480.27 L152.3,480.38 L152.75,480.49 L153.19,480.59 L153.64,480.68 L154.08,480.75 L154.53,480.81 L154.98,480.86 L155.42,480.89 L155.87,480.92 L156.32,480.94 L156.76,480.97 L157.21,480.99 L157.65,481.01 L158.1,481.03 L158.55,481.05 L158.99,481.08 L159.44,481.11 L159.88,481.15 L160.33,481.19 L160.78,481.24 L161.22,481.3 L161.67,481.37 L162.12,481.45 L162.56,481.53 L163.01,481.63 L163.45,481.73 L163.9,481.83 L164.35,481.94 L164.79,482.06 L165.24,482.19 L165.68,482.32 L166.13,482.46 L166.58,482.6 L167.02,482.76 L167.47,482.98 L167.91,483.25 L168.36,483.58 L168.81,483.94 L169.25,484.34 L169.7,484.76 L170.15,485.2 L170.59,485.64 L171.04,486.07 L171.48,486.5 L171.93,486.91 L172.38,487.28 L172.82,487.62 L173.27,487.91 L173.71,488.15 L174.16,488.32 L174.61,488.42 L175.05,488.44 L175.5,488.37 L175.94,488.21 L176.39,487.99 L176.84,487.69 L177.28,487.34 L177.73,486.94 L178.18,486.51 L178.62,486.04 L179.07,485.56 L179.51,485.06 L179.96,484.56 L180.41,484.07 L180.85,483.59 L181.3,483.13 L181.74,482.71 L182.19,482.3 L182.64,481.83 L183.08,481.33 L183.53,480.79 L183.97,480.24 L184.42,479.69 L184.87,479.13 L185.31,478.59 L185.76,478.07 L186.21,477.59 L186.65,477.15 L187.1,476.76 L187.54,476.44 L187.99,476.2 L188.44,476.04 L188.88,475.98 L189.33,476.01 L189.77,476.09 L190.22,476.23 L190.67,476.42 L191.11,476.65 L191.56,476.92 L192,477.21 L192.45,477.54 L192.9,477.87 L193.34,478.23 L193.79,478.59 L194.24,478.94 L194.68,479.3 L195.13,479.71 L195.57,480.17 L196.02,480.68 L196.47,481.23 L196.91,481.82 L197.36,482.44 L197.8,483.09 L198.25,483.76 L198.7,484.43 L199.14,485.12 L199.59,485.8 L200.04,486.48 L200.48,487.15 L200.93,487.79 L201.37,488.42 L201.82,489.04 L202.27,489.67 L202.71,490.32 L203.16,490.98 L203.6,491.64 L204.05,492.31 L204.5,492.96 L204.94,493.6 L205.39,494.22 L205.83,494.82 L206.28,495.39 L206.73,495.92 L207.17,496.42 L207.62,496.88 L208.07,497.3 L208.51,497.69 L208.96,498.06 L209.4,498.41 L209.85,498.74 L210.3,499.07 L210.74,499.39 L211.19,499.71 L211.63,500.04 L212.08,500.39 L212.53,500.75 L212.97,501.14 L213.42,501.55 L213.86,502 L214.31,502.49 L214.76,503.03 L215.2,503.61 L215.65,504.22 L216.1,504.88 L216.54,505.56 L216.99,506.27 L217.43,507 L217.88,507.75 L218.33,508.52 L218.77,509.29 L219.22,510.07 L219.66,510.86 L220.11,511.64 L220.56,512.48 L221,513.37 L221.45,514.31 L221.89,515.28 L222.34,516.27 L222.79,517.28 L223.23,518.3 L223.68,519.3 L224.13,520.28 L224.57,521.24 L225.02,522.15 L225.46,523.01 L225.91,523.81 L226.36,524.53 L226.8,525.17 L227.25,525.73 L227.69,526.24 L228.14,526.7 L228.59,527.12 L229.03,527.51 L229.48,527.89 L229.93,528.26 L230.37,528.64 L230.82,529.02 L231.26,529.43 L231.71,529.87 L232.16,530.35 L232.6,530.88 L233.05,531.48 L233.49,532.16 L233.94,532.91 L234.39,533.71 L234.83,534.55 L235.28,535.43 L235.72,536.32 L236.17,537.23 L236.62,538.14 L237.06,539.03 L237.51,539.9 L237.96,540.74 L238.4,541.52 L238.85,542.32 L239.29,543.13 L239.74,543.96 L240.19,544.79 L240.63,545.63 L241.08,546.46 L241.52,547.28 L241.97,548.08 L242.42,548.86 L242.86,549.6 L243.31,550.3 L243.75,550.96 L244.2,551.56 L244.65,552.11 L245.09,552.59 L245.54,552.99 L245.99,553.38 L246.43,553.76 L246.88,554.13 L247.32,554.49 L247.77,554.83 L248.22,555.16 L248.66,555.47 L249.11,555.76 L249.55,556.02 L250,556.26 L250.45,556.47 L250.89,556.65 L251.34,556.8 L251.78,556.91 L252.23,556.99 L252.68,557.04 L253.12,557.08 L253.57,557.13 L254.02,557.17 L254.46,557.21 L254.91,557.24 L255.35,557.28 L255.8,557.31 L256.25,557.34 L256.69,557.36 L257.14,557.39 L257.58,557.4 L258.03,557.42 L258.48,557.43 L258.92,557.44 L259.37,557.45 L259.81,557.45 L260.26,557.45 L260.71,557.43 L261.15,557.41 L261.6,557.37 L262.05,557.33 L262.49,557.27 L262.94,557.21 L263.38,557.14 L263.83,557.06 L264.28,556.97 L264.72,556.87 L265.17,556.76 L265.61,556.65 L266.06,556.53 L266.51,556.41 L266.95,556.28 L267.4,556.14 L267.85,556 L268.29,555.86 L268.74,555.71 L269.18,555.55 L269.63,555.4 L270.08,555.24 L270.52,555.08 L270.97,554.91 L271.41,554.74 L271.86,554.57 L272.31,554.4 L272.75,554.23 L273.2,554.06 L273.64,553.89 L274.09,553.72 L274.54,553.55 L274.98,553.38 L275.43,553.21 L275.88,553.05 L276.32,552.89 L276.77,552.72 L277.21,552.56 L277.66,552.39 L278.11,552.21 L278.55,552.02 L279,551.83 L279.44,551.63 L279.89,551.43 L280.34,551.22 L280.78,551.01 L281.23,550.79 L281.67,550.56 L282.12,550.34 L282.57,550.1 L283.01,549.87 L283.46,549.63 L283.91,549.39 L284.35,549.15 L284.8,548.91 L285.24,548.66 L285.69,548.41 L286.14,548.17 L286.58,547.92 L287.03,547.67 L287.47,547.42 L287.92,547.18 L288.37,546.93 L288.81,546.69 L289.26,546.45 L289.7,546.21 L290.15,545.97 L290.6,545.73 L291.04,545.5 L291.49,545.27 L291.94,545.05 L292.38,544.83 L292.83,544.61 L293.27,544.4 L293.72,544.2 L294.17,544 L294.61,543.8 L295.06,543.62 L295.5,543.43 L295.95,543.24 L296.4,543.06 L296.84,542.87 L297.29,542.68 L297.74,542.49 L298.18,542.31 L298.63,542.12 L299.07,541.94 L299.52,541.76 L299.97,541.59 L300.41,541.41 L300.86,541.25 L301.3,541.09 L301.75,540.94 L302.2,540.79 L302.64,540.65 L303.09,540.52 L303.53,540.4 L303.98,540.29 L304.43,540.19 L304.87,540.09 L305.32,540 L305.77,539.91 L306.21,539.82 L306.66,539.73 L307.1,539.65 L307.55,539.56 L308,539.48 L308.44,539.4 L308.89,539.32 L309.33,539.25 L309.78,539.19 L310.23,539.13 L310.67,539.07 L311.12,539.03 L311.56,538.99 L312.01,538.95 L312.46,538.93 L312.9,538.91 L313.35,538.91 L313.8,538.91 L314.24,538.92 L314.69,538.94 L315.13,538.97 L315.58,539 L316.03,539.04 L316.47,539.09 L316.92,539.14 L317.36,539.2 L317.81,539.26 L318.26,539.32 L318.7,539.39 L319.15,539.46 L319.59,539.53 L320.04,539.61 L320.49,539.69 L320.93,539.76 L321.38,539.84 L321.83,539.93 L322.27,540.03 L322.72,540.14 L323.16,540.27 L323.61,540.4 L324.06,540.55 L324.5,540.7 L324.95,540.86 L325.39,541.03 L325.84,541.2 L326.29,541.38 L326.73,541.57 L327.18,541.76 L327.62,541.95" stroke="#f07a55" stroke-width="1.6" fill="none" stroke-linejoin="round"/>
</g>
<rect x="60.4" y="402.5" width="267.6" height="173.3" fill="none" stroke="#3a3a3a" stroke-width="1"/>
<line x1="60.4" y1="568.7" x2="62.9" y2="568.7" stroke="#3a3a3a" stroke-width="0.9"/>
<text x="57.2" y="572.7" font-size="11" text-anchor="end" fill="#1a1a1a" font-weight="normal" font-style="normal" >0.00</text>
<line x1="60.4" y1="538.3" x2="62.9" y2="538.3" stroke="#3a3a3a" stroke-width="0.9"/>
<text x="57.2" y="542.3" font-size="11" text-anchor="end" fill="#1a1a1a" font-weight="normal" font-style="normal" >0.02</text>
<line x1="60.4" y1="507.9" x2="62.9" y2="507.9" stroke="#3a3a3a" stroke-width="0.9"/>
<text x="57.2" y="511.9" font-size="11" text-anchor="end" fill="#1a1a1a" font-weight="normal" font-style="normal" >0.04</text>
<line x1="60.4" y1="477.5" x2="62.9" y2="477.5" stroke="#3a3a3a" stroke-width="0.9"/>
<text x="57.2" y="481.5" font-size="11" text-anchor="end" fill="#1a1a1a" font-weight="normal" font-style="normal" >0.06</text>
<line x1="60.4" y1="447.1" x2="62.9" y2="447.1" stroke="#3a3a3a" stroke-width="0.9"/>
<text x="57.2" y="451.1" font-size="11" text-anchor="end" fill="#1a1a1a" font-weight="normal" font-style="normal" >0.08</text>
<line x1="60.4" y1="416.7" x2="62.9" y2="416.7" stroke="#3a3a3a" stroke-width="0.9"/>
<text x="57.2" y="420.7" font-size="11" text-anchor="end" fill="#1a1a1a" font-weight="normal" font-style="normal" >0.10</text>
<line x1="60.4" y1="575.8" x2="60.4" y2="572.8" stroke="#3a3a3a" stroke-width="0.9"/>
<line x1="73.12" y1="575.8" x2="73.12" y2="574" stroke="#3a3a3a" stroke-width="0.9"/>
<line x1="85.85" y1="575.8" x2="85.85" y2="574" stroke="#3a3a3a" stroke-width="0.9"/>
<line x1="98.57" y1="575.8" x2="98.57" y2="574" stroke="#3a3a3a" stroke-width="0.9"/>
<line x1="111.3" y1="575.8" x2="111.3" y2="572.8" stroke="#3a3a3a" stroke-width="0.9"/>
<line x1="124.03" y1="575.8" x2="124.03" y2="574" stroke="#3a3a3a" stroke-width="0.9"/>
<line x1="136.75" y1="575.8" x2="136.75" y2="574" stroke="#3a3a3a" stroke-width="0.9"/>
<line x1="149.47" y1="575.8" x2="149.47" y2="574" stroke="#3a3a3a" stroke-width="0.9"/>
<line x1="162.2" y1="575.8" x2="162.2" y2="572.8" stroke="#3a3a3a" stroke-width="0.9"/>
<line x1="174.92" y1="575.8" x2="174.92" y2="574" stroke="#3a3a3a" stroke-width="0.9"/>
<line x1="187.65" y1="575.8" x2="187.65" y2="574" stroke="#3a3a3a" stroke-width="0.9"/>
<line x1="200.38" y1="575.8" x2="200.38" y2="574" stroke="#3a3a3a" stroke-width="0.9"/>
<line x1="213.1" y1="575.8" x2="213.1" y2="572.8" stroke="#3a3a3a" stroke-width="0.9"/>
<line x1="225.82" y1="575.8" x2="225.82" y2="574" stroke="#3a3a3a" stroke-width="0.9"/>
<line x1="238.55" y1="575.8" x2="238.55" y2="574" stroke="#3a3a3a" stroke-width="0.9"/>
<line x1="251.28" y1="575.8" x2="251.28" y2="574" stroke="#3a3a3a" stroke-width="0.9"/>
<line x1="264" y1="575.8" x2="264" y2="572.8" stroke="#3a3a3a" stroke-width="0.9"/>
<line x1="276.72" y1="575.8" x2="276.72" y2="574" stroke="#3a3a3a" stroke-width="0.9"/>
<line x1="289.45" y1="575.8" x2="289.45" y2="574" stroke="#3a3a3a" stroke-width="0.9"/>
<line x1="302.18" y1="575.8" x2="302.18" y2="574" stroke="#3a3a3a" stroke-width="0.9"/>
<line x1="314.9" y1="575.8" x2="314.9" y2="572.8" stroke="#3a3a3a" stroke-width="0.9"/>
<line x1="327.62" y1="575.8" x2="327.62" y2="574" stroke="#3a3a3a" stroke-width="0.9"/>
<text x="60.4" y="587.5" font-size="11" text-anchor="middle" fill="#1a1a1a" font-weight="normal" font-style="normal" >4</text>
<text x="111.3" y="587.5" font-size="11" text-anchor="middle" fill="#1a1a1a" font-weight="normal" font-style="normal" >6</text>
<text x="162.2" y="587.5" font-size="11" text-anchor="middle" fill="#1a1a1a" font-weight="normal" font-style="normal" >8</text>
<text x="213.1" y="587.5" font-size="11" text-anchor="middle" fill="#1a1a1a" font-weight="normal" font-style="normal" >10</text>
<text x="264" y="587.5" font-size="11" text-anchor="middle" fill="#1a1a1a" font-weight="normal" font-style="normal" >12</text>
<text x="314.9" y="587.5" font-size="11" text-anchor="middle" fill="#1a1a1a" font-weight="normal" font-style="normal" >14</text>
<text x="194" y="602" font-size="11" text-anchor="middle" fill="#1a1a1a" font-weight="normal" font-style="normal" >Frequency (GHz)</text>
<text x="0" y="0" font-size="11" fill="#1a1a1a" text-anchor="middle" transform="translate(31,489.7) rotate(-90)">FFT Amplitude (a.u.)</text>
<line x1="250.4" y1="416.2" x2="274.6" y2="416.2" stroke="#1a56a8" stroke-width="1.6"/>
<text x="282.6" y="420.3" font-size="11" text-anchor="start" fill="#1a1a1a" font-weight="normal" font-style="normal" >5.0 mA</text>
<line x1="250.4" y1="432.35" x2="274.6" y2="432.35" stroke="#7a72c0" stroke-width="1.6"/>
<text x="282.6" y="436.45" font-size="11" text-anchor="start" fill="#1a1a1a" font-weight="normal" font-style="normal" >5.5 mA</text>
<line x1="250.4" y1="448.5" x2="274.6" y2="448.5" stroke="#1b9a72" stroke-width="1.6"/>
<text x="282.6" y="452.6" font-size="11" text-anchor="start" fill="#1a1a1a" font-weight="normal" font-style="normal" >6.0 mA</text>
<line x1="250.4" y1="464.65" x2="274.6" y2="464.65" stroke="#f07a55" stroke-width="1.6"/>
<text x="282.6" y="468.75" font-size="11" text-anchor="start" fill="#1a1a1a" font-weight="normal" font-style="normal" >6.5 mA</text>
<rect x="463.8" y="402.4" width="93.1" height="175" fill="#dcdcdc"/>
<rect x="405.6" y="550.47" width="12.6" height="12.6" fill="#7b73c4" fill-opacity="0.66"/>
<rect x="434.72" y="533.04" width="12.6" height="12.6" fill="#7b73c4" fill-opacity="0.66"/>
<rect x="463.84" y="504.07" width="12.6" height="12.6" fill="#7b73c4" fill-opacity="0.66"/>
<rect x="478.4" y="484.98" width="12.6" height="12.6" fill="#7b73c4" fill-opacity="0.66"/>
<rect x="492.96" y="447.24" width="12.6" height="12.6" fill="#7b73c4" fill-opacity="0.66"/>
<rect x="522.08" y="438.69" width="12.6" height="12.6" fill="#7b73c4" fill-opacity="0.66"/>
<rect x="551.2" y="447.68" width="12.6" height="12.6" fill="#7b73c4" fill-opacity="0.66"/>
<rect x="624" y="511.84" width="12.6" height="12.6" fill="#7b73c4" fill-opacity="0.66"/>
<path d="M411.9,556.77 L441.02,539.34 L470.14,510.37 L484.7,491.28 L499.26,453.54 L528.38,444.99 L557.5,453.98 L630.3,518.14" stroke="#7d75c4" stroke-width="1.5" fill="none"/>
<circle cx="411.9" cy="454.51" r="5.9" fill="#3a9c46" fill-opacity="0.62" stroke="#2e8b3a" stroke-opacity="0.8" stroke-width="1.1"/>
<circle cx="441.02" cy="455.76" r="5.9" fill="#3a9c46" fill-opacity="0.62" stroke="#2e8b3a" stroke-opacity="0.8" stroke-width="1.1"/>
<circle cx="470.14" cy="458.69" r="5.9" fill="#3a9c46" fill-opacity="0.62" stroke="#2e8b3a" stroke-opacity="0.8" stroke-width="1.1"/>
<circle cx="484.7" cy="462.03" r="5.9" fill="#3a9c46" fill-opacity="0.62" stroke="#2e8b3a" stroke-opacity="0.8" stroke-width="1.1"/>
<circle cx="499.26" cy="477.5" r="5.9" fill="#3a9c46" fill-opacity="0.62" stroke="#2e8b3a" stroke-opacity="0.8" stroke-width="1.1"/>
<circle cx="528.38" cy="492.13" r="5.9" fill="#3a9c46" fill-opacity="0.62" stroke="#2e8b3a" stroke-opacity="0.8" stroke-width="1.1"/>
<circle cx="557.5" cy="537.27" r="5.9" fill="#3a9c46" fill-opacity="0.62" stroke="#2e8b3a" stroke-opacity="0.8" stroke-width="1.1"/>
<circle cx="630.3" cy="450.33" r="5.9" fill="#3a9c46" fill-opacity="0.62" stroke="#2e8b3a" stroke-opacity="0.8" stroke-width="1.1"/>
<path d="M411.9,454.51 L441.02,455.76 L470.14,458.69 L484.7,462.03 L499.26,477.5 L528.38,492.13 L557.5,537.27 L630.3,450.33" stroke="#1f8a2a" stroke-width="1.7" fill="none"/>
<line x1="436.2" y1="464.2" x2="410" y2="478.7" stroke="#5cb866" stroke-width="2"/>
<polygon points="403.6,482.2 408,474.6 412.6,482.6" fill="#5cb866"/>
<line x1="606.6" y1="493.1" x2="628" y2="493.1" stroke="#aaa5da" stroke-width="2.4"/>
<polygon points="635.4,493.1 627,488.6 627,497.6" fill="#aaa5da"/>
<text x="412.2" y="419.2" font-size="11" text-anchor="start" fill="#1a1a1a" font-weight="normal" font-style="normal" >Linear</text>
<text x="477.9" y="419.2" font-size="11" text-anchor="start" fill="#1a1a1a" font-weight="normal" font-style="normal" >Nonlinear</text>
<text x="638.3" y="419.2" font-size="11" text-anchor="end" fill="#1a1a1a" font-weight="normal" font-style="normal" >Out-of-plane</text>
<line x1="401.2" y1="402.4" x2="644.9" y2="402.4" stroke="#3a3a3a" stroke-width="1"/>
<line x1="401.2" y1="577.4" x2="644.9" y2="577.4" stroke="#3a3a3a" stroke-width="1"/>
<line x1="401.2" y1="402.4" x2="401.2" y2="577.4" stroke="#3a3a3a" stroke-width="1"/>
<line x1="644.9" y1="402.4" x2="644.9" y2="577.4" stroke="#8a8a8a" stroke-width="1.3"/>
<line x1="401.2" y1="577.4" x2="403.7" y2="577.4" stroke="#3a3a3a" stroke-width="0.9"/>
<text x="399" y="581.4" font-size="11" text-anchor="end" fill="#1a1a1a" font-weight="normal" font-style="normal" >6.0</text>
<line x1="401.2" y1="535.6" x2="403.7" y2="535.6" stroke="#3a3a3a" stroke-width="0.9"/>
<text x="399" y="539.6" font-size="11" text-anchor="end" fill="#1a1a1a" font-weight="normal" font-style="normal" >7.0</text>
<line x1="401.2" y1="493.8" x2="403.7" y2="493.8" stroke="#3a3a3a" stroke-width="0.9"/>
<text x="399" y="497.8" font-size="11" text-anchor="end" fill="#1a1a1a" font-weight="normal" font-style="normal" >8.0</text>
<line x1="401.2" y1="452" x2="403.7" y2="452" stroke="#3a3a3a" stroke-width="0.9"/>
<text x="399" y="456" font-size="11" text-anchor="end" fill="#1a1a1a" font-weight="normal" font-style="normal" >9.0</text>
<line x1="401.2" y1="410.2" x2="403.7" y2="410.2" stroke="#3a3a3a" stroke-width="0.9"/>
<text x="399" y="414.2" font-size="11" text-anchor="end" fill="#1a1a1a" font-weight="normal" font-style="normal" >10.0</text>
<line x1="644.9" y1="550.55" x2="642.4" y2="550.55" stroke="#3a3a3a" stroke-width="0.9"/>
<text x="648" y="554.55" font-size="11" text-anchor="start" fill="#1a1a1a" font-weight="normal" font-style="normal" >0.03</text>
<line x1="644.9" y1="522.8" x2="642.4" y2="522.8" stroke="#3a3a3a" stroke-width="0.9"/>
<text x="648" y="526.8" font-size="11" text-anchor="start" fill="#1a1a1a" font-weight="normal" font-style="normal" >0.05</text>
<line x1="644.9" y1="495.05" x2="642.4" y2="495.05" stroke="#3a3a3a" stroke-width="0.9"/>
<text x="648" y="499.05" font-size="11" text-anchor="start" fill="#1a1a1a" font-weight="normal" font-style="normal" >0.08</text>
<line x1="644.9" y1="467.3" x2="642.4" y2="467.3" stroke="#3a3a3a" stroke-width="0.9"/>
<text x="648" y="471.3" font-size="11" text-anchor="start" fill="#1a1a1a" font-weight="normal" font-style="normal" >0.10</text>
<line x1="644.9" y1="439.55" x2="642.4" y2="439.55" stroke="#3a3a3a" stroke-width="0.9"/>
<text x="648" y="443.55" font-size="11" text-anchor="start" fill="#1a1a1a" font-weight="normal" font-style="normal" >0.12</text>
<line x1="644.9" y1="411.8" x2="642.4" y2="411.8" stroke="#3a3a3a" stroke-width="0.9"/>
<text x="648" y="415.8" font-size="11" text-anchor="start" fill="#1a1a1a" font-weight="normal" font-style="normal" >0.15</text>
<line x1="404.62" y1="577.4" x2="404.62" y2="575.6" stroke="#3a3a3a" stroke-width="0.9"/>
<line x1="411.9" y1="577.4" x2="411.9" y2="574.4" stroke="#3a3a3a" stroke-width="0.9"/>
<line x1="419.18" y1="577.4" x2="419.18" y2="575.6" stroke="#3a3a3a" stroke-width="0.9"/>
<line x1="426.46" y1="577.4" x2="426.46" y2="575.6" stroke="#3a3a3a" stroke-width="0.9"/>
<line x1="433.74" y1="577.4" x2="433.74" y2="575.6" stroke="#3a3a3a" stroke-width="0.9"/>
<line x1="441.02" y1="577.4" x2="441.02" y2="574.4" stroke="#3a3a3a" stroke-width="0.9"/>
<line x1="448.3" y1="577.4" x2="448.3" y2="575.6" stroke="#3a3a3a" stroke-width="0.9"/>
<line x1="455.58" y1="577.4" x2="455.58" y2="575.6" stroke="#3a3a3a" stroke-width="0.9"/>
<line x1="462.86" y1="577.4" x2="462.86" y2="575.6" stroke="#3a3a3a" stroke-width="0.9"/>
<line x1="470.14" y1="577.4" x2="470.14" y2="574.4" stroke="#3a3a3a" stroke-width="0.9"/>
<line x1="477.42" y1="577.4" x2="477.42" y2="575.6" stroke="#3a3a3a" stroke-width="0.9"/>
<line x1="484.7" y1="577.4" x2="484.7" y2="575.6" stroke="#3a3a3a" stroke-width="0.9"/>
<line x1="491.98" y1="577.4" x2="491.98" y2="575.6" stroke="#3a3a3a" stroke-width="0.9"/>
<line x1="499.26" y1="577.4" x2="499.26" y2="574.4" stroke="#3a3a3a" stroke-width="0.9"/>
<line x1="506.54" y1="577.4" x2="506.54" y2="575.6" stroke="#3a3a3a" stroke-width="0.9"/>
<line x1="513.82" y1="577.4" x2="513.82" y2="575.6" stroke="#3a3a3a" stroke-width="0.9"/>
<line x1="521.1" y1="577.4" x2="521.1" y2="575.6" stroke="#3a3a3a" stroke-width="0.9"/>
<line x1="528.38" y1="577.4" x2="528.38" y2="574.4" stroke="#3a3a3a" stroke-width="0.9"/>
<line x1="535.66" y1="577.4" x2="535.66" y2="575.6" stroke="#3a3a3a" stroke-width="0.9"/>
<line x1="542.94" y1="577.4" x2="542.94" y2="575.6" stroke="#3a3a3a" stroke-width="0.9"/>
<line x1="550.22" y1="577.4" x2="550.22" y2="575.6" stroke="#3a3a3a" stroke-width="0.9"/>
<line x1="557.5" y1="577.4" x2="557.5" y2="574.4" stroke="#3a3a3a" stroke-width="0.9"/>
<line x1="564.78" y1="577.4" x2="564.78" y2="575.6" stroke="#3a3a3a" stroke-width="0.9"/>
<line x1="572.06" y1="577.4" x2="572.06" y2="575.6" stroke="#3a3a3a" stroke-width="0.9"/>
<line x1="579.34" y1="577.4" x2="579.34" y2="575.6" stroke="#3a3a3a" stroke-width="0.9"/>
<line x1="586.62" y1="577.4" x2="586.62" y2="574.4" stroke="#3a3a3a" stroke-width="0.9"/>
<line x1="593.9" y1="577.4" x2="593.9" y2="575.6" stroke="#3a3a3a" stroke-width="0.9"/>
<line x1="601.18" y1="577.4" x2="601.18" y2="575.6" stroke="#3a3a3a" stroke-width="0.9"/>
<line x1="608.46" y1="577.4" x2="608.46" y2="575.6" stroke="#3a3a3a" stroke-width="0.9"/>
<line x1="615.74" y1="577.4" x2="615.74" y2="574.4" stroke="#3a3a3a" stroke-width="0.9"/>
<line x1="623.02" y1="577.4" x2="623.02" y2="575.6" stroke="#3a3a3a" stroke-width="0.9"/>
<line x1="630.3" y1="577.4" x2="630.3" y2="575.6" stroke="#3a3a3a" stroke-width="0.9"/>
<line x1="637.58" y1="577.4" x2="637.58" y2="575.6" stroke="#3a3a3a" stroke-width="0.9"/>
<line x1="644.86" y1="577.4" x2="644.86" y2="574.4" stroke="#3a3a3a" stroke-width="0.9"/>
<text x="411.9" y="588.4" font-size="11" text-anchor="middle" fill="#1a1a1a" font-weight="normal" font-style="normal" >5.0</text>
<text x="441.02" y="588.4" font-size="11" text-anchor="middle" fill="#1a1a1a" font-weight="normal" font-style="normal" >5.2</text>
<text x="470.14" y="588.4" font-size="11" text-anchor="middle" fill="#1a1a1a" font-weight="normal" font-style="normal" >5.4</text>
<text x="499.26" y="588.4" font-size="11" text-anchor="middle" fill="#1a1a1a" font-weight="normal" font-style="normal" >5.6</text>
<text x="528.38" y="588.4" font-size="11" text-anchor="middle" fill="#1a1a1a" font-weight="normal" font-style="normal" >5.8</text>
<text x="557.5" y="588.4" font-size="11" text-anchor="middle" fill="#1a1a1a" font-weight="normal" font-style="normal" >6.0</text>
<text x="586.62" y="588.4" font-size="11" text-anchor="middle" fill="#1a1a1a" font-weight="normal" font-style="normal" >6.2</text>
<text x="615.74" y="588.4" font-size="11" text-anchor="middle" fill="#1a1a1a" font-weight="normal" font-style="normal" >6.4</text>
<text x="644.86" y="588.4" font-size="11" text-anchor="middle" fill="#1a1a1a" font-weight="normal" font-style="normal" >6.6</text>
<text x="506" y="602.1" font-size="11" fill="#1a1a1a">I<tspan font-size="8" dy="2.2">1</tspan><tspan dy="-2.2"> (mA)</tspan></text>
<text x="0" y="0" font-size="11" fill="#1a1a1a" text-anchor="middle" transform="translate(372,489.5) rotate(-90)">Frequency (GHz)</text>
<text x="0" y="0" font-size="11" fill="#1a1a1a" text-anchor="middle" transform="translate(680.6,489) rotate(-90)">FFT Amplitude (a.u.)</text>
</svg>
</body></html>
